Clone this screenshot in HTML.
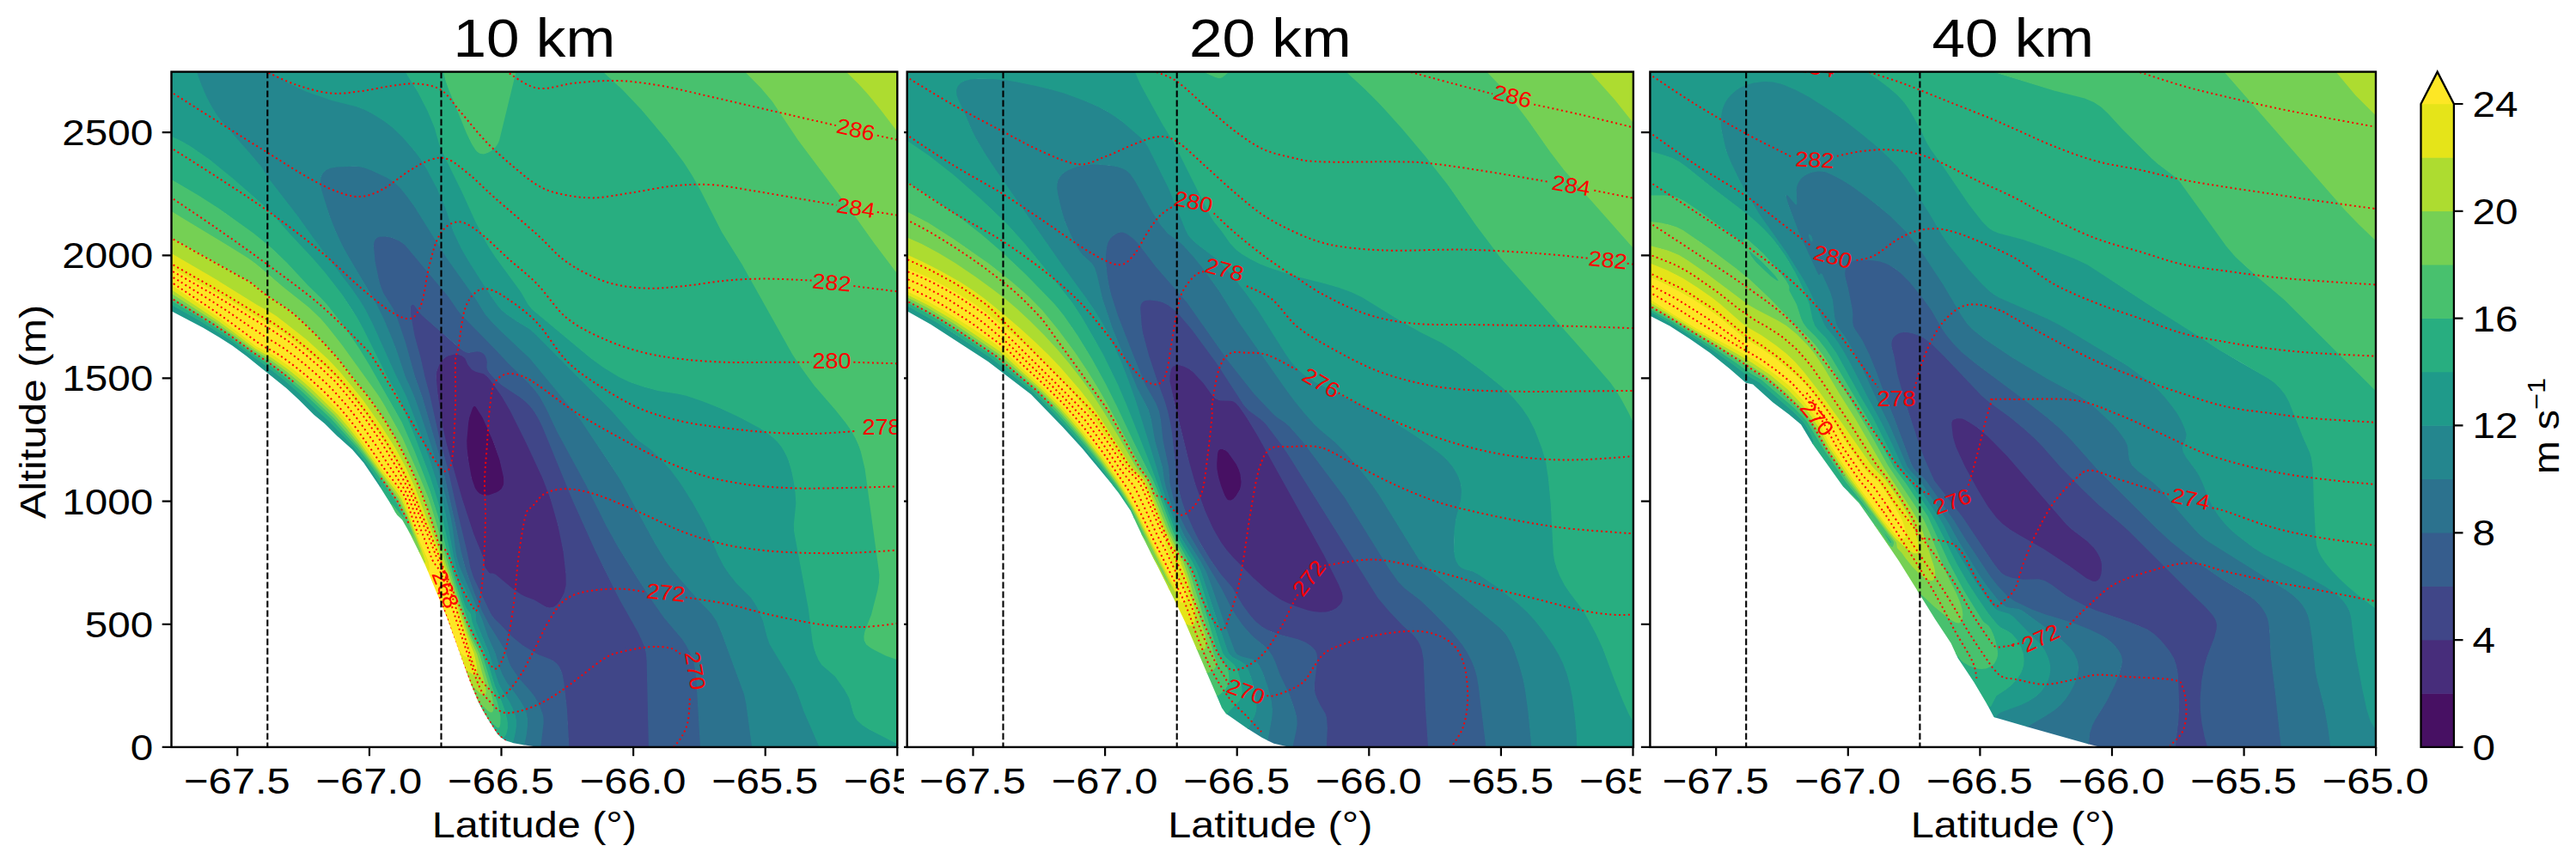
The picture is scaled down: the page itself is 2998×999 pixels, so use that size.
<!DOCTYPE html><html><head><meta charset="utf-8"><title>chart</title><style>html,body{margin:0;padding:0;background:#fff}svg{display:block}</style></head><body>
<svg width="2998" height="999" viewBox="0 0 2998 999">
<rect width="2998" height="999" fill="#fff"/>
<clipPath id="cf1"><rect x="199.5" y="83.6" width="844.8" height="786.3"/></clipPath>
<clipPath id="cx1"><rect x="0.0" y="0" width="1052.0" height="999"/></clipPath>
<g clip-path="url(#cx1)">
<rect x="0.0" y="0" width="1052.0" height="999" fill="#fff"/>
<g clip-path="url(#cf1)">
<path fill="#471063" fill-rule="evenodd" d="M550.8,472.6L549.0,475.3L545.5,485.9L544.2,493.5L542.7,508.5L542.9,523.5L546.3,547.6L549.8,562.6L552.1,568.5L554.1,571.7L556.8,574.6L561.4,577.0L564.5,577.5L569.1,577.3L578.2,574.1L581.7,571.8L584.3,569.4L586.4,565.7L587.1,562.6L586.8,554.9L581.7,533.9L572.4,508.4L563.8,488.8L560.3,482.3L554.3,473.2L552.5,472.1Z"/>
<path fill="#472d7b" fill-rule="evenodd" d="M525.4,412.3L518.5,415.2L513.3,419.7L509.9,425.9L507.1,434.8L507.2,445.5L512.6,486.1L517.6,511.7L535.6,575.9L550.6,622.1L562.5,651.1L563.1,654.0L562.5,657.0L564.1,661.4L568.8,667.6L570.4,668.4L573.5,668.2L576.3,669.4L595.8,685.7L606.3,693.0L610.8,695.3L621.5,699.4L634.9,707.1L639.5,708.3L644.2,707.6L647.3,705.8L650.7,702.3L656.4,692.6L658.3,687.1L659.3,682.6L659.5,672.0L656.7,644.9L651.9,619.4L644.4,590.5L635.4,564.0L618.9,527.4L597.0,482.8L586.9,464.8L574.7,446.8L569.3,439.9L564.7,435.6L561.6,434.0L554.1,432.2L549.8,429.7L545.2,424.3L541.9,416.8L539.2,414.4L533.0,412.1L528.5,411.9ZM553.7,473.7L561.6,486.2L574.1,514.6L581.4,535.6L586.2,556.6L586.1,563.9L583.7,568.9L581.3,571.2L577.8,573.3L568.9,576.5L563.1,576.6L558.7,574.9L555.8,572.6L552.9,568.3L548.9,556.4L544.9,533.9L543.6,522.0L543.3,513.0L545.2,492.1L546.3,486.1L549.9,475.4L551.2,473.3L552.4,472.9Z"/>
<path fill="#404688" fill-rule="evenodd" d="M477.3,356.9L477.1,364.8L481.6,390.3L488.9,417.1L493.9,439.6L499.2,459.1L511.6,514.5L520.1,544.6L532.6,600.3L542.4,640.6L546.8,661.6L549.1,669.3L552.1,676.8L570.2,714.2L575.6,721.8L582.2,727.9L594.2,740.7L603.3,748.5L613.8,755.9L625.8,762.8L643.3,769.8L647.1,772.8L650.6,777.2L652.8,781.6L654.4,787.6L658.0,814.5L659.7,832.5L661.6,869.9L755.7,869.9L753.4,769.5L752.6,760.4L750.2,751.4L746.5,742.3L742.0,733.3L718.4,691.3L701.8,658.3L690.4,634.3L668.4,585.2L633.9,501.0L627.4,487.3L620.3,475.9L614.3,469.0L606.7,462.8L584.2,447.7L576.8,441.2L570.7,434.7L568.6,431.8L567.4,428.9L567.6,421.5L566.7,416.9L565.3,413.8L563.3,411.3L560.2,409.4L557.1,408.5L553.9,408.5L547.9,410.0L545.0,410.2L542.2,409.5L538.9,407.7L529.4,400.2L492.2,367.2L489.3,364.2L482.2,354.6L480.6,353.9L478.8,354.2ZM518.2,416.3L522.6,414.0L528.5,412.7L532.9,412.8L537.7,414.4L541.2,417.2L544.5,424.7L549.2,430.4L553.9,432.9L562.8,435.3L567.2,438.8L570.6,442.8L583.4,460.7L593.1,477.2L612.1,515.2L631.6,557.2L640.6,581.0L649.4,612.1L655.5,642.1L658.5,669.0L658.7,681.0L656.6,689.9L653.9,695.8L650.1,701.8L647.3,704.7L643.9,706.8L639.5,707.5L635.2,706.4L621.9,698.6L611.2,694.6L606.7,692.3L596.2,685.1L576.7,668.7L573.6,667.4L570.6,667.6L569.2,666.9L564.9,661.0L563.3,657.0L563.9,654.0L563.3,650.9L551.4,621.9L537.9,580.7L519.9,517.2L515.4,497.5L509.4,457.5L507.6,438.0L508.5,432.1L511.3,424.7L513.9,420.3Z"/>
<path fill="#365d8d" fill-rule="evenodd" d="M438.3,276.5L436.1,278.8L434.7,281.9L434.2,289.5L436.3,307.6L440.5,327.1L442.8,334.6L445.6,341.8L457.2,360.2L461.1,369.1L471.1,398.7L482.2,438.1L490.8,462.1L513.9,541.6L529.2,609.1L536.2,643.6L542.1,664.6L550.6,688.6L559.6,710.5L568.7,727.7L587.3,757.7L591.7,771.1L594.1,776.6L603.2,789.9L620.7,810.2L624.4,816.2L628.0,823.7L631.1,832.6L632.0,840.0L628.5,869.9L662.4,869.9L659.9,825.0L656.2,793.4L654.5,784.4L651.3,776.8L649.1,773.7L646.0,770.7L640.6,767.6L626.2,762.1L608.2,751.2L596.3,741.5L582.8,727.4L575.3,720.3L572.3,716.3L569.4,710.8L551.4,672.9L547.6,661.4L543.2,640.4L533.4,600.1L520.9,544.4L512.4,514.3L500.0,458.9L494.7,439.4L489.7,416.9L482.4,390.2L477.9,364.5L477.9,357.6L479.2,354.9L480.5,354.7L481.8,355.3L488.7,364.7L491.6,367.8L536.3,406.8L541.8,410.2L544.9,411.0L555.5,409.2L559.8,410.1L562.7,411.9L564.7,414.2L566.3,418.6L566.8,421.5L566.4,427.5L567.1,430.6L571.7,437.1L579.2,444.5L585.3,449.5L604.7,462.3L610.7,466.9L616.7,472.7L622.3,480.2L627.1,488.5L631.6,497.9L666.1,582.0L692.5,640.7L720.8,697.7L742.8,736.7L749.5,751.6L751.8,760.6L752.6,769.5L754.9,869.9L814.8,869.9L815.7,868.5L810.7,784.5L808.4,772.4L804.0,760.3L799.4,751.3L794.5,743.8L773.3,718.8L759.8,699.4L741.8,672.2L719.3,635.7L705.9,611.2L682.5,563.8L648.9,501.9L635.5,473.8L628.8,461.8L623.3,454.2L614.3,444.2L591.8,422.2L576.9,406.2L537.1,365.7L533.3,361.1L522.2,344.8L471.8,284.7L464.2,279.5L453.6,275.4L444.5,274.5L441.4,275.0Z"/>
<path fill="#2c728e" fill-rule="evenodd" d="M405.5,193.1L392.0,193.8L384.4,194.9L378.8,197.7L375.2,201.2L372.6,206.9L372.1,213.0L373.2,220.6L376.6,232.6L386.5,261.1L396.5,283.7L403.9,297.2L433.7,347.3L446.2,372.2L459.8,405.1L471.1,438.7L482.7,465.1L504.1,528.8L516.1,571.0L524.3,604.6L529.6,641.6L531.1,649.6L534.1,659.9L561.1,723.2L567.1,741.3L575.9,760.6L580.6,776.8L583.6,784.8L589.4,795.2L599.7,808.7L605.8,817.7L609.2,823.7L611.7,829.6L613.3,837.0L613.3,844.5L612.0,854.9L609.6,867.2L623.9,869.6L629.3,869.9L632.7,841.5L632.5,835.5L631.5,830.9L627.4,820.3L622.4,811.3L617.9,805.2L603.8,789.4L594.9,776.2L592.4,770.9L588.0,757.3L569.3,727.3L560.7,710.8L552.9,692.2L544.3,668.9L540.5,656.9L537.0,643.4L529.9,608.9L514.6,541.4L491.5,461.9L482.9,437.9L471.9,398.4L462.4,370.4L457.9,359.8L446.4,341.4L443.5,334.4L440.9,325.4L436.6,304.4L434.9,286.5L435.4,282.1L436.7,279.2L438.7,277.1L441.6,275.7L449.0,275.4L456.4,277.0L465.3,281.0L471.2,285.3L521.6,345.3L532.7,361.6L536.5,366.3L576.3,406.8L591.2,422.8L615.2,446.3L622.7,454.7L628.7,463.1L635.6,475.7L648.1,502.3L681.7,564.2L705.1,611.6L718.7,636.1L741.2,672.6L759.2,699.9L772.7,719.3L793.7,744.0L798.7,751.7L803.3,760.7L807.7,772.6L810.0,786.0L814.9,868.4L813.9,869.9L875.9,869.9L869.0,818.9L866.8,808.4L840.2,736.4L834.5,722.8L828.3,713.7L812.5,697.2L791.5,673.2L781.5,661.3L774.8,652.1L762.8,632.4L723.1,559.3L677.4,490.3L669.4,479.7L617.3,417.1L582.8,384.4L572.3,373.7L565.4,365.8L552.8,345.4L520.3,299.8L483.8,241.5L474.8,228.9L467.3,219.5L461.3,213.6L453.7,208.1L446.2,204.1L431.2,197.2L425.1,194.9L419.1,193.5Z"/>
<path fill="#24868e" fill-rule="evenodd" d="M228.2,83.6L233.1,97.6L239.5,112.7L245.8,124.7L252.5,135.2L258.3,142.8L292.7,181.7L303.9,195.2L312.4,208.7L346.7,253.0L363.1,276.2L411.7,340.7L422.6,357.2L432.7,376.7L459.1,435.2L473.6,465.2L489.1,506.1L501.1,540.5L510.0,568.6L516.7,592.6L520.2,609.1L527.3,648.1L531.1,663.6L534.1,673.3L536.2,678.2L539.9,684.2L552.1,711.8L553.1,715.5L553.1,721.5L553.8,724.6L568.0,759.1L579.3,795.2L582.2,801.1L592.4,817.7L596.7,826.7L598.9,832.6L600.1,838.5L600.1,846.0L599.0,853.4L596.4,865.0L610.4,867.4L612.8,855.1L614.1,844.5L614.0,837.0L612.5,829.4L609.9,823.3L606.4,817.3L600.3,808.3L590.0,794.8L584.4,784.4L581.4,776.6L576.6,760.4L567.9,741.0L561.9,722.9L534.9,659.6L531.9,649.4L530.4,641.5L526.9,614.9L524.4,601.2L518.4,576.5L509.4,543.4L500.4,514.5L486.9,474.4L480.9,458.2L471.6,437.9L462.1,409.4L456.9,395.5L446.9,371.8L437.3,352.3L404.5,296.8L398.0,284.8L390.3,268.3L383.4,250.4L374.4,221.9L373.2,215.9L372.9,211.5L373.8,205.6L375.8,201.7L379.2,198.3L384.6,195.7L392.0,194.6L410.0,193.8L417.5,194.1L423.4,195.3L432.3,198.6L450.3,207.1L457.8,211.8L464.6,217.8L471.2,225.4L481.7,239.8L519.6,300.2L552.2,345.9L564.7,366.2L571.7,374.2L582.2,385.0L616.7,417.6L674.6,487.7L709.9,540.2L722.4,559.7L762.2,632.8L774.2,652.6L780.9,661.7L790.8,673.8L811.9,697.8L827.7,714.3L833.8,723.2L839.5,736.6L866.0,808.6L868.2,819.1L875.1,869.9L954.4,869.9L936.2,827.8L928.7,806.9L924.9,797.9L919.0,787.3L896.4,749.7L893.7,742.4L888.7,722.9L881.4,705.9L874.8,695.8L858.1,679.2L849.7,668.8L843.5,659.8L836.4,646.3L825.8,620.8L820.1,608.8L806.7,584.8L792.5,562.3L781.3,547.2L767.9,532.2L758.3,523.0L744.7,513.5L740.3,509.6L711.3,476.7L621.8,387.0L615.7,381.9L602.2,373.9L590.2,365.7L584.8,361.2L580.6,356.7L572.3,345.1L555.8,319.3L543.7,299.8L536.1,286.3L527.8,268.4L520.5,245.9L513.9,229.3L507.9,216.3L498.8,199.1L486.8,180.3L470.3,160.6L459.8,150.2L450.7,142.7L438.7,134.8L426.7,128.0L413.1,122.8L383.1,115.3L357.4,106.1L346.9,101.6L336.7,96.5L315.9,83.6Z"/>
<path fill="#1f9a8a" fill-rule="evenodd" d="M314.9,83.6L336.3,97.2L355.8,106.4L385.9,117.0L415.9,124.5L423.3,127.4L430.8,131.1L445.8,140.2L456.2,148.1L468.2,159.6L481.7,175.0L489.2,185.0L495.2,194.4L508.6,219.7L518.6,243.1L527.7,270.2L536.9,289.7L545.7,304.7L565.7,336.3L579.2,356.2L583.7,361.3L589.8,366.3L601.8,374.6L615.3,382.5L621.2,387.5L710.7,477.3L739.7,510.2L744.3,514.1L757.7,523.7L767.3,532.8L780.7,547.8L791.8,562.7L806.0,585.2L819.4,609.2L825.1,621.2L835.7,646.7L842.9,660.2L849.1,669.2L857.5,679.8L874.2,696.3L880.6,706.3L887.9,723.1L892.9,742.6L895.6,750.1L918.3,787.7L924.1,798.3L928.0,807.1L935.4,828.2L953.6,869.9L1044.3,869.9L1044.3,865.4L1011.7,848.7L1004.2,843.8L998.2,838.2L996.0,835.3L993.9,830.9L989.0,812.8L983.3,802.3L972.6,787.2L957.0,773.7L953.4,768.3L950.4,761.9L948.0,754.4L946.4,746.9L941.5,707.9L925.0,619.4L924.6,610.5L926.8,592.5L927.1,585.0L926.2,573.0L924.3,559.4L920.9,544.4L916.9,532.3L911.4,521.8L905.3,514.0L895.6,505.2L882.7,496.7L855.7,482.6L830.2,471.2L813.0,464.6L798.6,460.0L789.6,458.0L765.6,454.2L750.6,450.3L735.6,445.2L722.2,439.0L704.2,428.2L687.7,416.5L619.7,359.7L615.0,353.8L606.8,339.6L576.8,298.6L569.3,287.0L563.4,276.3L552.9,255.1L538.4,223.3L514.9,175.3L512.0,167.9L506.4,148.4L498.3,128.8L486.8,106.9L472.4,83.6ZM199.8,159.7L211.8,165.6L222.3,171.6L244.8,187.3L274.7,212.1L300.2,234.0L310.7,243.7L337.2,273.3L364.7,302.7L378.2,318.5L399.2,345.6L409.7,361.3L417.2,373.8L451.1,441.2L460.6,457.8L465.1,466.9L478.6,499.4L496.6,546.4L504.2,568.6L510.5,589.6L515.5,609.1L526.6,658.5L532.4,678.1L535.5,685.6L536.0,690.1L538.6,699.2L541.6,707.4L547.1,715.6L548.8,724.6L554.4,739.7L563.3,759.1L575.2,798.1L582.9,816.1L588.1,831.1L590.1,841.5L589.7,850.4L588.3,854.8L586.7,857.3L585.4,858.2L582.4,858.3L588.3,862.3L597.2,865.1L599.8,853.6L600.9,846.0L600.9,838.5L599.6,832.4L597.4,826.3L593.1,817.3L582.8,800.6L580.1,794.8L568.7,758.9L554.6,724.4L553.9,721.5L553.9,715.4L552.9,711.6L540.7,683.8L536.9,677.8L534.9,673.1L531.9,663.4L528.1,647.9L520.7,607.4L516.9,590.2L508.5,560.9L498.9,531.4L484.7,491.9L473.1,461.8L459.8,434.8L433.4,376.3L425.0,359.8L418.6,349.3L409.1,335.8L363.8,275.8L347.3,252.6L313.1,208.3L303.8,193.8L291.8,179.4L260.2,143.7L253.1,134.8L246.5,124.3L240.2,112.3L233.9,97.4L229.0,83.6L199.5,83.6ZM429.8,542.7L410.3,517.9L383.3,489.8L369.8,477.8L348.5,457.2L329.5,440.7L306.1,422.7L266.2,394.1L233.1,373.2L199.5,354.2L199.5,362.2L236.2,381.5L253.5,391.7L270.5,402.5L286.7,414.4L333.6,452.3L348.4,466.0L365.4,483.0L377.9,493.2L392.2,507.4L410.1,523.5L423.2,538.8L442.3,566.9L443.2,567.3L444.2,565.4L441.8,561.2Z"/>
<path fill="#28ae80" fill-rule="evenodd" d="M471.6,83.6L486.2,107.3L497.6,129.2L505.6,148.6L511.2,168.1L514.1,175.7L537.7,223.7L552.1,255.5L562.6,276.7L568.7,287.4L576.2,299.1L606.2,340.1L614.3,354.2L619.1,360.3L687.3,417.1L702.3,427.9L720.3,438.9L732.3,444.7L747.4,450.1L765.4,455.0L789.4,458.8L798.4,460.8L816.9,466.9L837.3,475.1L861.3,486.3L886.8,500.1L898.8,508.8L904.7,514.5L909.2,520.0L914.1,528.2L917.9,537.1L921.3,549.1L924.0,562.6L925.6,574.5L926.3,586.5L923.8,610.5L924.2,619.5L940.7,708.1L945.6,747.1L947.2,754.6L949.7,762.1L952.7,768.7L956.4,774.2L972.0,787.8L982.6,802.7L988.3,813.1L993.2,831.1L995.3,835.7L997.7,838.9L1003.8,844.4L1011.3,849.3L1044.3,866.3L1044.3,767.5L1031.2,762.8L1013.2,753.5L1008.7,749.8L1007.0,746.9L1006.2,744.0L1006.3,739.6L1007.3,735.1L1014.9,715.6L1021.5,690.1L1023.6,679.6L1024.2,670.5L1023.4,661.4L1008.1,550.4L1004.9,533.9L1000.8,520.4L994.7,506.8L987.0,494.8L974.1,478.2L948.1,448.3L933.9,428.8L922.1,410.8L864.8,308.4L840.6,269.8L822.7,233.8L810.5,211.3L801.5,196.3L791.2,181.3L767.6,151.2L744.4,124.2L724.2,103.2L702.7,83.6L599.8,83.6L579.8,164.9L576.2,170.7L571.8,174.7L565.9,177.9L561.5,178.7L558.7,178.1L555.1,175.2L551.3,170.1L546.9,162.0L521.5,100.4L519.0,92.9L516.7,83.6ZM199.5,209.8L232.8,229.4L261.3,248.1L298.8,275.4L309.2,283.8L319.7,293.1L337.5,310.8L359.7,334.8L373.7,348.2L382.7,358.3L405.8,388.7L427.0,421.7L461.5,481.7L468.1,494.4L483.1,529.0L500.3,573.1L509.3,601.6L523.3,657.1L535.6,698.9L549.7,739.6L557.6,754.7L560.1,760.6L571.6,798.7L578.0,817.6L581.5,834.0L581.7,841.5L580.7,846.3L579.5,846.6L578.2,845.9L566.7,835.6L578.8,854.5L583.3,859.0L585.7,858.9L587.3,857.8L589.1,855.2L591.0,847.5L590.7,839.9L588.5,829.4L583.6,815.9L575.9,797.9L564.0,758.9L555.1,739.3L549.6,724.4L547.9,715.4L546.8,713.1L543.8,709.7L542.4,707.1L539.4,698.9L536.8,689.9L536.3,685.4L533.1,677.9L527.4,658.3L516.3,608.9L511.7,590.9L506.9,574.4L500.4,554.6L481.8,505.4L465.9,466.6L461.4,457.4L451.8,440.8L422.4,381.9L414.8,368.2L398.3,343.0L377.3,316.1L363.8,300.5L337.8,272.7L318.8,251.1L309.8,241.7L270.8,207.6L243.7,185.5L221.2,170.0L210.7,164.1L199.5,158.7ZM199.8,355.2L232.7,373.8L265.8,394.8L309.7,426.3L330.8,442.8L349.6,459.3L369.2,478.3L382.7,490.4L412.7,521.9L424.8,537.2L432.2,547.6L443.4,565.5L442.9,566.4L441.3,565.5L454.7,586.7L469.7,604.6L471.8,605.8L471.9,603.6L459.8,580.7L431.3,540.0L416.3,520.5L386.3,487.5L351.8,455.0L333.5,439.2L311.8,422.7L294.7,411.3L267.2,391.2L249.1,379.2L233.2,369.1L199.5,349.5Z"/>
<path fill="#48c16e" fill-rule="evenodd" d="M701.7,83.6L725.2,105.3L746.5,127.8L775.5,162.3L795.9,189.2L805.5,204.2L814.8,220.7L840.2,270.6L863.5,307.7L922.3,412.7L933.3,429.2L947.5,448.7L972.2,477.3L984.2,492.2L990.5,501.2L995.5,510.2L998.9,517.6L1002.0,526.6L1006.6,546.1L1023.4,669.0L1023.0,678.0L1021.4,686.9L1014.1,715.4L1006.5,734.9L1005.4,741.0L1005.7,745.6L1008.2,750.4L1014.3,755.1L1030.8,763.5L1044.3,768.3L1044.3,317.7L1017.3,281.8L992.3,246.6L929.3,162.6L899.3,117.6L886.0,101.7L867.9,83.6ZM515.9,83.6L518.7,94.6L522.1,104.1L543.1,155.6L549.2,168.0L553.7,174.9L556.0,177.3L558.3,178.8L563.1,179.4L569.2,177.2L573.5,174.3L576.8,171.2L579.8,166.7L581.1,163.6L600.6,83.6ZM199.8,247.1L265.8,287.1L292.8,304.3L303.2,312.3L329.1,334.8L351.2,352.2L364.3,363.3L376.7,376.0L394.7,398.4L442.7,465.2L461.4,498.2L468.1,511.2L489.5,559.7L498.2,580.6L505.6,604.4L522.1,662.0L537.1,710.4L547.6,741.6L555.1,756.2L557.9,763.6L572.7,814.6L573.7,822.0L573.1,827.8L571.9,828.9L569.2,827.7L555.7,815.2L561.8,827.3L567.7,837.1L577.8,846.6L579.5,847.5L581.2,846.9L582.3,843.0L582.5,835.5L581.4,827.9L578.8,817.4L572.4,798.5L560.8,760.4L558.3,754.3L550.5,739.4L536.4,698.7L524.1,656.9L509.6,599.9L499.9,569.9L482.4,525.1L467.8,491.8L430.3,425.8L417.8,405.3L401.1,380.8L380.3,354.2L372.9,346.2L358.9,332.7L333.8,305.8L315.8,288.4L294.7,271.3L257.2,244.4L230.2,226.9L199.5,209.0ZM246.7,374.3L199.5,345.3L199.5,350.3L234.5,370.8L262.3,388.8L294.3,412.0L311.3,423.3L327.3,435.4L349.7,454.2L385.7,488.1L415.7,521.0L430.7,540.5L454.7,574.5L462.2,586.2L471.2,604.7L458.3,589.3L453.9,585.3L460.0,596.4L462.3,599.7L468.1,605.3L476.5,619.9L479.5,624.2L480.2,626.0L481.7,628.4L482.3,628.4L482.9,627.0L482.5,625.4L474.9,604.9L465.9,586.2L461.4,578.8L431.3,536.8L417.8,519.0L388.7,485.7L353.3,452.1L332.2,434.4L312.7,419.9L294.7,408.5L264.7,386.6Z"/>
<path fill="#75d054" fill-rule="evenodd" d="M866.9,83.6L885.4,102.3L898.7,118.1L928.7,163.1L991.7,247.1L1017.8,283.7L1044.3,318.8L1044.3,152.2L1035.8,140.8L1021.9,122.8L1008.8,107.0L998.3,95.7L985.7,83.6ZM199.8,278.0L290.5,328.8L296.9,333.3L311.5,345.3L331.8,358.2L340.4,364.8L366.2,389.0L388.7,412.8L428.3,462.2L441.2,480.0L456.2,503.8L467.1,523.7L482.1,555.2L493.3,582.1L517.2,654.1L544.2,738.1L554.5,762.1L564.1,797.7L565.0,804.0L564.2,808.3L563.0,808.8L560.2,807.4L547.8,796.1L556.3,816.5L567.3,827.2L570.3,829.3L572.2,829.6L573.7,828.2L574.2,826.6L574.3,818.9L572.4,810.1L567.9,794.4L557.7,760.4L548.2,740.9L536.4,705.5L522.9,661.8L506.4,604.2L498.9,580.4L488.9,556.3L468.4,509.8L447.8,472.4L440.3,460.2L398.3,401.9L381.8,380.9L372.8,370.5L359.3,357.8L329.7,334.2L297.7,306.9L288.7,300.6L270.7,289.2L199.5,246.1ZM199.5,346.1L246.3,375.0L264.3,387.2L294.3,409.2L312.3,420.6L331.8,435.0L352.7,452.7L388.7,486.9L417.2,519.5L430.7,537.3L462.2,581.4L472.6,601.7L478.6,616.7L481.9,627.3L478.2,620.8L475.4,617.9L488.0,643.2L489.2,645.2L489.8,645.2L490.3,643.5L490.0,640.5L488.4,635.8L474.9,601.1L465.1,580.3L417.8,515.7L405.8,500.9L390.8,483.7L354.8,449.3L332.2,430.7L314.9,418.2L296.2,407.0L270.7,387.9L249.7,373.0L199.5,340.9Z"/>
<path fill="#addc30" fill-rule="evenodd" d="M984.7,83.6L999.2,97.8L1009.7,109.2L1024.8,127.7L1044.3,153.3L1044.3,83.6ZM199.8,296.1L256.8,329.5L299.1,355.8L316.8,365.7L331.8,376.5L360.2,399.4L385.7,423.2L405.2,445.5L417.7,460.7L426.6,472.7L446.2,501.2L460.7,524.1L471.1,543.7L481.8,567.2L513.8,651.1L542.5,739.6L551.4,762.1L554.4,777.0L554.5,781.5L553.7,784.2L552.4,784.9L549.7,784.0L541.6,778.7L548.3,797.3L559.8,808.1L562.9,809.6L564.7,809.0L565.8,805.5L564.9,797.5L555.3,761.9L544.9,737.9L516.5,649.4L492.9,578.9L480.9,550.5L465.9,519.6L452.3,495.9L436.8,472.3L395.3,419.5L384.8,407.2L356.3,378.2L344.4,367.2L335.2,359.7L312.0,344.7L297.4,332.7L290.2,327.7L199.5,277.0ZM474.1,601.4L489.2,640.6L489.4,643.6L487.0,641.2L494.2,656.6L495.6,655.7L495.9,653.9L492.0,641.9L475.5,598.4L467.8,580.3L460.4,569.8L444.8,549.9L417.8,512.1L405.8,496.6L390.8,479.2L371.5,460.2L356.7,446.7L333.7,428.0L317.2,416.3L297.7,405.3L254.2,372.7L199.5,336.4L199.5,341.8L250.8,374.7L295.8,407.6L314.5,418.8L334.8,433.6L354.7,450.3L388.7,482.6L403.7,499.6L417.2,516.2L464.4,580.7Z"/>
<path fill="#e5e419" fill-rule="evenodd" d="M199.8,312.6L258.3,345.3L298.8,369.9L319.1,381.3L334.8,392.1L360.2,412.4L387.2,436.4L400.7,451.4L423.2,480.1L438.2,501.5L454.7,527.8L469.6,554.6L479.3,574.7L490.1,601.7L507.1,641.5L514.6,661.4L541.6,746.8L544.9,759.1L545.1,762.0L544.7,763.6L543.4,764.4L540.5,763.2L532.6,753.3L542.0,779.7L550.8,785.4L552.6,785.7L554.2,784.8L555.2,781.5L555.2,777.0L551.7,760.4L543.2,739.4L514.5,650.9L482.5,566.8L471.9,543.4L459.8,521.2L443.9,496.3L421.7,464.8L395.3,432.5L381.8,418.2L356.3,394.9L321.7,368.0L314.2,363.2L299.5,355.2L252.7,326.1L199.5,295.0ZM257.2,370.7L199.5,331.1L199.5,337.3L253.8,373.4L297.3,406.0L316.8,417.0L337.8,432.1L352.7,444.3L364.4,454.8L393.4,483.3L406.1,498.3L417.7,513.2L444.2,550.4L459.8,570.2L467.1,580.7L474.7,598.7L490.2,639.1L495.1,654.0L495.0,655.2L493.9,655.8L498.3,666.0L498.8,665.7L500.4,663.6L500.8,661.5L499.5,653.9L489.9,631.5L482.4,612.0L472.4,583.4L469.5,577.3L465.2,571.2L447.8,549.9L414.2,502.3L397.6,481.2L387.8,470.7L369.8,453.2L354.8,439.9L339.7,427.9L318.7,413.1L299.3,403.2Z"/>
<path fill="#fde725" fill-rule="evenodd" d="M199.8,332.1L256.8,371.3L298.8,403.8L318.3,413.8L339.3,428.5L355.7,441.8L373.7,458.0L391.7,475.9L404.5,490.7L425.4,519.2L444.2,546.4L465.8,573.2L470.4,580.7L483.1,616.3L489.1,631.7L498.8,654.1L500.0,661.5L499.7,663.2L498.0,665.3L519.9,718.5L533.2,755.1L537.2,760.9L540.2,764.0L543.5,765.2L545.2,764.2L545.9,762.0L545.7,758.9L542.4,746.6L515.4,661.1L506.4,637.5L490.8,601.3L477.9,569.3L462.8,540.4L443.3,508.0L428.3,485.8L404.3,454.6L392.3,440.5L380.2,428.7L352.2,404.7L328.7,386.7L318.7,380.2L299.2,369.2L253.6,341.7L199.5,311.6Z"/>
<clipPath id="cr1"><path clip-rule="evenodd" d="M1044.3,869.9L1044.3,83.6L199.5,83.6L199.5,362.2L225.6,375.7L250.1,389.6L270.5,402.5L286.7,414.4L336.6,455.0L365.4,483.0L377.9,493.2L392.2,507.4L407.3,520.7L415.6,529.4L423.3,538.8L452.2,582.3L460.0,596.4L462.3,599.7L468.1,605.3L481.6,629.9L496.9,662.8L519.9,718.5L547.1,794.2L554.6,812.9L565.9,834.2L576.5,851.2L581.5,857.6L588.3,862.3L596.0,864.9L626.4,869.9Z"/></clipPath>
<g clip-path="url(#cr1)">
<g fill="none" stroke="#ff0000" stroke-width="2.0" stroke-dasharray="2.0 3.4">
<path d="M588.4,82.5 C594.5,85.8 611.4,100.2 625.0,102.6 C638.6,104.9 654.2,98.0 670.1,96.5 C686.0,95.1 703.5,93.4 720.2,94.0 C736.9,94.6 753.6,97.2 770.4,100.0 C787.1,102.9 803.8,107.3 820.5,111.1 C837.2,114.8 853.9,118.8 870.6,122.6 C887.3,126.4 903.6,130.2 920.7,134.1 C937.8,138.1 964.6,144.2 973.3,146.2"/>
<path d="M1020.9,157.7 L1046.0,163.2"/>
<path d="M307.8,82.5 C314.0,85.3 332.4,94.7 345.4,99.0 C358.3,103.4 372.9,107.4 385.4,108.6 C398.0,109.7 408.8,107.5 420.5,106.1 C432.2,104.6 444.8,101.5 455.6,100.0 C466.5,98.6 476.0,96.7 485.7,97.5 C495.4,98.4 505.4,99.6 513.7,105.1 C522.1,110.5 527.1,120.1 535.8,130.1 C544.5,140.1 555.8,154.8 565.9,165.2 C575.9,175.6 586.1,184.4 595.9,192.8 C605.8,201.1 616.0,209.9 625.0,215.3 C634.0,220.7 639.2,222.8 650.1,225.3 C660.9,227.8 676.0,230.5 690.2,230.4 C704.4,230.2 719.4,226.7 735.3,224.3 C751.1,222.0 769.5,217.8 785.4,216.3 C801.3,214.8 814.6,214.2 830.5,215.3 C846.4,216.4 863.9,220.2 880.6,222.8 C897.3,225.5 915.3,228.7 930.7,231.4 C946.2,234.0 966.2,237.6 973.3,238.9"/>
<path d="M1020.9,246.9 L1046.0,250.9"/>
<path d="M197.5,106.1 C207.1,112.2 236.2,130.7 255.1,142.6 C274.1,154.6 293.7,166.9 311.3,177.7 C328.8,188.6 346.4,200.0 360.4,207.8 C374.4,215.6 385.4,220.8 395.5,224.3 C405.5,227.8 412.2,229.5 420.5,228.8 C428.9,228.2 436.4,225.3 445.6,220.3 C454.8,215.4 466.5,205.0 475.7,199.3 C484.8,193.6 493.2,188.6 500.7,186.2 C508.2,183.9 513.2,182.5 520.8,185.2 C528.3,188.0 536.6,195.3 545.8,202.8 C555.0,210.3 562.7,218.7 575.9,230.4 C589.1,242.0 611.0,260.4 625.0,273.0 C639.0,285.5 646.7,296.3 660.1,305.5 C673.5,314.7 690.2,323.1 705.2,328.1 C720.2,333.1 735.3,334.8 750.3,335.6 C765.3,336.4 779.5,334.6 795.4,333.1 C811.3,331.6 829.7,328.0 845.5,326.6 C861.4,325.2 874.1,324.6 890.6,324.6 C907.2,324.6 935.7,326.2 944.8,326.6"/>
<path d="M993.4,333.1 L1046.0,339.6"/>
<path d="M197.5,171.2 C207.1,177.3 236.2,195.4 255.1,207.8 C274.1,220.2 292.1,231.6 311.3,245.4 C330.5,259.2 352.2,275.5 370.4,290.5 C388.6,305.5 406.3,323.5 420.5,335.6 C434.7,347.7 446.0,357.3 455.6,363.2 C465.2,369.0 472.3,372.4 478.2,370.7 C484.0,369.0 487.4,362.3 490.7,353.1 C494.0,344.0 495.3,327.7 498.2,315.6 C501.1,303.4 504.5,289.2 508.2,280.5 C512.0,271.7 515.8,266.5 520.8,262.9 C525.8,259.3 531.6,257.2 538.3,258.9 C545.0,260.6 552.1,266.0 560.9,273.0 C569.6,279.9 580.2,290.9 590.9,300.5 C601.6,310.1 613.5,318.9 625.0,330.6 C636.5,342.3 646.7,359.8 660.1,370.7 C673.5,381.5 690.2,389.1 705.2,395.7 C720.2,402.4 735.3,407.0 750.3,410.8 C765.3,414.5 779.5,416.5 795.4,418.3 C811.3,420.1 828.8,421.2 845.5,421.8 C862.2,422.4 879.1,421.8 895.6,421.8 C912.2,421.8 936.6,421.8 944.8,421.8"/>
<path d="M993.4,421.8 L1046.0,423.3"/>
<path d="M197.5,228.8 C207.1,235.4 236.2,254.7 255.1,267.9 C274.1,281.1 292.1,293.8 311.3,308.0 C330.5,322.2 352.2,337.7 370.4,353.1 C388.6,368.6 409.4,389.4 420.5,400.8 C431.6,412.1 428.8,408.5 437.0,421.0 C445.2,433.5 458.4,456.7 470.0,476.0 C481.6,495.3 498.4,524.7 506.7,536.7 C515.0,548.8 516.7,549.4 520.0,548.3 C523.3,547.2 525.0,543.0 526.7,530.0 C528.4,517.0 529.5,488.3 530.0,470.0 C530.5,451.7 529.5,430.7 530.0,420.0 C530.5,409.3 531.5,415.7 533.3,405.8 C535.1,395.9 537.5,371.5 540.8,360.7 C544.2,349.8 548.7,344.6 553.3,340.6 C557.9,336.6 562.1,335.4 568.4,336.6 C574.6,337.9 581.5,341.6 590.9,348.1 C600.4,354.6 613.5,363.6 625.0,375.7 C636.5,387.8 647.6,408.3 660.1,420.8 C672.6,433.3 686.0,441.7 700.2,450.9 C714.4,460.1 729.4,469.2 745.3,475.9 C761.2,482.6 778.7,487.2 795.4,491.0 C812.1,494.7 828.8,496.4 845.5,498.5 C862.2,500.6 878.9,502.4 895.6,503.5 C912.4,504.6 929.1,505.2 945.8,505.0 C962.5,504.7 987.5,502.5 995.9,502.0"/>
<path d="M197.0,276.0 C197.3,276.2 196.6,275.8 198.8,277.0 C200.9,278.2 206.3,281.2 210.1,283.4 C213.9,285.5 217.7,287.6 221.5,289.8 C225.3,291.9 229.0,294.0 232.8,296.2 C236.6,298.3 240.4,300.4 244.2,302.5 C248.0,304.7 251.8,306.8 255.6,308.9 C259.4,311.0 263.2,313.1 267.0,315.2 C270.8,317.3 274.6,319.4 278.4,321.6 C282.2,323.7 286.2,325.5 289.8,327.9 C293.4,330.2 296.5,333.1 299.8,335.7 C303.1,338.3 306.3,341.0 309.7,343.5 C313.1,346.0 316.8,348.3 320.3,350.6 C323.9,353.0 327.6,355.2 331.0,357.6 C334.5,360.1 338.0,362.5 341.2,365.2 C344.5,367.9 347.5,370.8 350.6,373.6 C353.6,376.4 356.7,379.3 359.7,382.2 C362.7,385.1 365.7,388.1 368.6,391.0 C371.5,394.0 374.5,397.0 377.3,400.0 C380.2,403.1 383.0,406.2 385.8,409.4 C388.6,412.5 391.4,415.5 394.1,418.8 C396.8,422.0 399.2,425.5 401.8,428.8 C404.4,432.1 406.9,435.5 409.5,438.8 C412.1,442.1 414.8,445.4 417.5,448.6 C420.1,451.9 422.9,455.0 425.5,458.3 C428.1,461.7 430.6,465.1 433.1,468.5 C435.5,472.0 438.0,475.4 440.5,478.9 C442.9,482.3 445.4,485.8 447.7,489.4 C450.0,493.0 452.1,496.8 454.3,500.5 C456.5,504.2 458.8,507.8 460.9,511.6 C463.1,515.4 465.0,519.4 467.0,523.3 C469.0,527.2 471.0,531.1 473.0,535.1 C474.9,539.1 476.9,543.0 478.8,547.0 C480.6,551.1 482.4,555.3 484.2,559.4 C486.0,563.5 487.9,567.5 489.6,571.7 C491.3,575.9 492.8,580.3 494.4,584.6 C496.0,588.9 497.6,593.2 499.1,597.6 C500.7,602.0 502.1,606.5 503.5,611.0 C505.0,615.4 506.4,619.9 507.9,624.4 C509.3,628.8 510.2,634.7 512.2,637.8 C514.2,640.9 515.9,635.5 520.0,643.0 C524.1,650.5 531.7,672.4 536.7,683.0 C541.7,693.6 547.0,702.2 550.0,706.7 C553.0,711.2 553.3,712.8 555.0,710.0 C556.7,707.2 558.6,700.0 560.0,690.0 C561.4,680.0 562.5,665.0 563.3,650.0 C564.1,635.0 564.9,615.0 565.0,600.0 C565.1,585.0 563.7,573.3 564.0,560.0 C564.3,546.7 565.7,534.2 566.7,520.0 C567.7,505.8 568.6,487.1 570.0,475.0 C571.4,462.9 572.1,454.0 575.0,447.5 C577.9,441.0 582.5,437.8 587.5,436.0 C592.5,434.2 598.9,435.2 605.0,437.0 C611.1,438.8 613.1,439.8 624.0,447.0 C634.9,454.2 654.1,469.7 670.1,480.1 C686.2,490.4 703.5,500.0 720.2,509.2 C736.9,518.3 753.6,527.7 770.4,535.2 C787.1,542.7 803.8,549.4 820.5,554.3 C837.2,559.1 853.9,561.9 870.6,564.3 C887.3,566.6 904.0,567.6 920.7,568.3 C937.4,569.0 949.9,568.6 970.8,568.3 C991.7,568.0 1033.5,566.6 1046.0,566.3"/>
<path d="M197.0,305.9 C197.2,306.0 196.8,305.8 197.9,306.5 C199.1,307.1 201.1,308.3 204.1,309.9 C207.0,311.6 211.7,314.3 215.6,316.4 C219.4,318.6 223.3,320.7 227.1,322.9 C230.9,325.1 234.8,327.2 238.6,329.4 C242.5,331.5 246.3,333.7 250.1,335.9 C254.0,338.0 257.7,340.3 261.5,342.5 C265.3,344.7 269.0,347.0 272.7,349.3 C276.4,351.6 280.2,353.8 283.9,356.1 C287.7,358.3 291.4,360.6 295.1,362.9 C298.9,365.1 302.7,367.3 306.5,369.5 C310.3,371.7 314.2,373.8 317.9,376.1 C321.6,378.4 325.1,380.9 328.6,383.4 C332.1,385.9 335.6,388.4 339.1,390.9 C342.5,393.5 345.8,396.2 349.1,398.9 C352.4,401.6 355.7,404.3 359.0,407.0 C362.2,409.8 365.4,412.6 368.6,415.4 C371.8,418.2 375.0,421.0 378.1,423.9 C381.2,426.8 384.2,429.8 387.2,432.8 C390.2,435.8 393.2,438.8 396.0,442.0 C398.9,445.1 401.5,448.5 404.2,451.8 C406.9,455.1 409.7,458.3 412.3,461.7 C414.9,465.1 417.5,468.5 420.1,471.9 C422.7,475.3 425.3,478.7 427.8,482.2 C430.3,485.7 432.7,489.3 435.1,492.9 C437.6,496.4 440.0,500.0 442.4,503.6 C444.7,507.3 447.2,510.8 449.5,514.5 C451.7,518.3 453.9,522.1 456.1,525.9 C458.3,529.7 460.6,533.4 462.7,537.3 C464.9,541.1 467.0,545.0 469.1,548.9 C471.1,552.9 472.9,557.1 474.9,561.1 C476.8,565.2 478.9,569.1 480.7,573.3 C482.5,577.5 484.2,581.8 485.9,586.1 C487.6,590.4 489.2,594.8 491.0,599.0 C492.7,603.3 494.6,607.4 496.4,611.6 C498.2,615.8 500.0,620.0 501.7,624.3 C503.5,628.5 505.1,632.9 506.8,637.2 C508.5,641.5 510.3,645.7 511.9,650.1 C513.6,654.4 512.7,653.2 516.8,663.2 C521.0,673.1 530.1,695.5 536.7,710.0 C543.3,724.5 551.2,739.5 556.7,750.0 C562.2,760.5 566.1,768.8 570.0,773.3 C573.9,777.8 576.7,780.6 580.0,776.7 C583.3,772.8 587.0,762.8 590.0,750.0 C593.0,737.2 596.1,716.7 598.3,700.0 C600.5,683.3 601.1,666.7 603.3,650.0 C605.5,633.3 608.9,610.1 611.7,600.0 C614.5,589.9 616.1,593.6 620.0,589.3 C623.9,585.1 628.4,577.6 635.0,574.3 C641.7,571.0 650.1,569.0 660.1,569.3 C670.1,569.6 681.0,571.7 695.2,576.3 C709.4,580.9 728.6,589.7 745.3,596.9 C762.0,604.0 778.7,613.1 795.4,619.4 C812.1,625.7 828.8,630.8 845.5,634.4 C862.2,638.1 878.9,639.9 895.6,641.5 C912.4,643.0 929.1,643.6 945.8,644.0 C962.5,644.3 979.2,644.1 995.9,643.5 C1012.6,642.9 1037.6,641.0 1046.0,640.5"/>
<path d="M197.0,313.8 C197.1,313.9 196.0,313.3 197.6,314.2 C199.3,315.1 203.6,317.5 207.0,319.4 C210.4,321.3 214.2,323.5 217.8,325.5 C221.5,327.6 225.1,329.7 228.7,331.8 C232.4,333.8 236.0,335.9 239.6,338.0 C243.3,340.1 247.0,342.1 250.5,344.2 C254.1,346.3 257.7,348.5 261.2,350.7 C264.8,352.8 268.3,355.0 271.8,357.2 C275.3,359.4 278.9,361.6 282.4,363.8 C285.9,366.0 289.4,368.2 292.9,370.4 C296.5,372.5 300.0,374.7 303.6,376.8 C307.2,378.9 310.9,380.9 314.4,383.1 C317.9,385.3 321.3,387.7 324.7,390.0 C328.1,392.3 331.6,394.5 334.9,396.9 C338.3,399.2 341.4,401.8 344.6,404.4 C347.8,406.9 351.0,409.3 354.1,411.9 C357.3,414.5 360.3,417.1 363.4,419.8 C366.5,422.4 369.6,424.9 372.7,427.7 C375.7,430.4 378.5,433.2 381.5,436.0 C384.4,438.7 387.5,441.4 390.3,444.3 C393.1,447.2 395.5,450.4 398.2,453.5 C400.8,456.6 403.5,459.6 406.1,462.8 C408.6,465.9 411.1,469.2 413.6,472.4 C416.1,475.6 418.6,478.8 421.1,482.0 C423.5,485.3 425.9,488.6 428.2,492.0 C430.6,495.3 432.9,498.8 435.2,502.2 C437.5,505.6 439.8,508.9 442.1,512.4 C444.3,515.9 446.5,519.4 448.6,523.0 C450.8,526.5 452.9,530.1 455.0,533.7 C457.2,537.2 459.5,540.7 461.6,544.3 C463.7,547.9 465.6,551.6 467.7,555.3 C469.7,559.0 471.7,562.7 473.6,566.5 C475.5,570.3 477.5,574.0 479.2,578.0 C481.0,581.9 482.5,586.2 484.1,590.3 C485.7,594.3 487.3,598.5 489.0,602.5 C490.7,606.5 492.5,610.4 494.2,614.4 C495.9,618.4 497.7,622.4 499.3,626.4 C501.0,630.5 502.6,634.7 504.2,638.7 C505.8,642.7 506.5,645.2 508.8,650.4 C511.1,655.6 513.5,657.6 518.0,670.0 C522.5,682.4 530.2,706.7 536.0,725.0 C541.8,743.3 547.3,767.0 553.0,780.0 C558.7,793.0 565.0,797.7 570.0,803.0 C575.0,808.3 577.8,813.9 583.3,811.7 C588.8,809.5 597.2,798.6 603.3,790.0 C609.4,781.4 614.4,770.5 620.0,760.0 C625.6,749.5 630.9,736.6 636.7,726.7 C642.5,716.8 647.8,706.9 655.1,700.6 C662.3,694.3 669.3,691.6 680.1,689.1 C691.0,686.6 708.4,685.6 720.2,685.6 C732.1,685.6 746.1,688.5 751.3,689.1"/>
<path d="M797.9,695.6 C805.9,696.8 829.2,699.8 845.5,703.1 C861.8,706.4 878.9,711.9 895.6,715.6 C912.4,719.4 931.6,723.3 945.8,725.7 C960.0,728.0 970.0,729.0 980.8,729.7 C991.7,730.3 1000.1,730.3 1010.9,729.7 C1021.8,729.0 1040.2,726.3 1046.0,725.7"/>
<path d="M197.0,320.5 C197.6,320.8 198.6,321.3 200.5,322.4 C202.4,323.6 205.5,325.3 208.5,327.2 C211.6,329.1 215.5,331.5 219.0,333.7 C222.4,335.8 225.9,338.0 229.4,340.1 C232.9,342.2 236.3,344.4 239.8,346.5 C243.3,348.7 246.8,350.9 250.2,353.0 C253.6,355.2 257.1,357.4 260.5,359.6 C263.9,361.9 267.2,364.1 270.6,366.4 C273.9,368.7 277.3,371.0 280.6,373.2 C284.0,375.5 287.3,377.8 290.7,380.1 C294.0,382.3 297.5,384.5 300.8,386.8 C304.2,389.0 307.4,391.4 310.9,393.6 C314.3,395.8 318.0,397.7 321.5,399.9 C324.9,402.0 328.4,404.2 331.7,406.5 C335.0,408.8 338.2,411.3 341.4,413.7 C344.6,416.1 347.7,418.6 350.8,421.1 C354.0,423.6 357.0,426.2 360.1,428.7 C363.1,431.3 366.1,433.9 369.1,436.6 C372.1,439.2 375.0,442.0 377.9,444.7 C380.8,447.4 383.7,450.2 386.4,453.0 C389.2,455.9 391.8,458.9 394.5,461.9 C397.1,464.8 399.8,467.7 402.4,470.8 C405.0,473.8 407.4,477.0 409.9,480.2 C412.4,483.3 414.9,486.4 417.3,489.6 C419.7,492.8 422.0,496.2 424.3,499.5 C426.6,502.8 428.9,506.1 431.2,509.4 C433.5,512.8 435.9,516.1 438.1,519.4 C440.3,522.8 442.5,526.3 444.7,529.7 C446.9,533.1 449.0,536.6 451.3,540.0 C453.5,543.4 455.9,546.7 458.1,550.0 C460.4,553.4 462.6,556.8 464.7,560.3 C466.9,563.7 469.2,567.1 471.2,570.7 C473.2,574.3 475.1,578.1 476.7,582.0 C478.4,586.0 479.7,590.3 481.3,594.4 C482.8,598.5 484.3,602.6 485.8,606.7 C487.4,610.7 489.0,614.8 490.6,618.8 C492.2,622.8 493.8,626.8 495.4,630.9 C496.9,634.9 498.6,639.4 500.0,643.1 C501.4,646.9 501.5,648.7 504.0,653.5 C506.5,658.4 510.2,659.6 515.0,672.0 C519.8,684.4 526.0,707.2 533.0,728.0 C540.0,748.8 550.5,781.9 556.7,796.7 C562.9,811.5 565.3,811.3 570.0,816.7 C574.7,822.1 579.5,827.4 585.0,829.3 C590.5,831.2 596.3,829.8 603.3,828.3 C610.2,826.8 618.9,823.6 626.7,820.0 C634.5,816.4 641.7,812.2 650.0,806.7 C658.3,801.2 667.8,793.4 676.7,786.7 C685.6,780.0 696.0,771.2 703.3,766.7 C710.6,762.2 711.6,762.0 720.2,759.7 C728.9,757.5 745.3,754.1 755.3,753.2 C765.3,752.4 773.9,753.1 780.4,754.7 C786.9,756.4 792.1,761.8 794.4,763.2"/>
<path d="M802.9,813.4 C802.5,818.0 802.1,833.4 800.4,840.9 C798.8,848.4 795.8,853.5 792.9,858.5 C790.0,863.5 784.6,868.9 782.9,871.0"/>
<path d="M197.4,327.4 C197.7,327.5 197.2,327.1 199.0,328.3 C200.8,329.4 205.1,332.4 208.2,334.4 C211.2,336.4 214.3,338.5 217.3,340.5 C220.4,342.5 223.4,344.6 226.5,346.6 C229.6,348.7 232.6,350.7 235.7,352.7 C238.7,354.8 241.8,356.8 244.8,358.9 C247.9,360.9 250.9,363.0 253.9,365.0 C256.9,367.1 259.9,369.3 262.8,371.4 C265.8,373.6 268.7,375.7 271.6,377.9 C274.5,380.1 277.5,382.3 280.4,384.4 C283.3,386.6 286.3,388.7 289.2,390.9 C292.1,393.1 295.0,395.3 298.0,397.4 C301.0,399.5 304.1,401.5 307.3,403.4 C310.5,405.3 314.0,406.8 317.3,408.7 C320.5,410.5 323.6,412.5 326.6,414.6 C329.7,416.6 332.6,418.8 335.6,421.0 C338.5,423.1 341.4,425.3 344.3,427.5 C347.1,429.8 349.9,432.1 352.7,434.4 C355.5,436.6 358.3,438.9 361.1,441.3 C363.8,443.7 366.4,446.2 369.1,448.6 C371.7,451.0 374.5,453.4 377.1,455.9 C379.6,458.4 382.1,461.0 384.6,463.6 C387.1,466.2 389.7,468.7 392.1,471.3 C394.6,474.0 397.0,476.7 399.3,479.5 C401.7,482.2 403.9,485.0 406.2,487.9 C408.4,490.7 410.7,493.5 412.9,496.4 C415.1,499.3 417.2,502.4 419.3,505.3 C421.4,508.3 423.5,511.3 425.6,514.3 C427.7,517.3 429.9,520.2 431.9,523.2 C434.0,526.3 436.1,529.3 438.1,532.3 C440.2,535.4 442.2,538.5 444.3,541.5 C446.4,544.5 448.5,547.4 450.7,550.4 C452.8,553.3 455.1,556.1 457.3,559.0 C459.5,561.9 461.7,564.8 463.9,567.7 C466.0,570.7 468.4,573.4 470.2,576.7 C472.0,580.0 473.3,583.8 474.6,587.5 C476.0,591.2 477.2,595.1 478.5,598.9 C479.8,602.7 481.1,606.5 482.4,610.3 C483.7,614.1 485.7,619.7 486.4,621.6"/>
<path d="M510.0,690.0 C511.8,695.3 517.0,710.3 521.0,722.0 C525.0,733.7 529.5,747.8 534.0,760.0 C538.5,772.2 543.3,784.0 548.0,795.0 C552.7,806.0 557.0,816.5 562.0,826.0 C567.0,835.5 573.3,845.7 578.0,852.0 C582.7,858.3 588.0,862.0 590.0,864.0"/>
<path d="M197.3,345.7 C197.6,345.9 198.6,346.6 199.3,347.1 C199.9,347.5 200.6,348.0 201.3,348.4 C201.9,348.9 202.6,349.4 203.3,349.8 C203.9,350.3 204.4,350.6 205.2,351.2 C206.1,351.7 207.2,352.4 208.4,353.2 C209.6,353.9 211.2,354.8 212.6,355.7 C214.0,356.5 215.4,357.4 216.8,358.2 C218.2,359.0 219.6,359.9 221.0,360.7 C222.4,361.6 223.8,362.4 225.2,363.2 C226.6,364.1 228.0,364.9 229.4,365.7 C230.8,366.6 232.2,367.4 233.6,368.3 C235.0,369.1 236.4,370.0 237.8,370.8 C239.2,371.7 240.5,372.6 241.9,373.4 C243.3,374.3 244.6,375.2 246.0,376.1 C247.4,376.9 248.7,377.8 250.0,378.7 C251.4,379.6 252.7,380.5 254.1,381.4 C255.4,382.3 256.7,383.2 258.1,384.1 C259.4,385.0 260.8,385.9 262.1,386.8 C263.4,387.7 264.8,388.6 266.1,389.5 C267.4,390.4 268.7,391.4 270.1,392.3 C271.4,393.2 272.6,394.2 273.9,395.1 C275.2,396.1 276.5,397.0 277.8,398.0 C279.1,398.9 280.4,399.9 281.7,400.8 C283.0,401.8 284.3,402.7 285.6,403.7 C286.9,404.6 288.2,405.5 289.4,406.5 C290.7,407.5 291.9,408.5 293.2,409.4 C294.6,410.4 295.9,411.2 297.3,412.1 C298.6,413.0 300.0,413.9 301.4,414.7 C302.7,415.6 304.1,416.5 305.5,417.4 C306.8,418.2 308.2,419.1 309.6,420.0 C310.9,420.9 312.2,421.8 313.5,422.8 C314.8,423.7 316.0,424.7 317.3,425.7 C318.6,426.6 319.9,427.6 321.2,428.5 C322.4,429.5 323.7,430.4 325.0,431.4 C326.3,432.4 327.6,433.3 328.9,434.3 C330.1,435.2 331.4,436.2 332.6,437.2 C333.9,438.2 335.1,439.2 336.3,440.2 C337.6,441.2 338.8,442.3 340.0,443.3 C341.2,444.3 343.0,445.9 343.6,446.4"/>
<path d="M455.0,600.0 L465.0,615.0"/>
<path d="M443.4,556.6 C444.0,557.3 445.6,559.5 446.7,561.0 C447.8,562.5 448.9,564.0 450.0,565.5 C451.1,567.0 452.2,568.4 453.2,569.9 C454.3,571.4 455.4,572.9 456.4,574.5 C457.5,576.0 458.5,577.5 459.5,579.1 C460.6,580.6 461.6,582.2 462.6,583.8 C463.5,585.4 464.4,587.1 465.3,588.8 C466.2,590.5 466.9,592.3 467.8,594.0 C468.7,595.7 469.7,597.2 470.7,598.9 C471.6,600.6 472.5,602.2 473.3,604.0 C474.1,605.7 475.2,608.5 475.6,609.4"/>
</g>
<text x="996.0" y="159.6" font-family="Liberation Sans, sans-serif" font-size="25.0" text-anchor="middle" fill="#ff0000" textLength="45.0" lengthAdjust="spacingAndGlyphs" transform="rotate(13.0 996.0 151.0)">286</text>
<text x="996.0" y="250.6" font-family="Liberation Sans, sans-serif" font-size="25.0" text-anchor="middle" fill="#ff0000" textLength="45.0" lengthAdjust="spacingAndGlyphs" transform="rotate(9.0 996.0 242.0)">284</text>
<text x="968.0" y="337.6" font-family="Liberation Sans, sans-serif" font-size="25.0" text-anchor="middle" fill="#ff0000" textLength="45.0" lengthAdjust="spacingAndGlyphs" transform="rotate(5.0 968.0 329.0)">282</text>
<text x="968.0" y="428.6" font-family="Liberation Sans, sans-serif" font-size="25.0" text-anchor="middle" fill="#ff0000" textLength="45.0" lengthAdjust="spacingAndGlyphs" transform="rotate(0.0 968.0 420.0)">280</text>
<text x="1026.0" y="505.6" font-family="Liberation Sans, sans-serif" font-size="25.0" text-anchor="middle" fill="#ff0000" textLength="45.0" lengthAdjust="spacingAndGlyphs" transform="rotate(0.0 1026.0 497.0)">278</text>
<text x="775.0" y="698.6" font-family="Liberation Sans, sans-serif" font-size="25.0" text-anchor="middle" fill="#ff0000" textLength="45.0" lengthAdjust="spacingAndGlyphs" transform="rotate(6.0 775.0 690.0)">272</text>
<text x="809.0" y="789.6" font-family="Liberation Sans, sans-serif" font-size="25.0" text-anchor="middle" fill="#ff0000" textLength="45.0" lengthAdjust="spacingAndGlyphs" transform="rotate(80.0 809.0 781.0)">270</text>
<text x="518.5" y="694.6" font-family="Liberation Sans, sans-serif" font-size="25.0" text-anchor="middle" fill="#ff0000" textLength="45.0" lengthAdjust="spacingAndGlyphs" transform="rotate(68.0 518.5 686.0)">268</text>
</g>
<line x1="311.3" y1="83.6" x2="311.3" y2="869.9" stroke="#000" stroke-width="2.1" stroke-dasharray="7.7 3.3"/>
<line x1="513.5" y1="83.6" x2="513.5" y2="869.9" stroke="#000" stroke-width="2.1" stroke-dasharray="7.7 3.3"/>
</g>
<rect x="199.5" y="83.6" width="844.8" height="786.3" fill="none" stroke="#000" stroke-width="2.4"/>
<text x="275.8" y="923.7" font-family="Liberation Sans, sans-serif" font-size="42.6" text-anchor="middle" fill="#000" textLength="123.8" lengthAdjust="spacingAndGlyphs">−67.5</text>
<text x="429.4" y="923.7" font-family="Liberation Sans, sans-serif" font-size="42.6" text-anchor="middle" fill="#000" textLength="123.8" lengthAdjust="spacingAndGlyphs">−67.0</text>
<text x="583.0" y="923.7" font-family="Liberation Sans, sans-serif" font-size="42.6" text-anchor="middle" fill="#000" textLength="123.8" lengthAdjust="spacingAndGlyphs">−66.5</text>
<text x="736.6" y="923.7" font-family="Liberation Sans, sans-serif" font-size="42.6" text-anchor="middle" fill="#000" textLength="123.8" lengthAdjust="spacingAndGlyphs">−66.0</text>
<text x="890.2" y="923.7" font-family="Liberation Sans, sans-serif" font-size="42.6" text-anchor="middle" fill="#000" textLength="123.8" lengthAdjust="spacingAndGlyphs">−65.5</text>
<text x="1043.8" y="923.7" font-family="Liberation Sans, sans-serif" font-size="42.6" text-anchor="middle" fill="#000" textLength="123.8" lengthAdjust="spacingAndGlyphs">−65.0</text>
<text x="178.2" y="884.9" font-family="Liberation Sans, sans-serif" font-size="42.6" text-anchor="end" fill="#000" textLength="26.5" lengthAdjust="spacingAndGlyphs">0</text>
<text x="178.2" y="741.8" font-family="Liberation Sans, sans-serif" font-size="42.6" text-anchor="end" fill="#000" textLength="79.5" lengthAdjust="spacingAndGlyphs">500</text>
<text x="178.2" y="598.6" font-family="Liberation Sans, sans-serif" font-size="42.6" text-anchor="end" fill="#000" textLength="106.0" lengthAdjust="spacingAndGlyphs">1000</text>
<text x="178.2" y="455.4" font-family="Liberation Sans, sans-serif" font-size="42.6" text-anchor="end" fill="#000" textLength="106.0" lengthAdjust="spacingAndGlyphs">1500</text>
<text x="178.2" y="312.3" font-family="Liberation Sans, sans-serif" font-size="42.6" text-anchor="end" fill="#000" textLength="106.0" lengthAdjust="spacingAndGlyphs">2000</text>
<text x="178.2" y="169.1" font-family="Liberation Sans, sans-serif" font-size="42.6" text-anchor="end" fill="#000" textLength="106.0" lengthAdjust="spacingAndGlyphs">2500</text>
<path d="M276.3,869.9v10.4M429.9,869.9v10.4M583.5,869.9v10.4M737.1,869.9v10.4M890.7,869.9v10.4M1044.3,869.9v10.4M199.5,869.9h-10.8M199.5,726.8h-10.8M199.5,583.6h-10.8M199.5,440.4h-10.8M199.5,297.3h-10.8M199.5,154.1h-10.8" stroke="#000" stroke-width="2.2" fill="none"/>
<text x="621.9" y="975.4" font-family="Liberation Sans, sans-serif" font-size="42.6" text-anchor="middle" fill="#000" textLength="238.1" lengthAdjust="spacingAndGlyphs">Latitude (°)</text>
<text x="621.9" y="66.0" font-family="Liberation Sans, sans-serif" font-size="62.5" text-anchor="middle" fill="#000" textLength="188.6" lengthAdjust="spacingAndGlyphs">10 km</text>
<text x="53.0" y="479.4" font-family="Liberation Sans, sans-serif" font-size="42.6" text-anchor="middle" fill="#000" textLength="249.2" lengthAdjust="spacingAndGlyphs" transform="rotate(-90.0 53.0 479.4)">Altitude (m)</text>
</g>
<clipPath id="cf2"><rect x="1055.7" y="83.6" width="845.2" height="786.3"/></clipPath>
<clipPath id="cx2"><rect x="1052.0" y="0" width="857.7" height="999"/></clipPath>
<g clip-path="url(#cx2)">
<rect x="1052.0" y="0" width="857.7" height="999" fill="#fff"/>
<g clip-path="url(#cf2)">
<path fill="#471063" fill-rule="evenodd" d="M1417.2,524.7L1416.1,529.5L1415.4,543.0L1416.3,550.6L1418.0,558.1L1421.6,569.9L1426.2,580.1L1427.7,582.0L1429.3,583.0L1432.6,583.3L1435.7,581.5L1438.8,578.3L1443.6,570.1L1444.9,565.6L1445.3,561.0L1444.2,551.9L1442.2,545.9L1439.3,539.8L1429.8,526.5L1426.7,523.9L1422.1,522.3L1418.8,522.9Z"/>
<path fill="#472d7b" fill-rule="evenodd" d="M1364.8,426.1L1362.6,428.8L1361.3,433.4L1360.6,441.0L1361.2,447.1L1385.7,547.6L1392.6,570.1L1403.6,599.6L1412.6,618.7L1421.4,633.2L1427.0,640.8L1436.1,651.3L1459.2,674.6L1475.8,689.0L1484.8,695.6L1490.9,699.3L1498.3,703.0L1508.2,706.9L1522.1,711.4L1529.9,713.1L1537.5,713.6L1545.1,713.0L1551.1,711.1L1555.7,708.6L1560.8,703.7L1562.5,700.7L1563.3,697.5L1563.4,694.5L1562.6,689.9L1558.9,680.8L1540.9,644.8L1464.2,506.8L1449.4,482.8L1441.8,471.9L1437.2,467.5L1432.5,466.0L1419.1,465.4L1414.4,463.2L1411.6,460.3L1403.2,448.3L1398.3,442.3L1390.8,434.3L1384.7,429.4L1378.7,426.2L1372.6,424.4L1367.9,424.6ZM1418.9,523.8L1420.6,523.1L1423.4,523.3L1426.3,524.6L1429.2,527.0L1438.6,540.2L1441.5,546.2L1443.4,552.1L1444.5,561.0L1444.1,565.4L1442.9,569.9L1438.2,577.8L1435.2,580.9L1432.4,582.5L1429.6,582.3L1428.3,581.4L1425.4,577.0L1420.9,565.1L1418.0,554.9L1416.4,546.0L1416.2,540.0L1417.1,528.1L1417.8,525.2Z"/>
<path fill="#404688" fill-rule="evenodd" d="M1331.8,349.5L1328.3,352.3L1327.1,354.7L1326.4,358.5L1327.9,378.0L1329.2,387.1L1336.1,413.2L1346.3,444.1L1355.1,468.1L1358.9,481.6L1363.4,505.6L1370.6,566.6L1375.1,584.7L1381.1,601.1L1393.1,626.5L1406.7,649.6L1420.2,669.0L1433.3,684.2L1445.7,705.1L1453.2,715.4L1459.2,722.4L1466.8,729.2L1474.3,733.8L1487.9,739.1L1508.1,744.4L1516.3,747.3L1524.1,751.8L1527.6,754.8L1530.1,757.7L1531.9,762.1L1532.3,768.0L1529.1,796.5L1529.2,804.0L1530.2,808.6L1532.6,814.8L1536.3,822.2L1541.8,831.2L1543.2,835.6L1544.1,847.5L1543.0,869.9L1662.8,869.9L1659.6,822.0L1657.5,768.0L1655.3,755.9L1653.0,749.8L1650.5,745.3L1645.7,739.2L1632.5,727.2L1617.3,711.1L1604.3,695.8L1500.9,530.8L1492.0,517.3L1473.3,492.7L1467.1,487.2L1453.8,477.3L1447.8,470.9L1431.3,444.8L1414.8,420.1L1386.3,381.6L1371.3,364.0L1365.2,358.6L1357.7,353.5L1351.6,350.8L1344.1,349.2L1336.5,348.5ZM1369.5,425.1L1373.9,425.4L1378.3,426.9L1384.3,430.1L1388.7,433.6L1400.7,446.4L1411.2,461.0L1415.8,465.1L1420.5,466.5L1432.4,466.8L1435.4,467.5L1438.2,469.3L1442.7,474.4L1451.8,487.7L1463.5,507.2L1540.2,645.2L1558.2,681.2L1561.8,690.1L1562.6,694.5L1562.5,697.4L1561.7,700.4L1560.1,703.3L1555.3,708.0L1549.4,711.0L1543.4,712.4L1536.0,712.8L1528.9,712.1L1521.1,710.3L1507.6,705.8L1497.3,701.6L1489.7,697.7L1474.7,687.2L1458.3,672.6L1434.0,647.7L1427.6,640.2L1421.0,631.3L1411.9,615.4L1402.2,593.9L1390.9,562.4L1383.4,535.5L1366.9,468.4L1361.5,444.0L1361.6,436.5L1363.3,429.2L1365.2,426.7Z"/>
<path fill="#365d8d" fill-rule="evenodd" d="M1303.4,269.7L1298.8,271.4L1292.7,276.0L1289.6,280.3L1287.5,286.4L1286.4,295.5L1286.3,304.5L1288.1,321.0L1289.8,331.6L1292.6,343.4L1300.1,367.2L1316.0,408.1L1332.5,448.7L1344.5,469.7L1348.1,478.6L1350.2,489.1L1352.8,513.1L1359.5,544.6L1360.8,562.6L1363.1,573.4L1367.6,588.9L1373.6,604.3L1379.6,616.3L1421.0,685.7L1431.6,706.7L1437.9,717.2L1445.7,728.2L1454.7,738.6L1459.2,743.0L1469.7,751.3L1474.2,755.7L1478.1,760.7L1481.6,766.7L1489.1,786.4L1500.5,810.1L1504.9,822.1L1508.0,832.6L1508.9,838.5L1508.6,845.8L1503.6,869.9L1543.8,869.9L1544.9,847.5L1544.0,835.4L1542.5,830.8L1537.0,821.8L1533.3,814.3L1531.0,808.4L1529.8,802.5L1529.9,796.5L1533.1,769.5L1533.1,765.0L1532.3,760.4L1530.7,757.3L1528.2,754.2L1524.6,751.2L1519.7,748.0L1510.6,744.3L1491.1,739.3L1479.2,735.2L1469.6,730.2L1461.3,723.4L1455.3,716.7L1446.4,704.8L1434.0,683.8L1420.8,668.5L1410.3,653.7L1398.3,634.4L1389.4,617.2L1378.9,593.2L1375.1,581.9L1372.4,571.4L1370.1,557.9L1364.0,503.9L1361.7,490.4L1359.0,478.4L1355.4,466.4L1347.1,443.9L1337.2,413.9L1330.3,388.4L1328.8,379.5L1327.2,358.5L1327.7,355.6L1328.9,352.7L1330.7,351.0L1333.1,349.9L1338.0,349.4L1346.9,350.5L1352.9,352.1L1358.8,355.1L1364.8,359.3L1370.9,364.8L1387.2,383.9L1415.7,422.7L1447.2,471.3L1453.2,477.9L1466.6,487.8L1472.7,493.2L1491.3,517.7L1500.3,531.2L1603.6,696.2L1616.7,711.7L1631.9,727.8L1645.1,739.8L1649.8,745.7L1652.3,750.2L1654.5,756.1L1656.7,768.0L1658.8,822.0L1662.0,869.9L1730.2,869.9L1721.3,797.9L1719.4,787.0L1716.4,776.9L1712.7,767.8L1707.9,758.8L1702.0,749.8L1689.8,734.7L1666.5,710.7L1653.3,698.2L1635.3,684.5L1627.8,676.8L1617.3,662.0L1565.5,578.8L1517.1,514.3L1501.3,496.2L1496.2,491.7L1486.7,485.2L1482.3,481.5L1459.8,457.7L1429.8,419.7L1381.8,351.6L1345.8,310.2L1324.8,282.8L1318.8,276.7L1312.7,272.1L1308.1,270.0Z"/>
<path fill="#2c728e" fill-rule="evenodd" d="M1261.4,191.7L1249.8,194.6L1240.3,198.8L1234.3,203.7L1230.6,209.9L1229.4,216.0L1229.9,223.6L1233.6,240.1L1237.4,253.6L1244.5,271.7L1254.9,291.2L1259.4,297.3L1270.2,307.0L1273.4,312.2L1276.1,320.7L1282.5,348.1L1294.1,382.6L1322.6,451.6L1336.0,477.1L1339.0,487.6L1343.4,513.1L1352.4,544.6L1354.1,558.1L1356.1,567.1L1363.1,589.6L1370.6,608.8L1378.2,624.6L1396.8,654.2L1403.1,666.2L1408.8,681.1L1426.1,731.1L1436.7,759.2L1439.3,762.3L1441.6,763.9L1445.9,765.5L1457.1,768.4L1462.2,771.3L1466.1,777.2L1470.7,787.6L1477.3,808.6L1479.2,817.6L1480.1,825.0L1479.6,835.4L1474.8,861.9L1482.6,865.8L1501.5,869.9L1504.4,869.9L1508.4,852.1L1509.7,843.0L1509.3,835.4L1507.5,827.9L1500.7,808.3L1489.9,786.1L1484.3,770.8L1480.7,763.3L1477.7,758.8L1473.3,753.5L1459.8,742.4L1453.8,736.5L1445.9,727.3L1438.6,716.8L1432.3,706.3L1421.7,685.3L1380.4,616.0L1374.4,604.0L1369.9,593.0L1365.4,579.0L1361.5,562.4L1360.3,544.4L1353.6,512.9L1351.0,488.9L1348.9,478.4L1345.2,469.3L1333.2,448.3L1319.2,413.9L1300.9,366.9L1293.4,343.4L1290.8,332.9L1288.8,320.9L1287.1,304.5L1287.1,297.0L1288.1,288.1L1289.6,282.2L1292.3,277.8L1296.2,273.9L1302.1,270.8L1306.4,270.5L1310.8,272.0L1318.2,277.3L1324.2,283.3L1345.2,310.7L1381.2,352.1L1429.2,420.2L1459.2,458.2L1481.7,482.1L1486.3,485.9L1495.7,492.3L1500.7,496.8L1516.5,514.8L1564.9,579.2L1616.7,662.4L1627.2,677.3L1634.7,685.1L1652.7,698.8L1666.0,711.3L1689.2,735.3L1701.4,750.2L1707.2,759.2L1712.0,768.2L1715.7,777.1L1718.6,787.2L1720.5,798.1L1729.4,869.9L1783.2,869.9L1779.1,827.9L1775.8,803.9L1773.2,790.4L1768.7,773.9L1763.1,757.4L1758.5,746.8L1752.8,737.8L1745.7,730.2L1664.1,662.7L1656.3,655.7L1651.8,650.8L1606.4,577.3L1597.1,563.8L1580.4,542.7L1564.5,524.7L1554.0,514.2L1537.8,500.6L1530.3,493.7L1519.2,481.2L1507.0,466.3L1497.3,453.2L1441.3,373.3L1419.3,338.4L1399.1,310.3L1389.3,298.2L1377.3,285.0L1372.7,280.9L1359.3,271.2L1350.8,260.8L1342.1,247.3L1321.3,209.8L1315.8,201.8L1312.7,198.9L1308.2,196.1L1303.6,194.4L1297.6,192.9L1276.5,190.8L1269.0,190.9Z"/>
<path fill="#24868e" fill-rule="evenodd" d="M1135.5,91.2L1129.4,91.7L1123.4,93.2L1118.2,95.7L1114.8,98.7L1113.0,101.9L1112.1,106.5L1112.7,111.1L1114.2,115.7L1121.6,131.0L1133.2,157.7L1147.4,181.7L1158.3,198.2L1235.7,309.2L1271.7,359.1L1285.2,381.3L1297.1,405.2L1309.1,433.8L1321.0,466.6L1345.4,544.6L1351.2,565.6L1361.6,595.9L1369.1,615.1L1373.6,625.1L1390.6,652.7L1396.8,664.7L1428.0,757.7L1430.5,762.2L1433.7,765.3L1444.9,771.3L1448.7,774.3L1451.6,778.7L1455.2,787.6L1457.5,795.1L1459.8,805.6L1461.4,816.0L1461.8,823.5L1461.2,827.9L1459.8,832.4L1452.2,848.6L1468.6,858.8L1475.5,862.3L1480.1,837.1L1481.0,828.0L1479.8,815.9L1476.0,800.9L1469.6,782.8L1466.0,775.3L1462.8,770.8L1457.3,767.6L1446.1,764.7L1441.9,763.1L1439.8,761.7L1437.4,758.8L1426.9,730.8L1409.6,680.9L1403.8,665.8L1397.5,653.8L1378.8,624.2L1371.4,608.5L1363.8,589.4L1356.9,566.9L1354.9,557.9L1353.1,544.4L1344.2,512.9L1339.7,487.4L1336.7,476.9L1323.4,451.2L1294.9,382.4L1283.2,347.9L1276.9,320.5L1274.1,311.8L1270.8,306.5L1260.3,297.0L1256.5,292.3L1246.7,274.3L1239.6,257.9L1235.5,244.4L1231.3,226.4L1230.2,219.0L1230.6,213.1L1231.9,208.9L1233.3,206.3L1237.8,201.5L1243.7,197.9L1252.6,194.5L1261.6,192.5L1270.5,191.6L1279.5,191.7L1292.9,193.1L1300.4,194.3L1306.3,196.2L1310.8,198.5L1315.2,202.4L1320.6,210.2L1341.4,247.7L1350.1,261.2L1358.8,271.8L1372.3,281.5L1376.7,285.6L1388.7,298.8L1398.5,310.7L1418.7,338.8L1440.6,373.7L1496.7,453.7L1506.3,466.7L1518.6,481.8L1529.7,494.2L1537.2,501.2L1553.5,514.8L1563.9,525.3L1579.8,543.3L1596.5,564.2L1605.8,577.7L1651.2,651.3L1655.7,656.2L1663.6,663.3L1745.1,730.8L1749.7,735.3L1753.3,739.7L1758.5,748.7L1762.9,759.1L1768.8,777.1L1772.8,792.1L1775.0,804.1L1778.5,829.5L1782.4,869.9L1836.1,869.9L1835.4,853.5L1833.6,834.0L1830.6,811.4L1827.6,796.4L1824.3,784.4L1819.8,772.3L1814.7,761.8L1807.5,749.8L1796.9,734.8L1786.8,721.9L1777.9,712.2L1767.3,702.4L1743.2,683.3L1722.2,669.1L1714.6,664.9L1705.6,662.6L1701.2,660.6L1698.3,657.9L1695.4,653.2L1693.7,647.9L1692.8,642.0L1692.6,631.5L1693.1,619.5L1694.9,604.6L1700.9,582.1L1701.7,576.0L1701.6,570.0L1700.0,560.9L1697.2,553.3L1692.3,544.7L1686.2,536.7L1677.3,528.2L1662.2,516.9L1647.2,506.6L1621.4,490.2L1605.4,481.1L1569.2,463.7L1531.7,444.7L1518.2,436.0L1509.3,428.0L1503.3,420.9L1497.2,412.3L1464.0,359.8L1449.9,340.3L1435.9,322.2L1425.5,310.2L1416.7,301.2L1394.6,284.7L1387.9,278.7L1384.1,274.3L1380.1,266.8L1361.4,220.3L1336.8,171.0L1333.8,166.3L1328.6,160.2L1311.3,145.0L1294.7,132.8L1279.7,124.4L1258.6,115.0L1234.6,106.6L1209.1,99.9L1176.1,93.3L1156.5,91.3Z"/>
<path fill="#1f9a8a" fill-rule="evenodd" d="M1055.7,164.7L1082.8,183.4L1112.7,207.2L1145.7,236.6L1165.2,255.0L1177.2,267.2L1204.2,298.7L1246.2,351.1L1257.2,367.7L1275.6,399.2L1292.1,430.7L1308.4,466.7L1339.1,543.9L1367.6,619.8L1373.6,631.8L1386.9,654.2L1392.0,664.7L1398.1,682.6L1421.7,759.2L1423.2,762.2L1425.5,765.3L1437.0,775.7L1439.9,781.6L1444.4,799.6L1444.9,807.0L1444.2,811.4L1441.6,815.7L1427.0,831.1L1452.8,849.0L1459.9,834.5L1461.6,829.6L1462.4,825.0L1462.5,819.0L1461.6,811.4L1457.4,791.9L1453.0,779.8L1449.3,773.8L1445.4,770.7L1434.2,764.7L1431.1,761.8L1429.3,758.8L1419.4,730.5L1397.5,664.3L1391.3,652.3L1375.8,627.5L1369.9,614.8L1360.9,591.6L1353.4,569.9L1346.2,544.4L1321.9,466.8L1312.9,441.4L1303.9,418.6L1290.4,389.4L1282.8,375.6L1275.3,363.2L1263.3,345.8L1236.3,308.8L1159.0,197.8L1147.1,179.8L1136.3,161.8L1131.0,151.3L1122.4,130.7L1115.6,116.8L1113.5,110.9L1113.0,105.0L1114.5,100.7L1117.7,97.0L1122.1,94.5L1129.6,92.5L1138.5,91.8L1155.0,92.0L1170.0,93.3L1183.4,95.4L1207.4,100.4L1223.9,104.4L1238.9,108.8L1264.3,118.2L1277.8,124.3L1288.3,129.8L1297.3,135.5L1306.3,142.0L1327.2,159.9L1332.0,165.2L1336.2,171.4L1360.0,219.2L1379.4,267.2L1382.7,273.7L1385.9,277.8L1393.2,284.6L1416.1,301.8L1424.9,310.8L1435.3,322.8L1449.3,340.7L1463.3,360.2L1496.7,412.9L1502.7,421.4L1508.7,428.5L1517.8,436.7L1531.3,445.4L1568.8,464.4L1606.3,482.5L1627.3,494.8L1651.4,510.3L1673.8,526.4L1682.8,534.3L1690.2,542.9L1694.6,550.0L1697.8,556.6L1700.0,564.1L1700.9,571.5L1700.1,581.9L1694.5,602.9L1692.4,618.0L1692.0,640.5L1692.9,648.1L1694.6,653.5L1697.7,658.4L1700.8,661.3L1705.4,663.3L1714.3,665.6L1721.8,669.8L1742.8,683.9L1766.7,703.0L1777.3,712.8L1786.2,722.4L1796.3,735.2L1806.8,750.2L1814.0,762.2L1819.1,772.7L1823.5,784.6L1826.8,796.6L1829.8,811.6L1832.8,834.0L1834.6,853.5L1835.3,869.9L1900.9,869.9L1900.9,839.8L1894.8,827.8L1887.0,809.8L1864.5,751.3L1856.7,734.8L1845.2,713.8L1839.3,705.0L1826.3,688.3L1821.4,680.8L1816.0,670.3L1811.8,659.9L1809.8,652.4L1808.5,643.5L1805.5,586.5L1802.6,556.5L1799.9,538.4L1795.2,521.9L1787.2,500.8L1780.3,487.3L1772.4,475.3L1761.3,462.0L1749.8,451.2L1725.6,431.7L1695.2,409.2L1678.7,398.8L1653.2,386.1L1630.4,373.2L1585.7,345.5L1573.7,339.6L1558.6,334.2L1542.1,329.4L1504.6,320.0L1476.1,310.6L1465.7,306.2L1455.2,300.9L1446.2,295.6L1439.6,290.7L1432.5,283.3L1422.3,268.8L1413.3,257.5L1409.7,251.8L1366.2,164.8L1353.3,143.8L1331.7,104.8L1327.0,95.8L1321.7,83.6L1055.7,83.6ZM1297.0,567.3L1296.3,565.2L1282.8,546.0L1254.4,511.2L1228.8,482.7L1202.1,455.7L1160.0,421.2L1151.9,415.2L1090.1,374.7L1055.7,355.4L1055.7,362.3L1083.3,377.7L1150.0,421.0L1200.0,459.3L1236.6,496.9L1259.9,522.6Z"/>
<path fill="#28ae80" fill-rule="evenodd" d="M1320.8,83.6L1326.3,96.2L1331.0,105.2L1352.6,144.2L1365.5,165.2L1409.0,252.2L1412.7,258.0L1421.7,269.3L1431.9,283.7L1439.1,291.3L1445.8,296.3L1454.8,301.6L1465.3,306.9L1475.9,311.3L1504.4,320.8L1541.9,330.2L1558.4,335.0L1573.3,340.4L1585.3,346.2L1630.0,373.8L1652.8,386.8L1678.3,399.5L1694.7,409.8L1725.2,432.3L1747.5,450.3L1760.4,462.3L1770.6,474.2L1778.8,486.2L1785.8,499.7L1794.4,522.1L1799.1,538.6L1801.8,556.5L1804.7,586.5L1807.8,645.0L1809.3,654.1L1811.6,661.6L1815.3,670.7L1820.8,681.2L1826.7,690.1L1843.2,711.9L1857.5,738.2L1865.7,756.1L1879.1,792.2L1888.8,816.2L1895.5,831.2L1900.9,841.0L1900.9,490.9L1896.4,480.8L1887.8,464.8L1881.4,454.3L1875.3,445.6L1846.8,412.5L1748.2,301.2L1719.3,263.1L1682.9,211.3L1664.1,187.2L1640.5,158.7L1620.8,136.2L1602.6,116.7L1585.8,100.2L1567.5,83.6L1429.5,83.6L1422.0,89.7L1419.0,90.5L1414.6,89.3L1401.4,83.6ZM1055.7,212.9L1090.3,235.1L1121.8,257.7L1150.2,280.7L1180.2,307.6L1210.2,337.2L1231.2,359.7L1247.7,382.1L1264.2,408.0L1277.6,431.6L1290.6,456.2L1318.1,513.7L1341.4,559.7L1348.1,575.9L1364.5,619.7L1369.6,630.2L1382.6,654.2L1387.9,666.1L1396.2,691.6L1416.1,759.1L1418.9,765.2L1426.4,775.7L1428.8,781.6L1429.6,790.5L1428.9,794.9L1427.6,798.6L1425.6,802.3L1423.2,804.9L1418.8,808.3L1415.9,809.7L1421.9,823.9L1426.6,830.8L1427.6,831.5L1442.2,816.3L1444.3,813.2L1445.4,810.1L1445.7,805.5L1444.9,797.9L1442.9,788.9L1440.1,779.9L1436.3,773.7L1426.8,765.5L1423.1,760.3L1416.4,739.9L1397.4,677.9L1392.8,664.3L1387.6,653.8L1374.3,631.4L1368.3,619.3L1336.9,536.0L1311.4,471.9L1301.3,448.3L1283.7,412.3L1259.7,370.3L1248.3,352.7L1230.3,329.7L1192.8,283.8L1171.8,260.4L1140.3,230.4L1110.3,204.1L1081.7,181.6L1055.7,163.8ZM1320.1,603.9L1320.7,603.0L1320.4,600.8L1315.8,590.8L1299.3,564.8L1279.8,538.1L1263.3,517.4L1240.8,491.4L1228.8,478.2L1206.5,455.7L1156.1,413.7L1113.4,385.2L1092.0,371.7L1076.5,362.6L1055.7,351.8L1055.7,356.2L1089.7,375.3L1110.9,388.8L1155.7,418.8L1203.2,457.8L1226.8,481.8L1240.7,496.8L1261.2,520.4L1276.2,538.8L1285.4,550.7L1296.2,566.8L1301.9,573.9L1315.9,594.8Z"/>
<path fill="#48c16e" fill-rule="evenodd" d="M1566.5,83.6L1588.5,103.8L1607.8,123.3L1632.1,150.3L1658.6,181.8L1685.7,216.2L1718.1,262.7L1746.4,300.3L1846.2,413.1L1874.4,445.7L1880.8,454.7L1887.1,465.2L1895.2,480.2L1900.9,492.3L1900.9,287.9L1819.8,196.2L1801.7,172.3L1776.4,136.3L1758.9,113.7L1746.0,98.7L1731.2,83.6ZM1400.1,83.6L1414.4,90.1L1419.0,91.3L1422.5,90.3L1430.6,83.6ZM1055.8,247.5L1070.8,255.0L1082.8,261.8L1121.8,287.3L1156.8,312.3L1189.2,339.0L1206.9,355.8L1222.2,373.4L1244.7,402.6L1264.2,431.0L1276.2,450.2L1286.7,468.4L1327.5,544.7L1337.8,559.7L1345.0,576.1L1361.6,619.7L1380.2,657.2L1385.3,670.6L1395.5,703.6L1405.4,736.6L1410.6,757.6L1414.9,771.1L1414.9,773.9L1412.7,778.5L1409.6,781.1L1404.4,782.9L1416.2,810.5L1419.2,808.9L1425.3,803.9L1428.7,798.2L1430.4,790.5L1429.9,782.9L1428.6,778.4L1427.1,775.3L1419.6,764.8L1416.8,758.9L1397.0,691.4L1388.0,664.4L1382.5,652.3L1370.3,629.8L1365.4,619.5L1347.4,571.8L1341.4,557.8L1334.9,545.8L1318.9,513.4L1300.2,473.8L1286.7,446.8L1270.8,417.8L1254.3,390.7L1238.1,367.3L1227.1,353.7L1194.3,320.0L1167.3,294.6L1141.8,272.5L1116.2,252.5L1086.2,231.4L1055.7,212.1ZM1315.8,592.7L1319.6,601.0L1319.6,602.9L1329.2,623.4L1334.7,632.3L1336.7,634.6L1337.2,633.0L1336.9,631.6L1334.9,628.3L1330.4,617.8L1317.4,590.9L1300.8,564.4L1281.3,537.1L1266.3,518.1L1252.8,501.9L1230.3,476.5L1206.5,452.7L1159.7,412.7L1114.7,382.4L1095.2,370.1L1077.2,359.6L1055.7,348.6L1055.7,352.6L1076.1,363.3L1091.6,372.3L1112.9,385.8L1157.8,415.8L1205.7,456.1L1231.2,482.0L1253.7,507.3L1265.7,521.7L1279.2,538.6L1296.9,562.7L1304.7,574.2Z"/>
<path fill="#75d054" fill-rule="evenodd" d="M1730.3,83.6L1748.1,102.3L1764.3,121.7L1779.1,141.2L1804.4,177.2L1820.5,198.3L1900.9,288.9L1900.9,142.1L1885.9,122.7L1870.8,105.1L1851.0,83.6ZM1055.8,277.3L1069.3,283.3L1081.3,289.3L1111.3,307.0L1148.8,332.9L1174.2,352.6L1199.7,375.8L1223.7,400.5L1246.2,426.7L1267.2,454.6L1288.2,486.9L1320.9,543.2L1324.1,547.7L1331.7,555.8L1334.3,559.7L1341.6,576.1L1358.8,619.7L1376.2,654.1L1384.0,676.6L1387.7,691.6L1392.7,706.6L1395.5,720.1L1402.2,741.1L1402.8,748.5L1402.1,754.4L1400.8,756.1L1399.4,756.6L1392.4,754.9L1404.7,783.7L1410.2,781.7L1413.3,779.1L1414.9,776.5L1415.8,772.5L1415.4,769.4L1412.3,760.4L1406.6,737.9L1396.2,703.4L1386.0,670.4L1381.0,656.8L1362.3,619.3L1345.7,575.9L1338.5,559.3L1327.3,542.8L1291.9,476.2L1279.8,454.9L1266.3,432.9L1251.3,410.5L1231.8,384.2L1213.0,361.2L1197.3,345.2L1177.8,328.2L1151.3,307.2L1110.2,278.5L1080.2,259.3L1055.7,246.6ZM1366.9,693.2L1366.9,689.9L1366.3,689.7L1365.5,691.5L1366.3,693.4ZM1365.3,690.4L1365.6,688.4L1365.0,687.6L1364.4,688.5L1364.6,690.2ZM1316.6,591.2L1336.4,633.0L1329.4,622.3L1328.2,621.4L1343.3,651.8L1349.2,661.7L1355.0,673.7L1361.7,684.4L1363.7,686.6L1364.2,685.6L1364.0,684.0L1362.8,680.8L1360.7,677.7L1354.0,662.8L1351.3,658.3L1325.3,604.3L1318.5,590.8L1307.7,572.8L1300.0,560.8L1280.8,533.8L1258.2,505.2L1234.8,478.1L1209.3,452.3L1162.7,411.3L1117.7,380.7L1096.7,367.6L1078.7,357.1L1055.7,345.5L1055.7,349.4L1076.8,360.4L1094.8,370.8L1114.3,383.0L1159.3,413.3L1204.3,451.8L1211.7,458.8L1231.2,478.6L1243.2,492.1L1264.2,516.8L1282.2,539.7L1300.2,564.8Z"/>
<path fill="#addc30" fill-rule="evenodd" d="M1850.1,83.6L1879.0,115.8L1900.9,143.2L1900.9,83.6ZM1055.8,297.4L1085.8,311.7L1115.8,328.3L1133.8,339.9L1153.2,354.7L1188.3,384.3L1218.7,412.8L1243.2,439.0L1265.7,466.6L1283.7,492.7L1314.5,541.7L1319.4,547.8L1328.7,556.8L1333.1,564.0L1340.4,580.7L1356.0,619.7L1370.6,649.7L1371.5,652.7L1373.6,654.4L1373.7,657.1L1376.6,663.8L1381.6,678.1L1384.7,693.1L1389.1,708.1L1389.7,712.5L1389.8,720.0L1389.2,725.9L1388.7,727.0L1387.4,727.9L1384.6,727.8L1379.8,725.6L1392.8,755.9L1398.0,757.4L1401.2,756.8L1402.9,754.7L1403.5,751.6L1403.6,747.0L1402.9,740.2L1396.2,719.9L1393.5,706.4L1388.5,691.4L1383.8,673.4L1376.9,653.8L1359.5,619.3L1337.2,563.8L1333.1,556.3L1324.7,547.2L1321.5,542.8L1303.8,511.8L1283.8,478.3L1271.1,458.8L1258.1,440.8L1243.8,422.5L1230.3,406.6L1215.3,390.3L1198.8,373.8L1183.8,359.8L1170.3,348.3L1155.2,336.7L1135.7,322.5L1111.7,306.3L1092.2,294.5L1072.7,284.0L1055.7,276.4ZM1348.2,658.3L1339.8,643.8L1339.3,643.5L1367.8,700.6L1369.3,697.6L1369.9,694.5L1370.0,692.9L1368.9,689.9L1324.5,599.8L1316.4,584.8L1301.7,560.8L1283.0,533.8L1259.5,503.7L1237.9,478.2L1211.4,451.2L1164.2,408.6L1122.2,379.9L1110.2,372.3L1081.7,355.3L1055.7,342.3L1055.7,346.3L1079.8,358.6L1111.3,377.5L1162.3,411.9L1208.7,452.9L1233.0,477.3L1256.7,504.7L1279.2,532.9L1305.2,570.2L1316.9,589.7L1322.4,600.2L1350.6,658.7L1353.2,663.2L1360.0,678.2L1362.0,681.1L1363.3,684.9L1355.7,673.3ZM1366.3,691.5L1366.4,691.4L1366.4,691.6Z"/>
<path fill="#e5e419" fill-rule="evenodd" d="M1055.9,313.7L1078.3,323.0L1101.3,334.8L1126.4,349.8L1148.8,365.5L1189.2,398.9L1207.6,415.8L1238.9,447.3L1259.0,471.2L1270.6,486.2L1285.2,506.5L1308.5,541.7L1313.8,547.8L1325.7,558.1L1330.1,565.2L1336.1,578.4L1347.4,607.7L1355.6,626.1L1356.1,628.4L1354.9,631.4L1355.0,633.1L1358.0,640.6L1362.4,654.1L1371.6,675.2L1379.6,689.9L1380.0,697.4L1379.7,698.8L1378.3,699.9L1375.5,701.0L1374.3,700.4L1373.6,694.3L1366.3,679.3L1348.9,645.6L1320.9,589.3L1305.8,563.8L1283.5,530.7L1261.5,502.2L1239.0,475.2L1213.8,449.8L1190.3,428.7L1170.3,409.0L1158.2,399.4L1134.2,383.0L1098.2,360.6L1081.7,351.1L1055.7,338.4L1055.7,343.1L1081.3,356.0L1112.8,374.8L1164.5,409.8L1187.1,430.8L1211.7,452.7L1232.7,473.7L1242.5,484.8L1258.9,504.3L1281.2,532.7L1298.0,556.7L1308.6,573.2L1319.1,591.2L1323.8,600.2L1368.2,690.2L1369.2,693.1L1369.1,694.4L1367.5,699.8L1380.3,726.6L1386.0,728.8L1387.6,728.7L1389.0,727.8L1390.3,724.6L1390.6,720.0L1390.5,712.5L1389.8,707.9L1385.5,692.9L1383.5,682.4L1380.9,673.4L1375.9,659.6L1374.5,656.9L1374.4,654.1L1372.2,652.3L1371.4,649.3L1356.7,619.3L1339.9,577.4L1333.2,562.3L1329.4,556.2L1320.0,547.2L1315.1,541.3L1279.8,485.4L1269.3,470.2L1257.3,454.5L1233.3,426.8L1219.8,412.8L1204.8,398.3L1187.2,382.2L1168.8,366.4L1146.2,348.1L1132.7,338.2L1117.7,328.5L1095.2,315.7L1074.2,305.0L1055.7,296.5ZM1361.2,687.5L1360.8,685.4L1358.7,682.6Z"/>
<path fill="#fde725" fill-rule="evenodd" d="M1055.8,339.3L1081.3,351.8L1097.8,361.3L1133.8,383.7L1157.8,400.1L1169.7,409.6L1189.8,429.3L1213.2,450.4L1238.4,475.8L1257.2,498.3L1278.4,525.2L1287.2,537.2L1302.3,559.7L1317.7,585.2L1326.4,601.7L1348.1,646.0L1371.6,691.7L1372.8,694.6L1373.6,700.9L1375.6,701.8L1378.7,700.6L1380.3,699.4L1380.9,694.5L1379.9,688.4L1372.3,674.8L1363.2,653.9L1358.8,640.4L1355.8,632.9L1355.7,631.5L1356.9,628.6L1356.4,625.8L1348.1,607.3L1336.9,578.0L1329.4,562.0L1325.0,556.2L1314.4,547.2L1310.3,542.8L1291.8,514.6L1274.6,490.3L1259.7,470.8L1243.6,451.2L1211.2,418.2L1194.3,402.3L1180.8,390.6L1144.7,361.5L1131.2,352.0L1114.7,341.7L1084.6,325.1L1069.7,318.3L1055.7,312.8Z"/>
<clipPath id="cr2"><path clip-rule="evenodd" d="M1900.9,869.9L1900.9,83.6L1055.7,83.6L1055.7,362.3L1083.3,377.7L1150.0,421.0L1200.0,459.3L1236.6,496.9L1259.9,522.6L1301.9,573.8L1315.9,594.8L1327.5,620.0L1370.4,705.6L1380.0,725.9L1422.0,823.8L1426.6,830.8L1449.9,847.2L1468.6,858.8L1482.6,865.8L1501.5,869.9Z"/></clipPath>
<g clip-path="url(#cr2)">
<g fill="none" stroke="#ff0000" stroke-width="2.0" stroke-dasharray="2.0 3.4">
<path d="M1642.0,84.0 C1649.8,86.1 1672.8,92.4 1688.7,96.7 C1704.5,100.9 1728.9,107.2 1737.0,109.3"/>
<path d="M1785.3,121.7 C1794.2,123.6 1819.2,128.8 1838.7,133.3 C1858.1,137.8 1891.4,146.1 1902.0,148.7"/>
<path d="M1346.0,84.0 C1350.0,85.8 1360.6,88.4 1370.0,95.0 C1379.4,101.6 1391.7,113.9 1402.7,123.3 C1413.7,132.8 1424.9,143.3 1436.0,151.7 C1447.1,160.0 1458.2,168.1 1469.3,173.3 C1480.4,178.6 1491.6,180.8 1502.7,183.3 C1513.8,185.8 1516.1,187.5 1536.0,188.3 C1555.9,189.2 1601.0,188.1 1622.0,188.3 C1643.0,188.6 1645.3,188.3 1662.0,190.0 C1678.7,191.7 1698.7,194.7 1722.0,198.3 C1745.3,201.9 1788.7,209.4 1802.0,211.7"/>
<path d="M1855.3,221.7 L1902.0,231.0"/>
<path d="M1054.0,89.0 C1063.4,94.6 1091.4,112.0 1110.1,122.6 C1128.9,133.2 1148.7,143.5 1166.3,152.7 C1183.8,161.9 1200.5,171.3 1215.4,177.7 C1230.3,184.2 1243.8,190.4 1255.5,191.3 C1267.2,192.1 1274.7,186.7 1285.6,182.7 C1296.4,178.8 1310.2,171.6 1320.6,167.7 C1331.1,163.8 1340.0,159.6 1348.2,159.2 C1356.4,158.7 1360.9,159.3 1370.0,165.0 C1379.1,170.7 1391.7,183.6 1402.7,193.3 C1413.7,203.1 1424.9,213.9 1436.0,223.3 C1447.1,232.8 1458.2,242.5 1469.3,250.0 C1480.4,257.5 1491.6,263.1 1502.7,268.3 C1513.8,273.6 1524.9,278.3 1536.0,281.7 C1547.1,285.0 1555.0,286.7 1569.3,288.3 C1583.7,290.0 1599.3,291.3 1622.0,291.7 C1644.7,292.1 1677.6,290.1 1705.3,290.7 C1733.1,291.2 1764.8,293.3 1788.7,295.0 C1812.6,296.7 1838.7,299.7 1848.7,300.7"/>
<path d="M1893.7,306.7 L1902.0,308.0"/>
<path d="M1054.0,156.2 C1063.4,162.3 1091.4,181.2 1110.1,192.8 C1128.9,204.3 1148.7,214.5 1166.3,225.3 C1183.8,236.2 1200.5,247.9 1215.4,257.9 C1230.3,267.9 1243.8,278.0 1255.5,285.5 C1267.2,293.0 1277.2,299.3 1285.6,303.0 C1293.9,306.8 1299.8,309.3 1305.6,308.0 C1311.4,306.8 1315.6,301.8 1320.6,295.5 C1325.6,289.2 1330.7,278.0 1335.7,270.4 C1340.7,262.9 1345.1,255.8 1350.7,250.4 C1356.3,245.0 1366.2,240.0 1369.3,237.9"/>
<path d="M1412.7,248.3 C1416.6,251.9 1426.6,261.9 1436.0,270.0 C1445.4,278.1 1458.2,288.3 1469.3,296.7 C1480.4,305.0 1496.7,316.0 1502.7,320.0 C1508.6,324.0 1498.8,316.7 1505.1,320.6 C1511.3,324.4 1526.0,335.6 1540.2,343.1 C1554.4,350.6 1572.7,360.1 1590.3,365.7 C1607.8,371.3 1622.8,374.6 1645.4,376.7 C1668.0,378.8 1695.5,377.7 1725.6,378.2 C1755.7,378.7 1796.4,379.0 1825.8,379.7 C1855.2,380.4 1889.3,381.8 1902.0,382.2"/>
<path d="M1054.0,211.3 C1063.4,217.4 1091.4,236.4 1110.1,247.9 C1128.9,259.4 1148.7,269.2 1166.3,280.5 C1183.8,291.7 1200.5,303.9 1215.4,315.6 C1230.3,327.2 1243.8,338.9 1255.5,350.6 C1267.2,362.3 1275.5,373.2 1285.6,385.7 C1295.6,398.2 1307.3,416.0 1315.6,425.8 C1324.0,435.7 1329.8,441.5 1335.7,444.9 C1341.5,448.2 1346.9,448.2 1350.7,445.9 C1354.5,443.5 1356.1,438.3 1358.2,430.8 C1360.3,423.3 1361.4,411.6 1363.2,400.8 C1365.1,389.9 1367.2,375.7 1369.3,365.7 C1371.3,355.6 1372.2,348.1 1375.8,340.6 C1379.4,333.1 1386.2,324.7 1390.8,320.6 C1395.4,316.4 1401.2,316.4 1403.3,315.6"/>
<path d="M1450.9,333.1 C1455.8,335.6 1470.2,340.2 1480.0,348.1 C1489.9,356.1 1498.4,371.1 1510.1,380.7 C1521.8,390.3 1535.1,397.4 1550.2,405.8 C1565.2,414.1 1583.6,424.1 1600.3,430.8 C1617.0,437.5 1633.7,442.1 1650.4,445.9 C1667.1,449.6 1679.6,451.7 1700.5,453.4 C1721.4,455.0 1742.1,455.6 1775.7,455.9 C1809.3,456.1 1881.0,455.0 1902.0,454.9"/>
<path d="M1054.6,255.5 C1055.8,256.2 1059.1,257.9 1061.8,259.3 C1064.5,260.7 1067.5,262.2 1070.7,263.9 C1073.9,265.6 1077.6,267.6 1081.0,269.5 C1084.4,271.4 1087.6,273.4 1090.9,275.4 C1094.2,277.3 1097.5,279.4 1100.7,281.4 C1104.0,283.4 1107.2,285.5 1110.4,287.5 C1113.6,289.6 1116.7,291.7 1119.9,293.8 C1123.1,296.0 1126.2,298.1 1129.4,300.2 C1132.5,302.4 1135.6,304.5 1138.7,306.7 C1141.7,308.9 1144.8,311.1 1147.9,313.3 C1150.9,315.6 1153.8,317.9 1156.8,320.2 C1159.8,322.5 1162.7,324.9 1165.7,327.2 C1168.6,329.5 1171.6,331.8 1174.4,334.2 C1177.3,336.6 1180.2,339.0 1183.0,341.5 C1185.7,344.0 1188.5,346.5 1191.2,349.1 C1193.9,351.7 1196.4,354.4 1199.0,357.1 C1201.6,359.8 1204.3,362.4 1206.8,365.1 C1209.3,367.9 1211.9,370.6 1214.2,373.6 C1216.6,376.5 1218.6,379.7 1220.9,382.7 C1223.1,385.8 1225.3,388.9 1227.5,391.9 C1229.7,395.0 1231.9,398.0 1234.1,401.1 C1236.3,404.2 1238.6,407.2 1240.8,410.3 C1243.0,413.3 1245.2,416.4 1247.4,419.5 C1249.6,422.5 1251.8,425.6 1254.1,428.6 C1256.3,431.7 1258.5,434.8 1260.7,437.8 C1262.9,440.9 1265.1,443.9 1267.3,447.0 C1269.5,450.1 1271.8,453.1 1274.0,456.2 C1276.2,459.2 1278.4,462.3 1280.6,465.4 C1282.8,468.4 1285.1,471.4 1287.2,474.6 C1289.3,477.7 1291.3,481.0 1293.2,484.4 C1295.2,487.7 1297.0,491.2 1298.9,494.6 C1300.7,498.0 1302.6,501.4 1304.5,504.8 C1306.4,508.2 1308.2,511.6 1310.1,515.0 C1312.0,518.4 1313.8,521.8 1315.7,525.2 C1317.5,528.6 1319.4,532.1 1321.3,535.4 C1323.2,538.8 1324.9,542.3 1327.0,545.6 C1329.0,548.8 1331.6,551.5 1333.6,554.7 C1335.7,557.9 1337.7,561.2 1339.4,564.8 C1341.1,568.4 1341.3,573.6 1343.9,576.1 C1346.5,578.7 1351.0,576.7 1355.0,580.0 C1359.0,583.3 1363.8,593.0 1368.0,596.0 C1372.2,599.0 1375.4,601.5 1380.4,598.0 C1385.4,594.5 1393.8,586.6 1398.0,575.3 C1402.2,564.0 1403.4,545.2 1405.5,530.2 C1407.6,515.2 1409.6,494.9 1410.5,485.0 C1411.4,475.1 1409.5,480.0 1410.8,471.0 C1412.1,462.0 1415.0,440.7 1418.4,430.8 C1421.8,420.9 1425.6,415.1 1431.0,411.8 C1436.4,408.5 1443.7,410.6 1451.0,410.8 C1458.3,411.1 1465.2,410.0 1475.0,413.3 C1484.8,416.6 1504.2,427.9 1510.0,430.8"/>
<path d="M1557.7,457.5 C1564.8,461.3 1586.5,473.4 1600.3,480.1 C1614.1,486.8 1625.4,491.8 1640.4,497.6 C1655.4,503.5 1673.8,510.2 1690.5,515.2 C1707.2,520.2 1723.9,524.5 1740.6,527.7 C1757.3,530.9 1774.0,533.0 1790.7,534.2 C1807.4,535.5 1822.3,535.7 1840.9,535.2 C1859.4,534.7 1891.8,531.9 1902.0,531.2"/>
<path d="M1051.7,300.0 C1052.3,300.3 1053.3,300.8 1055.6,301.9 C1057.9,302.9 1061.9,304.8 1065.5,306.5 C1069.1,308.1 1073.3,310.0 1077.1,311.8 C1081.0,313.6 1084.8,315.5 1088.5,317.4 C1092.2,319.3 1095.8,321.4 1099.5,323.4 C1103.1,325.4 1106.9,327.3 1110.4,329.4 C1114.0,331.5 1117.5,333.7 1120.9,335.9 C1124.3,338.1 1127.6,340.5 1131.0,342.8 C1134.3,345.1 1137.7,347.4 1141.0,349.8 C1144.3,352.1 1147.6,354.5 1150.6,357.1 C1153.7,359.7 1156.4,362.6 1159.3,365.4 C1162.1,368.2 1164.9,371.1 1167.7,374.0 C1170.5,376.8 1173.4,379.7 1176.2,382.5 C1179.0,385.3 1181.8,388.2 1184.6,391.0 C1187.4,393.9 1190.2,396.7 1193.0,399.6 C1195.9,402.4 1198.7,405.3 1201.5,408.1 C1204.3,411.0 1207.1,413.8 1209.9,416.6 C1212.7,419.5 1215.5,422.3 1218.4,425.2 C1221.2,428.0 1224.0,430.9 1226.8,433.7 C1229.6,436.6 1232.4,439.4 1235.2,442.3 C1238.0,445.1 1240.9,448.0 1243.7,450.8 C1246.5,453.6 1249.3,456.5 1252.1,459.3 C1254.9,462.2 1257.7,465.0 1260.5,467.9 C1263.4,470.7 1266.3,473.5 1269.0,476.4 C1271.7,479.4 1274.4,482.3 1276.8,485.6 C1279.2,488.8 1281.3,492.4 1283.6,495.8 C1285.8,499.2 1288.1,502.5 1290.4,506.0 C1292.6,509.4 1294.8,512.8 1297.1,516.2 C1299.3,519.7 1301.4,523.2 1303.6,526.6 C1305.8,530.1 1307.9,533.7 1310.2,537.0 C1312.5,540.4 1314.9,543.6 1317.5,546.7 C1320.2,549.7 1323.4,552.2 1325.9,555.3 C1328.4,558.4 1330.8,561.7 1332.7,565.4 C1334.7,569.1 1336.1,573.4 1337.7,577.4 C1339.4,581.4 1341.1,585.4 1342.7,589.4 C1344.4,593.4 1346.1,597.4 1347.7,601.3 C1349.4,605.3 1351.0,609.3 1352.7,613.3 C1354.4,617.3 1356.1,621.2 1357.9,625.2 C1359.6,629.1 1358.4,631.2 1363.0,637.0 C1367.5,642.8 1378.8,649.5 1385.0,660.0 C1391.2,670.5 1395.5,689.7 1400.0,700.0 C1404.5,710.3 1408.2,716.5 1412.0,722.0 C1415.8,727.5 1419.9,733.8 1423.0,733.2 C1426.1,732.6 1427.6,726.1 1430.5,718.2 C1433.4,710.3 1437.7,697.7 1440.6,685.6 C1443.5,673.5 1445.5,660.5 1448.0,645.5 C1450.5,630.5 1452.7,612.0 1455.6,595.3 C1458.5,578.6 1461.8,557.3 1465.6,545.2 C1469.4,533.1 1472.3,526.9 1478.2,522.7 C1484.1,518.5 1490.8,520.5 1500.7,520.2 C1510.6,520.0 1525.2,517.9 1537.6,521.2 C1550.0,524.5 1560.6,532.9 1575.2,540.2 C1589.8,547.6 1608.6,557.8 1625.3,565.3 C1642.0,572.8 1658.8,579.9 1675.5,585.3 C1692.2,590.7 1708.9,594.1 1725.6,597.9 C1742.3,601.7 1759.0,605.0 1775.7,607.9 C1792.4,610.8 1804.8,613.1 1825.8,615.4 C1846.8,617.6 1889.3,620.4 1902.0,621.4"/>
<path d="M1051.7,314.2 C1051.9,314.4 1051.2,314.0 1053.2,314.9 C1055.2,315.7 1060.1,317.8 1063.8,319.3 C1067.4,320.9 1071.2,322.4 1075.0,324.1 C1078.7,325.8 1082.6,327.6 1086.3,329.5 C1090.0,331.4 1093.5,333.4 1097.1,335.4 C1100.7,337.3 1104.3,339.3 1107.8,341.3 C1111.4,343.3 1114.9,345.4 1118.3,347.5 C1121.7,349.7 1125.0,352.0 1128.3,354.2 C1131.6,356.5 1135.0,358.7 1138.3,361.0 C1141.6,363.2 1145.1,365.2 1148.2,367.7 C1151.3,370.2 1153.9,373.1 1156.8,375.9 C1159.6,378.6 1162.4,381.3 1165.3,384.0 C1168.1,386.7 1171.0,389.4 1173.8,392.2 C1176.7,394.9 1179.5,397.6 1182.3,400.4 C1185.1,403.1 1187.9,405.9 1190.7,408.7 C1193.5,411.5 1196.3,414.2 1199.1,417.0 C1201.9,419.8 1204.7,422.5 1207.5,425.3 C1210.3,428.0 1213.1,430.8 1215.9,433.5 C1218.7,436.3 1221.6,439.0 1224.4,441.8 C1227.2,444.6 1229.9,447.3 1232.7,450.1 C1235.5,452.9 1238.3,455.6 1241.1,458.4 C1243.9,461.2 1246.7,464.0 1249.5,466.8 C1252.3,469.5 1255.0,472.3 1257.8,475.1 C1260.6,477.9 1263.5,480.6 1266.1,483.5 C1268.7,486.5 1271.0,489.7 1273.4,492.9 C1275.8,496.1 1278.1,499.4 1280.4,502.6 C1282.8,505.8 1285.1,509.0 1287.4,512.3 C1289.7,515.5 1292.0,518.8 1294.2,522.2 C1296.5,525.5 1298.7,528.8 1300.9,532.2 C1303.1,535.5 1305.1,539.1 1307.6,542.2 C1310.1,545.3 1313.1,547.8 1315.8,550.7 C1318.5,553.5 1321.6,556.0 1324.0,559.2 C1326.3,562.4 1328.1,566.1 1330.0,569.8 C1331.9,573.6 1333.4,577.6 1335.1,581.4 C1336.8,585.3 1338.5,589.2 1340.2,593.0 C1341.9,596.9 1343.6,600.8 1345.3,604.6 C1347.0,608.5 1348.5,612.5 1350.4,616.3 C1352.2,620.0 1354.2,623.5 1356.2,627.1 C1358.2,630.7 1357.5,627.1 1362.4,637.6 C1367.2,648.2 1378.2,674.3 1385.4,690.6 C1392.6,706.9 1399.7,723.2 1405.5,735.7 C1411.3,748.2 1415.9,758.4 1420.5,765.8 C1425.1,773.1 1428.0,778.1 1433.0,779.8 C1438.0,781.5 1444.3,779.0 1450.6,775.8 C1456.9,772.6 1463.9,768.3 1470.6,760.8 C1477.3,753.3 1484.8,740.7 1490.7,730.7 C1496.6,720.7 1502.2,707.4 1505.7,700.6 C1509.2,693.8 1511.0,691.8 1512.0,690.0"/>
<path d="M1536.0,660.0 C1537.5,659.7 1535.3,659.4 1545.2,658.0 C1555.0,656.6 1579.4,651.5 1595.3,651.5 C1611.2,651.5 1624.5,654.8 1640.4,658.0 C1656.3,661.2 1673.8,665.9 1690.5,670.5 C1707.2,675.1 1723.9,681.0 1740.6,685.6 C1757.3,690.2 1774.0,693.9 1790.7,698.1 C1807.4,702.3 1826.7,707.7 1840.9,710.6 C1855.1,713.5 1865.8,714.8 1875.9,715.6 C1886.1,716.5 1897.7,715.6 1902.0,715.6"/>
<path d="M1051.8,323.3 C1052.5,323.6 1054.3,324.3 1056.1,325.1 C1058.0,325.9 1059.9,326.7 1062.9,328.0 C1065.9,329.3 1070.6,331.3 1074.3,333.1 C1077.9,334.9 1081.5,336.9 1085.1,338.8 C1088.7,340.6 1092.3,342.5 1095.9,344.5 C1099.4,346.4 1102.9,348.4 1106.3,350.4 C1109.8,352.5 1113.1,354.7 1116.4,356.8 C1119.8,358.9 1123.1,361.1 1126.5,363.2 C1129.8,365.4 1133.1,367.6 1136.3,369.9 C1139.5,372.1 1142.7,374.5 1145.7,376.9 C1148.8,379.3 1151.7,381.9 1154.7,384.4 C1157.7,386.9 1160.6,389.4 1163.6,391.9 C1166.6,394.4 1169.6,396.9 1172.5,399.5 C1175.4,402.0 1178.2,404.8 1181.0,407.5 C1183.8,410.2 1186.5,412.9 1189.3,415.6 C1192.1,418.3 1194.8,421.1 1197.6,423.8 C1200.4,426.5 1203.2,429.1 1206.1,431.8 C1208.9,434.5 1211.7,437.1 1214.5,439.8 C1217.3,442.5 1220.1,445.2 1222.9,447.9 C1225.6,450.6 1228.4,453.4 1231.1,456.1 C1233.9,458.8 1236.7,461.5 1239.4,464.3 C1242.1,467.1 1244.8,469.9 1247.4,472.7 C1250.1,475.6 1252.7,478.4 1255.3,481.3 C1258.0,484.1 1260.8,486.8 1263.3,489.8 C1265.8,492.8 1268.0,496.0 1270.4,499.2 C1272.7,502.3 1275.0,505.5 1277.4,508.6 C1279.7,511.8 1282.1,514.9 1284.4,518.1 C1286.7,521.3 1288.9,524.5 1291.2,527.8 C1293.4,531.0 1295.5,534.4 1297.8,537.6 C1300.0,540.9 1302.1,544.3 1304.4,547.4 C1306.8,550.5 1309.4,553.4 1311.9,556.4 C1314.3,559.5 1317.0,562.3 1319.2,565.6 C1321.4,568.9 1323.1,572.6 1325.0,576.2 C1326.8,579.9 1328.5,583.7 1330.3,587.4 C1332.0,591.2 1333.8,594.9 1335.5,598.7 C1337.2,602.4 1339.0,606.1 1340.7,609.9 C1342.4,613.7 1344.1,617.5 1345.9,621.2 C1347.7,624.9 1349.6,628.4 1351.5,632.0 C1353.4,635.6 1351.9,631.4 1357.3,642.7 C1362.7,654.0 1376.9,683.8 1384.0,700.0 C1391.1,716.2 1394.8,728.0 1400.0,740.0 C1405.2,752.0 1411.0,764.2 1415.0,772.0 C1419.0,779.8 1421.8,782.3 1424.3,786.5 C1426.8,790.7 1429.0,795.2 1430.0,797.0"/>
<path d="M1474.4,810.0 C1475.8,810.0 1478.1,811.1 1482.6,810.0 C1487.1,808.9 1495.4,806.0 1501.2,803.3 C1507.0,800.5 1512.7,798.2 1517.5,793.5 C1522.3,788.8 1526.2,780.2 1530.0,775.0 C1533.8,769.8 1535.8,765.6 1540.0,762.0 C1544.2,758.4 1546.0,756.8 1555.2,753.2 C1564.4,749.7 1580.3,743.8 1595.3,740.7 C1610.3,737.6 1632.0,734.7 1645.4,734.7 C1658.8,734.7 1667.2,737.2 1675.5,740.7 C1683.8,744.2 1690.5,749.0 1695.5,755.7 C1700.5,762.4 1703.4,770.8 1705.5,780.8 C1707.6,790.8 1708.4,805.0 1708.0,815.9 C1707.6,826.8 1705.9,837.3 1703.0,846.0 C1700.1,854.7 1692.6,864.3 1690.5,868.0"/>
<path d="M1052.6,332.6 C1053.0,332.8 1053.1,332.8 1054.9,333.6 C1056.6,334.4 1059.8,335.9 1063.0,337.4 C1066.2,338.9 1070.3,341.0 1073.9,342.8 C1077.5,344.6 1081.1,346.3 1084.6,348.2 C1088.2,350.1 1091.6,352.0 1095.0,354.0 C1098.5,356.0 1101.8,358.0 1105.2,360.1 C1108.5,362.1 1111.9,364.2 1115.2,366.2 C1118.5,368.3 1121.9,370.3 1125.2,372.5 C1128.4,374.6 1131.6,376.8 1134.8,379.1 C1137.9,381.3 1141.0,383.6 1144.1,385.9 C1147.2,388.2 1150.3,390.5 1153.4,392.8 C1156.5,395.1 1159.6,397.4 1162.7,399.7 C1165.8,402.1 1169.0,404.3 1171.9,406.8 C1174.7,409.3 1177.3,412.2 1180.0,414.8 C1182.8,417.5 1185.5,420.2 1188.2,422.9 C1191.0,425.5 1193.7,428.1 1196.5,430.7 C1199.3,433.4 1202.2,435.9 1205.0,438.5 C1207.8,441.1 1210.7,443.6 1213.4,446.3 C1216.2,448.9 1218.9,451.6 1221.6,454.3 C1224.3,457.0 1227.0,459.7 1229.7,462.4 C1232.4,465.1 1235.2,467.7 1237.8,470.5 C1240.5,473.2 1242.9,476.2 1245.4,479.1 C1248.0,482.0 1250.5,484.9 1253.0,487.8 C1255.5,490.7 1258.0,493.5 1260.4,496.5 C1262.8,499.5 1265.1,502.6 1267.5,505.6 C1269.8,508.7 1272.2,511.8 1274.5,514.9 C1276.8,517.9 1279.2,521.0 1281.5,524.1 C1283.8,527.2 1286.0,530.3 1288.2,533.5 C1290.4,536.7 1292.5,540.0 1294.7,543.2 C1296.9,546.5 1299.1,549.7 1301.3,552.9 C1303.5,556.1 1305.7,559.3 1307.9,562.5 C1310.0,565.7 1312.2,568.9 1314.3,572.3 C1316.3,575.6 1318.2,579.1 1320.1,582.7 C1322.0,586.2 1323.7,589.9 1325.5,593.5 C1327.3,597.1 1329.1,600.7 1330.9,604.3 C1332.6,607.9 1334.4,611.6 1336.2,615.2 C1338.0,618.8 1339.6,622.5 1341.4,626.2 C1343.2,629.8 1345.0,633.4 1346.8,637.0 C1348.6,640.6 1347.0,637.3 1352.2,647.8 C1357.4,658.3 1371.2,684.6 1378.0,700.0 C1384.8,715.4 1387.7,726.7 1393.0,740.0 C1398.3,753.3 1403.8,768.0 1410.0,780.0 C1416.2,792.0 1423.0,802.8 1430.0,812.0 C1437.0,821.2 1445.7,828.3 1452.0,835.0 C1458.3,841.7 1465.3,849.2 1468.0,852.0"/>
<path d="M1052.7,349.2 C1052.8,349.3 1052.7,349.3 1053.2,349.5 C1053.8,349.8 1055.0,350.4 1055.9,350.9 C1056.8,351.3 1057.7,351.7 1058.7,352.2 C1059.6,352.7 1060.3,353.0 1061.8,353.8 C1063.2,354.5 1065.3,355.6 1067.1,356.6 C1068.9,357.5 1070.6,358.4 1072.4,359.4 C1074.2,360.3 1076.0,361.2 1077.7,362.2 C1079.5,363.1 1081.2,364.2 1082.9,365.1 C1084.6,366.1 1086.3,367.1 1088.0,368.1 C1089.7,369.1 1091.4,370.1 1093.1,371.2 C1094.8,372.2 1096.5,373.2 1098.1,374.3 C1099.8,375.3 1101.5,376.4 1103.1,377.4 C1104.8,378.4 1106.5,379.5 1108.1,380.5 C1109.8,381.6 1111.5,382.6 1113.1,383.7 C1114.7,384.8 1116.4,385.9 1118.0,386.9 C1119.6,388.0 1121.2,389.1 1122.8,390.2 C1124.5,391.3 1126.1,392.4 1127.7,393.5 C1129.3,394.6 1131.0,395.6 1132.6,396.7 C1134.2,397.8 1135.8,398.9 1137.5,400.0 C1139.1,401.1 1140.7,402.2 1142.3,403.2 C1143.9,404.3 1145.6,405.4 1147.2,406.5 C1148.8,407.6 1150.4,408.7 1152.1,409.8 C1153.7,410.8 1155.3,411.9 1156.9,413.0 C1158.5,414.1 1160.1,415.3 1161.6,416.5 C1163.1,417.7 1164.5,419.0 1166.0,420.2 C1167.4,421.5 1168.9,422.7 1170.3,424.0 C1171.8,425.3 1173.2,426.5 1174.7,427.8 C1176.2,429.0 1177.6,430.3 1179.0,431.5 C1180.5,432.8 1181.9,434.1 1183.4,435.3 C1184.9,436.6 1186.3,437.8 1187.8,439.0 C1189.3,440.3 1190.8,441.5 1192.2,442.7 C1193.7,444.0 1195.2,445.2 1196.7,446.4 C1198.2,447.7 1199.6,448.9 1201.1,450.1 C1202.6,451.4 1204.1,452.5 1205.5,453.8 C1207.0,455.1 1208.3,456.5 1209.6,457.9 C1211.0,459.2 1212.3,460.6 1213.7,461.9 C1215.0,463.3 1216.4,464.7 1217.7,466.0 C1219.1,467.4 1220.4,468.8 1221.7,470.1 C1223.1,471.5 1225.1,473.5 1225.8,474.2"/>
</g>
<text x="1760.3" y="120.6" font-family="Liberation Sans, sans-serif" font-size="25.0" text-anchor="middle" fill="#ff0000" textLength="45.0" lengthAdjust="spacingAndGlyphs" transform="rotate(14.0 1760.3 112.0)">286</text>
<text x="1828.7" y="224.6" font-family="Liberation Sans, sans-serif" font-size="25.0" text-anchor="middle" fill="#ff0000" textLength="45.0" lengthAdjust="spacingAndGlyphs" transform="rotate(10.0 1828.7 216.0)">284</text>
<text x="1871.3" y="311.3" font-family="Liberation Sans, sans-serif" font-size="25.0" text-anchor="middle" fill="#ff0000" textLength="45.0" lengthAdjust="spacingAndGlyphs" transform="rotate(6.0 1871.3 302.7)">282</text>
<text x="1389.0" y="243.6" font-family="Liberation Sans, sans-serif" font-size="25.0" text-anchor="middle" fill="#ff0000" textLength="45.0" lengthAdjust="spacingAndGlyphs" transform="rotate(12.0 1389.0 235.0)">280</text>
<text x="1425.0" y="322.6" font-family="Liberation Sans, sans-serif" font-size="25.0" text-anchor="middle" fill="#ff0000" textLength="45.0" lengthAdjust="spacingAndGlyphs" transform="rotate(15.0 1425.0 314.0)">278</text>
<text x="1537.6" y="454.5" font-family="Liberation Sans, sans-serif" font-size="25.0" text-anchor="middle" fill="#ff0000" textLength="45.0" lengthAdjust="spacingAndGlyphs" transform="rotate(30.0 1537.6 445.9)">276</text>
<text x="1523.3" y="681.6" font-family="Liberation Sans, sans-serif" font-size="25.0" text-anchor="middle" fill="#ff0000" textLength="45.0" lengthAdjust="spacingAndGlyphs" transform="rotate(-52.0 1523.3 673.0)">272</text>
<text x="1450.0" y="813.6" font-family="Liberation Sans, sans-serif" font-size="25.0" text-anchor="middle" fill="#ff0000" textLength="45.0" lengthAdjust="spacingAndGlyphs" transform="rotate(20.0 1450.0 805.0)">270</text>
</g>
<line x1="1167.5" y1="83.6" x2="1167.5" y2="869.9" stroke="#000" stroke-width="2.1" stroke-dasharray="7.7 3.3"/>
<line x1="1369.7" y1="83.6" x2="1369.7" y2="869.9" stroke="#000" stroke-width="2.1" stroke-dasharray="7.7 3.3"/>
</g>
<rect x="1055.7" y="83.6" width="845.2" height="786.3" fill="none" stroke="#000" stroke-width="2.4"/>
<text x="1132.0" y="923.7" font-family="Liberation Sans, sans-serif" font-size="42.6" text-anchor="middle" fill="#000" textLength="123.8" lengthAdjust="spacingAndGlyphs">−67.5</text>
<text x="1285.6" y="923.7" font-family="Liberation Sans, sans-serif" font-size="42.6" text-anchor="middle" fill="#000" textLength="123.8" lengthAdjust="spacingAndGlyphs">−67.0</text>
<text x="1439.2" y="923.7" font-family="Liberation Sans, sans-serif" font-size="42.6" text-anchor="middle" fill="#000" textLength="123.8" lengthAdjust="spacingAndGlyphs">−66.5</text>
<text x="1592.8" y="923.7" font-family="Liberation Sans, sans-serif" font-size="42.6" text-anchor="middle" fill="#000" textLength="123.8" lengthAdjust="spacingAndGlyphs">−66.0</text>
<text x="1746.4" y="923.7" font-family="Liberation Sans, sans-serif" font-size="42.6" text-anchor="middle" fill="#000" textLength="123.8" lengthAdjust="spacingAndGlyphs">−65.5</text>
<text x="1900.0" y="923.7" font-family="Liberation Sans, sans-serif" font-size="42.6" text-anchor="middle" fill="#000" textLength="123.8" lengthAdjust="spacingAndGlyphs">−65.0</text>
<path d="M1132.5,869.9v10.4M1286.1,869.9v10.4M1439.7,869.9v10.4M1593.3,869.9v10.4M1746.9,869.9v10.4M1900.5,869.9v10.4M1055.7,869.9h-10.8M1055.7,726.8h-10.8M1055.7,583.6h-10.8M1055.7,440.4h-10.8M1055.7,297.3h-10.8M1055.7,154.1h-10.8" stroke="#000" stroke-width="2.2" fill="none"/>
<text x="1478.3" y="975.4" font-family="Liberation Sans, sans-serif" font-size="42.6" text-anchor="middle" fill="#000" textLength="238.1" lengthAdjust="spacingAndGlyphs">Latitude (°)</text>
<text x="1478.3" y="66.0" font-family="Liberation Sans, sans-serif" font-size="62.5" text-anchor="middle" fill="#000" textLength="188.6" lengthAdjust="spacingAndGlyphs">20 km</text>
</g>
<clipPath id="cf3"><rect x="1920.4" y="83.6" width="844.6" height="786.3"/></clipPath>
<clipPath id="cx3"><rect x="1909.7" y="0" width="1088.3" height="999"/></clipPath>
<g clip-path="url(#cx3)">
<rect x="1909.7" y="0" width="1088.3" height="999" fill="#fff"/>
<g clip-path="url(#cf3)">
<path fill="#472d7b" fill-rule="evenodd" d="M2273.3,487.8L2271.7,489.2L2270.6,491.9L2271.1,502.5L2273.1,513.2L2277.6,525.5L2289.1,549.2L2304.3,576.2L2313.7,591.2L2322.9,603.3L2330.2,610.5L2339.3,617.3L2349.8,623.8L2378.3,639.9L2409.1,660.3L2427.8,674.0L2435.4,677.6L2438.5,677.8L2441.8,676.6L2444.3,673.7L2446.0,669.1L2446.9,663.0L2446.8,656.9L2445.8,652.4L2443.4,646.3L2439.7,640.3L2436.0,635.7L2429.7,629.7L2411.9,616.2L2405.5,610.2L2336.7,530.7L2311.3,505.0L2297.7,494.5L2285.7,487.3L2279.5,486.2Z"/>
<path fill="#404688" fill-rule="evenodd" d="M2211.9,386.7L2207.3,388.6L2202.7,393.0L2200.9,397.4L2200.9,403.6L2203.9,415.6L2207.6,436.6L2212.9,456.1L2231.9,514.6L2238.3,532.7L2250.7,560.2L2284.0,603.2L2321.2,658.5L2328.7,667.5L2334.8,671.5L2340.9,673.6L2349.9,675.3L2356.0,675.7L2371.0,675.0L2374.6,675.4L2379.4,676.9L2387.3,681.4L2405.3,694.8L2424.8,705.5L2438.4,711.3L2468.4,721.2L2487.8,728.5L2499.8,734.1L2507.9,739.8L2516.7,748.8L2525.9,760.7L2530.6,769.6L2533.3,780.1L2534.5,792.0L2535.3,826.5L2534.1,844.3L2531.0,869.9L2570.0,869.9L2566.4,857.5L2563.2,841.4L2561.6,826.5L2561.4,813.0L2563.1,792.0L2565.8,777.1L2569.1,765.1L2577.8,742.6L2580.5,732.1L2580.7,727.5L2579.9,723.4L2578.3,719.8L2575.4,715.3L2567.3,706.2L2549.8,689.3L2479.3,618.9L2469.8,610.2L2443.4,587.7L2423.8,568.9L2398.3,542.8L2377.3,519.1L2368.2,509.7L2356.5,499.2L2340.2,485.7L2315.7,467.7L2306.8,460.2L2263.3,414.4L2249.8,401.1L2240.7,393.8L2231.6,389.3L2225.6,387.4L2219.6,386.2L2215.0,386.1ZM2278.1,487.2L2283.9,487.6L2289.8,490.4L2301.8,498.3L2313.7,508.4L2336.1,531.3L2404.9,610.8L2411.4,616.8L2429.2,630.3L2436.7,637.8L2440.0,642.2L2443.4,648.2L2445.1,652.6L2446.0,657.1L2446.1,663.0L2445.2,668.9L2443.6,673.3L2441.2,676.0L2438.5,677.0L2435.6,676.8L2428.2,673.3L2409.6,659.7L2378.7,639.2L2350.2,623.1L2339.7,616.7L2330.8,609.9L2323.3,602.6L2313.3,589.3L2301.5,569.8L2286.7,542.8L2276.4,520.4L2272.9,508.4L2271.3,493.5L2271.8,490.6L2272.7,489.3L2275.1,487.9Z"/>
<path fill="#365d8d" fill-rule="evenodd" d="M2157.9,302.8L2153.3,305.0L2149.4,308.8L2147.1,313.2L2146.4,318.0L2146.9,322.6L2150.3,336.1L2155.0,360.1L2155.6,366.0L2155.4,375.0L2156.2,379.6L2158.5,384.2L2166.6,396.2L2175.4,414.2L2183.8,435.1L2193.6,462.0L2203.6,486.1L2223.8,540.1L2226.7,545.8L2229.7,549.3L2238.1,556.8L2241.7,561.1L2273.3,606.2L2286.7,627.9L2315.2,670.8L2324.2,682.2L2336.2,695.2L2344.5,700.8L2364.8,710.4L2379.9,715.9L2412.9,726.1L2441.8,738.4L2449.8,742.8L2455.8,747.3L2461.8,753.3L2466.9,760.7L2469.0,766.6L2469.2,771.0L2468.1,776.9L2465.9,784.4L2460.9,796.3L2451.6,815.1L2447.0,823.3L2437.4,838.3L2434.3,844.3L2431.6,853.4L2430.2,866.3L2445.1,869.9L2531.8,869.9L2535.6,837.0L2536.2,817.5L2534.8,784.5L2532.8,773.9L2530.0,766.3L2524.3,757.0L2514.6,745.2L2506.6,737.7L2498.7,732.6L2477.6,723.7L2440.1,711.1L2428.1,706.1L2405.7,694.2L2387.7,680.8L2379.7,676.1L2372.5,674.3L2354.5,674.8L2342.6,673.1L2333.7,670.1L2329.6,667.2L2326.3,663.7L2318.8,653.7L2284.7,602.8L2251.3,559.8L2239.7,533.8L2235.7,523.4L2216.9,466.4L2208.1,434.9L2204.7,415.4L2201.9,404.9L2201.4,400.5L2201.9,396.7L2203.3,393.5L2206.3,390.4L2209.2,388.5L2212.3,387.4L2216.5,386.8L2220.9,387.2L2226.9,388.6L2232.8,390.7L2238.8,393.6L2247.7,400.3L2262.7,414.9L2306.2,460.8L2315.3,468.4L2339.7,486.3L2356.0,499.8L2367.6,510.3L2376.7,519.6L2397.7,543.4L2423.2,569.4L2442.8,588.3L2469.3,610.8L2478.7,619.4L2549.2,689.9L2566.7,706.8L2574.7,715.7L2577.6,720.2L2579.1,723.6L2579.9,727.5L2579.7,731.9L2577.0,742.4L2568.4,764.9L2565.0,776.9L2562.3,791.9L2560.6,813.0L2560.8,826.5L2562.4,841.6L2565.6,857.6L2569.1,869.9L2655.5,869.9L2648.7,807.0L2643.4,763.5L2641.4,727.4L2640.2,721.4L2637.9,715.3L2634.5,709.3L2630.8,704.4L2625.1,698.7L2619.3,694.2L2587.2,674.4L2570.7,663.2L2548.2,647.1L2527.3,630.3L2511.8,616.2L2439.8,544.2L2410.3,510.9L2396.9,497.7L2382.9,485.7L2360.7,468.3L2299.2,422.4L2284.3,410.1L2274.5,400.2L2265.8,389.8L2260.8,382.3L2248.3,360.8L2236.3,344.2L2222.8,327.7L2212.3,317.2L2200.2,308.7L2195.7,306.3L2189.6,304.1L2183.6,302.9L2174.5,302.1L2164.0,301.9Z"/>
<path fill="#2c728e" fill-rule="evenodd" d="M2111.4,199.2L2105.4,201.1L2100.3,203.7L2096.2,206.8L2092.7,211.3L2090.8,215.9L2090.0,220.5L2090.3,237.8L2081.8,227.8L2080.1,226.5L2078.4,226.4L2078.1,229.5L2079.3,234.1L2092.1,268.7L2112.6,314.0L2115.8,320.3L2117.5,321.0L2119.2,319.0L2120.2,319.7L2129.1,339.6L2132.3,349.6L2134.4,369.1L2136.7,378.2L2139.2,382.7L2146.3,391.7L2150.1,397.7L2166.1,427.7L2181.6,461.3L2199.0,496.7L2219.0,543.2L2223.4,549.3L2234.6,561.2L2260.2,598.7L2267.0,609.2L2277.7,628.6L2303.5,670.7L2312.2,683.1L2324.9,699.3L2330.2,704.5L2334.8,707.4L2339.4,708.6L2348.4,709.6L2353.1,711.3L2387.9,736.8L2399.2,745.8L2408.6,754.8L2413.0,760.7L2416.5,768.1L2417.8,772.6L2418.2,777.0L2418.0,781.4L2416.7,787.4L2414.8,793.4L2411.4,800.8L2404.1,812.8L2397.7,820.3L2390.8,826.2L2378.3,834.2L2358.3,846.0L2431.0,866.5L2432.3,853.6L2435.1,844.7L2438.8,837.4L2452.0,816.2L2461.0,798.2L2466.1,786.1L2469.8,772.5L2470.0,767.9L2469.0,763.4L2465.8,757.3L2459.6,749.7L2452.5,743.7L2444.7,738.9L2432.2,733.1L2413.8,725.6L2380.1,715.2L2365.2,709.7L2344.9,700.1L2336.8,694.6L2324.8,681.7L2315.8,670.3L2287.3,627.5L2274.0,605.8L2242.3,560.6L2238.7,556.2L2230.3,548.7L2227.3,545.3L2224.5,539.9L2204.3,485.9L2194.4,461.7L2184.6,434.9L2176.1,413.8L2167.3,395.8L2159.2,383.8L2157.0,379.4L2156.2,375.0L2156.4,366.0L2155.8,359.9L2151.1,335.9L2147.6,322.4L2147.2,318.0L2147.8,313.6L2149.3,310.3L2152.3,306.8L2156.6,304.1L2161.1,303.0L2167.0,302.7L2179.0,303.2L2187.9,304.5L2193.8,306.4L2198.3,308.5L2205.8,313.2L2211.7,317.8L2222.2,328.2L2235.7,344.6L2247.7,361.3L2260.1,382.7L2265.2,390.2L2273.9,400.8L2283.7,410.7L2298.8,423.0L2360.3,468.9L2382.4,486.3L2396.4,498.3L2409.7,511.5L2439.3,544.8L2511.3,616.8L2526.7,630.9L2544.8,645.4L2561.3,657.6L2585.3,674.1L2616.7,693.3L2622.8,697.8L2627.8,702.3L2632.8,708.2L2636.5,714.2L2638.9,720.1L2640.3,726.1L2641.3,735.0L2642.6,763.5L2647.8,805.5L2654.7,869.9L2713.1,869.9L2710.3,848.9L2706.4,826.4L2697.6,791.9L2695.5,781.4L2691.9,745.5L2688.8,724.4L2686.8,716.9L2684.3,710.8L2680.7,704.8L2677.1,700.2L2669.3,692.7L2661.1,686.7L2572.2,631.0L2565.9,626.7L2560.7,622.2L2553.5,614.7L2537.8,596.7L2513.8,568.0L2506.3,561.3L2488.3,547.6L2481.8,541.2L2478.6,535.4L2476.8,518.9L2475.7,515.8L2473.1,511.3L2466.7,502.3L2459.8,494.0L2448.2,482.7L2436.5,472.2L2428.8,466.2L2420.7,460.9L2383.2,440.5L2341.3,415.2L2309.7,393.9L2296.3,383.2L2290.3,376.9L2284.3,368.6L2262.3,331.3L2233.3,287.2L2218.3,268.7L2200.3,251.0L2173.2,229.1L2155.2,216.0L2144.7,209.3L2132.7,202.9L2125.1,199.7L2119.0,198.6ZM2106.7,274.1L2108.7,277.6L2108.5,280.9L2105.9,275.6L2105.8,273.5Z"/>
<path fill="#24868e" fill-rule="evenodd" d="M2039.4,96.0L2031.9,98.2L2025.8,100.9L2019.9,104.7L2014.7,109.2L2010.6,113.8L2006.7,119.8L2004.2,125.9L2002.8,131.9L2002.1,139.5L2002.5,148.5L2006.7,169.6L2011.7,184.7L2022.4,207.2L2034.0,228.2L2046.7,249.2L2056.8,264.2L2078.5,294.2L2098.2,325.7L2104.6,337.7L2113.3,355.7L2122.5,378.2L2125.4,382.7L2133.3,391.8L2137.6,397.7L2145.1,409.7L2153.5,424.7L2172.7,462.2L2189.7,493.7L2201.1,516.9L2213.2,543.2L2216.3,547.8L2227.9,561.2L2257.1,604.7L2261.5,612.2L2268.6,627.0L2277.7,643.4L2296.0,673.7L2311.3,696.2L2320.6,708.3L2322.8,710.3L2325.8,711.9L2337.8,715.2L2342.9,718.8L2375.2,751.8L2379.3,757.7L2382.7,765.1L2384.6,771.1L2385.3,775.5L2385.5,780.0L2384.7,785.9L2383.5,790.4L2381.1,795.8L2375.2,804.7L2369.3,810.2L2361.0,815.7L2351.5,820.1L2328.8,828.6L2325.4,830.7L2321.4,835.3L2359.3,846.3L2375.7,836.7L2390.7,827.2L2398.3,820.8L2404.3,813.8L2409.7,805.7L2414.3,796.7L2417.5,787.6L2418.9,780.0L2418.8,773.9L2417.3,767.9L2413.7,760.3L2409.2,754.2L2401.4,746.7L2390.4,737.7L2353.5,710.7L2348.6,708.8L2339.6,707.8L2335.2,706.7L2329.9,703.2L2325.5,698.7L2312.8,682.6L2304.2,670.3L2278.3,628.2L2267.7,608.8L2260.8,598.3L2235.3,560.8L2224.0,548.7L2219.7,542.8L2199.7,496.3L2182.4,461.0L2166.8,427.3L2150.8,397.3L2146.9,391.3L2139.9,382.3L2137.5,377.8L2135.2,368.9L2133.1,349.4L2129.9,339.3L2120.8,319.2L2119.0,318.0L2117.4,320.1L2116.3,319.7L2113.4,313.7L2093.4,269.8L2081.5,238.4L2078.9,229.4L2078.8,227.2L2079.8,227.2L2081.2,228.3L2088.7,237.3L2090.8,238.8L2091.4,237.0L2090.7,222.0L2091.2,217.6L2092.7,213.2L2095.5,208.8L2098.6,205.8L2102.7,203.2L2108.6,200.8L2116.0,199.4L2123.4,200.0L2129.3,202.2L2141.3,208.3L2153.3,215.6L2169.8,227.5L2184.7,239.1L2199.7,251.6L2217.7,269.2L2232.7,287.7L2261.6,331.7L2283.7,369.0L2289.7,377.4L2295.7,383.8L2309.3,394.5L2340.8,415.8L2382.8,441.2L2420.3,461.5L2428.3,466.8L2436.0,472.8L2459.2,494.6L2466.1,502.7L2472.5,511.7L2476.0,519.1L2477.9,535.6L2481.2,541.8L2487.7,548.2L2505.8,561.9L2513.2,568.6L2537.2,597.3L2552.9,615.3L2560.2,622.8L2565.5,627.3L2571.8,631.7L2660.6,687.3L2668.8,693.3L2673.7,697.8L2679.0,703.7L2682.8,709.7L2685.5,715.6L2687.7,723.1L2690.9,744.0L2694.7,781.6L2697.2,793.6L2705.3,825.1L2709.5,849.1L2712.3,869.9L2765.0,869.9L2765.0,848.4L2759.1,838.3L2755.3,826.4L2750.1,802.4L2741.4,755.9L2736.9,718.4L2734.7,710.9L2731.6,704.8L2727.1,698.7L2722.3,693.8L2715.3,688.2L2707.2,682.8L2678.7,666.6L2635.2,644.7L2622.9,637.2L2603.3,622.2L2595.1,614.7L2589.4,608.7L2582.2,599.8L2576.3,590.8L2571.1,580.3L2564.1,562.3L2560.4,554.1L2555.8,546.9L2545.0,532.3L2541.7,526.4L2540.9,523.4L2540.9,520.6L2544.8,510.1L2545.3,505.5L2543.6,499.4L2539.7,490.3L2535.6,482.8L2531.6,476.8L2522.3,464.7L2514.5,455.7L2501.5,443.7L2476.7,425.7L2399.7,379.1L2383.2,370.4L2326.2,345.5L2320.2,342.0L2315.8,338.5L2306.8,329.6L2291.8,313.2L2267.8,283.7L2260.5,272.8L2246.4,248.8L2228.8,221.0L2218.3,205.6L2209.3,194.2L2198.8,182.9L2186.8,171.8L2168.8,156.8L2147.7,140.3L2131.2,128.5L2107.2,113.1L2093.7,105.8L2078.7,98.9L2069.6,95.7L2060.5,94.3L2050.0,94.4ZM2105.1,275.8L2106.7,279.7L2108.7,282.1L2109.6,280.6L2109.7,279.0L2108.8,275.6L2107.3,273.5L2105.5,272.5L2105.0,273.0Z"/>
<path fill="#1f9a8a" fill-rule="evenodd" d="M1920.4,177.0L1940.4,182.6L1947.8,185.6L1955.3,189.7L1964.3,196.2L1994.9,220.8L2033.3,250.1L2046.7,261.7L2060.2,275.6L2069.3,286.7L2081.2,304.3L2093.1,325.9L2100.6,342.7L2105.1,354.5L2108.8,372.1L2111.7,379.7L2115.1,384.3L2125.0,394.7L2136.7,411.4L2164.7,462.2L2178.6,485.9L2208.5,544.7L2222.0,561.2L2247.1,598.7L2252.8,609.2L2277.0,657.2L2290.1,679.7L2301.7,697.7L2313.7,714.8L2324.2,727.8L2328.8,731.6L2336.4,735.3L2340.7,738.3L2346.7,745.1L2351.3,753.2L2354.2,762.1L2354.8,771.0L2353.5,778.4L2350.0,785.8L2345.7,791.7L2340.0,797.7L2334.4,802.2L2322.9,809.7L2316.7,821.7L2315.6,822.1L2312.2,819.2L2320.6,835.0L2322.2,835.5L2325.9,831.3L2329.2,829.3L2351.7,820.9L2360.7,816.8L2368.4,811.8L2375.3,805.8L2381.6,796.7L2383.7,792.1L2385.5,786.1L2386.3,780.0L2386.1,775.5L2385.4,770.9L2383.4,764.8L2380.0,757.3L2375.8,751.2L2343.5,718.2L2338.2,714.5L2326.1,711.1L2323.2,709.6L2321.2,707.7L2311.9,695.8L2296.7,673.3L2278.3,643.0L2269.4,626.6L2262.2,611.8L2257.8,604.3L2228.6,560.8L2216.9,547.3L2213.9,542.8L2201.9,516.5L2190.4,493.3L2173.4,461.8L2154.2,424.3L2145.8,409.3L2138.3,397.3L2133.9,391.2L2126.1,382.3L2123.2,377.8L2114.0,355.3L2105.4,337.3L2098.9,325.3L2079.2,293.8L2048.3,250.3L2038.2,233.8L2024.6,209.8L2014.4,188.8L2009.1,175.4L2003.9,152.9L2003.0,145.5L2003.0,138.0L2003.6,132.1L2005.0,126.1L2007.4,120.2L2010.1,115.7L2014.3,110.7L2020.2,105.4L2024.9,102.3L2031.0,99.4L2041.1,96.5L2053.0,95.0L2063.4,95.4L2073.8,97.9L2088.8,104.3L2103.8,112.1L2126.3,126.2L2142.8,137.6L2163.8,153.8L2184.7,171.1L2198.2,183.5L2208.7,194.7L2217.7,206.1L2228.2,221.4L2245.7,249.2L2259.8,273.2L2267.2,284.2L2291.2,313.7L2306.2,330.2L2315.2,339.1L2321.3,343.6L2327.3,346.9L2382.8,371.2L2397.8,378.9L2474.3,425.1L2499.1,442.8L2511.0,453.3L2519.2,462.3L2528.7,474.2L2534.0,481.7L2538.3,489.2L2542.8,499.6L2544.5,505.5L2544.0,509.9L2540.1,520.4L2540.1,523.6L2540.9,526.7L2544.3,532.7L2555.2,547.3L2559.6,554.5L2563.4,562.7L2570.4,580.7L2575.6,591.2L2581.6,600.2L2588.8,609.3L2594.5,615.3L2602.8,622.8L2622.4,637.8L2634.8,645.4L2678.3,667.3L2706.8,683.5L2714.8,688.8L2721.7,694.4L2726.5,699.3L2731.0,705.2L2734.0,711.1L2736.1,718.6L2740.6,756.1L2749.3,802.6L2754.6,826.9L2758.3,838.7L2761.6,844.7L2765.0,849.5L2765.0,707.9L2743.3,691.1L2723.1,673.2L2714.6,664.2L2707.2,655.3L2702.2,647.8L2699.1,641.8L2697.1,635.9L2696.0,628.5L2693.6,583.5L2692.6,547.5L2690.6,532.4L2688.6,526.3L2681.2,509.8L2664.1,466.3L2660.7,460.3L2656.4,454.3L2647.3,445.0L2638.7,439.2L2608.2,421.9L2581.9,406.2L2552.7,386.7L2504.9,356.7L2464.2,330.3L2438.7,313.1L2428.2,306.8L2413.2,299.8L2383.1,288.2L2354.6,278.1L2326.1,270.7L2320.2,268.3L2315.2,265.2L2307.7,257.7L2291.8,237.3L2263.0,194.8L2247.8,173.8L2243.3,166.3L2235.3,149.8L2228.0,136.3L2221.7,125.8L2216.8,118.9L2209.3,110.7L2198.9,101.7L2185.2,91.3L2173.4,83.6L1920.4,83.6ZM2110.1,516.6L2111.3,514.4L2108.9,507.5L2102.8,496.4L2098.3,489.8L2084.9,476.7L2050.2,446.7L2046.0,443.7L2035.2,437.6L2017.6,424.2L1992.3,406.2L1947.6,377.7L1920.4,362.3L1920.4,367.7L1943.3,379.4L1966.6,394.5L1990.0,410.8L2013.2,429.5L2031.9,445.8L2040.0,447.6L2063.3,468.6L2082.0,482.6L2096.0,494.2L2109.5,516.7Z"/>
<path fill="#28ae80" fill-rule="evenodd" d="M2172.3,83.6L2184.8,91.9L2198.4,102.3L2208.7,111.3L2216.2,119.4L2221.0,126.2L2227.3,136.7L2234.6,150.2L2242.6,166.7L2247.2,174.2L2262.3,195.2L2291.2,237.8L2307.1,258.3L2314.7,265.8L2319.8,269.0L2325.9,271.5L2354.4,278.9L2384.4,289.5L2414.3,301.2L2429.3,308.3L2502.1,355.8L2552.3,387.4L2581.5,406.8L2640.7,441.3L2646.9,445.8L2652.7,451.2L2659.1,459.2L2664.1,468.2L2680.5,510.1L2687.9,526.6L2689.8,532.6L2691.8,547.5L2692.8,583.5L2695.2,628.5L2696.3,636.1L2698.4,642.2L2701.5,648.2L2706.6,655.7L2714.0,664.8L2722.6,673.8L2732.2,682.8L2744.2,692.9L2765.0,708.8L2765.0,454.3L2659.3,348.7L2627.8,322.0L2609.8,305.9L2600.8,297.1L2591.7,286.3L2542.4,217.3L2536.3,209.8L2529.6,203.7L2512.2,190.7L2504.9,184.2L2470.3,149.6L2454.0,131.7L2447.8,125.7L2442.1,121.2L2437.2,118.2L2426.6,113.7L2390.6,104.8L2320.8,83.6ZM1920.4,228.3L1931.5,227.9L1940.5,228.4L1947.9,229.7L1955.3,232.3L1962.8,236.6L1979.3,247.8L2025.8,282.0L2027.4,282.8L2029.2,282.3L2030.7,278.4L2033.3,279.3L2045.2,289.6L2057.2,301.7L2069.2,315.2L2078.1,327.2L2081.4,333.1L2081.4,337.5L2081.9,339.2L2090.1,354.5L2095.4,370.6L2098.1,376.7L2102.6,382.8L2112.0,391.8L2117.2,397.8L2124.2,406.7L2130.1,415.7L2171.8,486.2L2203.5,544.7L2217.7,563.6L2243.0,601.7L2267.1,654.7L2284.4,687.2L2306.2,722.3L2308.3,724.8L2313.7,728.9L2317.5,735.2L2320.0,741.1L2322.6,750.1L2324.1,757.5L2324.3,762.0L2323.4,766.4L2321.2,770.8L2319.7,772.9L2316.8,775.2L2312.4,777.2L2308.0,778.1L2302.8,778.1L2297.6,776.9L2291.7,774.2L2285.8,770.8L2282.8,768.1L2275.6,759.7L2278.6,766.2L2297.3,794.2L2313.0,820.7L2315.4,822.9L2317.2,822.4L2323.4,810.3L2334.9,802.8L2341.3,797.6L2347.6,790.7L2352.3,783.2L2355.1,775.6L2355.7,768.0L2354.7,760.4L2352.0,752.8L2347.3,744.6L2341.3,737.7L2336.7,734.7L2329.2,730.9L2324.8,727.2L2314.3,714.4L2302.4,697.3L2290.7,679.3L2277.7,656.8L2253.6,608.8L2247.7,598.3L2222.6,560.8L2209.2,544.3L2179.4,485.5L2165.4,461.8L2137.3,411.0L2125.7,394.3L2115.7,383.7L2112.4,379.3L2109.6,371.9L2105.8,353.9L2099.9,338.7L2089.3,316.9L2077.3,296.8L2063.8,278.5L2053.3,267.0L2044.3,258.4L2032.2,248.3L1993.4,218.7L1963.2,194.4L1954.2,188.1L1945.2,183.6L1934.6,179.9L1920.4,176.1ZM2191.9,621.2L2199.7,632.7L2201.8,633.0L2202.1,631.4L2200.3,628.3L2192.8,619.0L2191.7,619.1ZM2180.2,605.1L2181.5,604.6L2180.6,602.8L2179.8,604.4ZM2178.1,601.1L2178.0,601.7L2179.2,602.9L2179.3,601.0ZM2145.0,566.5L2163.7,585.3L2177.2,601.3L2177.8,601.4L2178.5,599.8L2170.3,587.8L2149.8,562.3L2126.3,527.8L2103.4,490.3L2099.8,485.8L2089.4,475.2L2050.2,441.4L2038.5,434.7L2019.9,421.2L1993.0,403.2L1947.6,374.7L1920.4,359.4L1920.4,363.1L1947.2,378.3L1989.6,405.3L2017.1,424.8L2034.8,438.3L2047.8,445.8L2087.7,480.3L2097.7,490.3L2102.2,496.8L2106.6,504.8L2109.7,511.6L2110.5,514.5L2110.0,515.7L2109.1,516.0L2110.0,517.5ZM2036.2,296.3L2042.1,304.8L2058.7,320.9L2063.3,324.6L2067.8,327.4L2069.5,327.8L2070.5,327.3L2070.1,325.3L2066.7,320.7L2053.3,306.4L2041.3,295.1L2036.7,291.8L2034.9,291.5L2034.5,292.6Z"/>
<path fill="#48c16e" fill-rule="evenodd" d="M2319.1,83.6L2390.4,105.5L2426.1,114.4L2436.7,118.9L2445.5,124.8L2453.4,132.3L2469.7,150.1L2504.4,184.8L2511.8,191.3L2529.7,204.8L2537.0,211.8L2591.0,286.7L2601.7,299.2L2627.2,322.6L2658.7,349.3L2765.0,455.3L2765.0,279.3L2744.2,259.2L2728.5,242.7L2589.3,83.6ZM1920.4,258.7L1932.9,260.3L1941.9,262.1L1949.4,264.5L1956.8,267.9L1979.3,282.8L2015.3,309.4L2033.9,324.3L2051.2,340.1L2067.7,356.6L2089.6,379.8L2105.5,394.8L2114.6,405.2L2123.2,417.3L2135.2,436.0L2177.2,507.2L2196.1,541.7L2229.5,591.2L2238.5,606.2L2244.7,619.7L2259.1,655.7L2266.6,672.2L2276.3,691.7L2280.1,700.6L2282.5,708.1L2283.5,714.0L2283.3,719.9L2282.2,723.3L2280.9,724.3L2279.5,724.6L2276.6,724.1L2269.2,720.2L2255.8,709.2L2231.0,687.0L2252.0,720.8L2270.5,748.8L2276.4,761.5L2282.2,768.7L2285.3,771.4L2291.3,774.9L2297.4,777.6L2301.9,778.8L2306.5,779.1L2311.1,778.4L2315.7,776.7L2318.8,774.8L2320.9,772.7L2323.5,768.2L2324.9,764.1L2325.1,760.5L2324.4,754.4L2322.6,746.9L2320.2,739.4L2317.4,733.0L2314.3,728.4L2308.8,724.2L2306.8,721.8L2285.1,686.8L2267.9,654.3L2243.7,601.3L2218.3,563.1L2204.2,544.3L2172.5,485.8L2130.8,415.3L2124.8,406.3L2117.8,397.2L2112.5,391.2L2103.2,382.2L2098.8,376.3L2096.1,370.4L2090.9,354.2L2082.7,338.9L2082.2,337.5L2082.5,334.4L2081.9,332.2L2078.8,326.8L2071.3,316.6L2051.8,294.8L2033.7,278.6L2032.1,277.8L2030.4,277.6L2029.4,278.9L2028.7,281.7L2027.6,282.0L2026.2,281.3L1975.2,244.0L1960.2,234.0L1952.6,230.3L1946.6,228.5L1939.0,227.4L1920.4,227.5ZM2036.3,292.5L2049.7,304.0L2059.3,313.8L2066.1,321.3L2069.8,326.8L2068.2,326.7L2060.8,321.6L2044.1,305.7L2038.2,298.3L2035.3,292.3ZM2148.1,561.2L2166.7,584.2L2177.2,599.3L2177.5,600.3L2164.3,584.7L2155.3,575.9L2150.7,572.5L2163.3,585.6L2197.9,634.7L2201.3,637.6L2203.2,637.5L2204.9,633.0L2204.9,631.4L2204.2,629.8L2168.8,582.1L2151.8,560.8L2127.1,524.8L2111.8,498.4L2106.5,490.3L2102.0,484.2L2092.3,473.6L2074.3,456.8L2053.2,439.2L2042.7,432.9L2023.5,419.7L1997.7,403.2L1948.2,372.7L1920.4,356.7L1920.4,360.3L1947.2,375.3L1992.6,403.8L2019.4,421.8L2038.0,435.3L2049.8,442.0L2087.2,474.3L2097.7,484.8L2102.7,490.7L2123.7,525.2ZM2192.4,619.8L2199.7,628.8L2201.1,631.2L2201.2,632.2L2200.2,632.1L2198.8,630.4Z"/>
<path fill="#75d054" fill-rule="evenodd" d="M2588.4,83.6L2729.2,244.7L2745.1,261.3L2765.0,280.2L2765.0,133.6L2741.8,110.3L2719.4,83.6ZM1920.4,287.0L1934.4,290.3L1944.9,293.7L1953.8,297.7L1961.3,302.1L1989.8,321.9L2034.8,355.8L2045.1,361.9L2069.3,374.2L2079.8,380.8L2092.9,391.8L2107.0,406.8L2112.7,414.2L2121.7,427.8L2140.3,459.2L2159.2,489.0L2191.6,544.7L2222.4,591.2L2230.5,604.7L2234.1,612.2L2237.6,621.1L2250.2,660.1L2251.2,664.6L2251.5,669.0L2250.7,673.4L2249.3,675.1L2246.6,675.3L2243.7,674.2L2239.2,671.6L2234.8,668.0L2225.8,658.7L2218.3,649.5L2213.8,642.9L2209.3,638.4L2208.6,637.3L2208.4,632.9L2207.8,631.3L2190.2,608.8L2170.3,581.6L2152.0,557.8L2128.7,523.3L2114.4,497.8L2107.5,487.3L2095.3,472.2L2080.3,457.3L2057.1,437.7L2029.6,419.7L1920.4,354.1L1920.4,357.6L1947.8,373.4L1997.3,403.8L2023.1,420.3L2042.3,433.6L2052.8,439.8L2073.7,457.4L2093.2,475.7L2102.2,485.7L2105.9,490.7L2111.2,498.9L2126.4,525.2L2151.1,561.2L2168.2,582.6L2203.5,630.2L2204.1,631.6L2203.8,634.4L2202.8,636.8L2201.6,636.9L2198.5,634.2L2186.8,617.2L2181.8,610.8L2181.2,610.8L2210.0,653.2L2232.0,688.6L2250.7,705.9L2267.3,719.8L2271.8,722.8L2276.4,724.9L2279.5,725.4L2281.7,724.8L2282.8,723.8L2283.8,721.6L2284.4,715.5L2283.7,709.4L2281.4,701.9L2277.1,691.3L2267.3,671.8L2259.9,655.3L2245.4,619.3L2239.2,605.8L2230.1,590.8L2196.8,541.3L2177.8,506.8L2135.8,435.6L2122.8,415.3L2112.8,401.7L2104.6,392.7L2088.7,377.7L2060.8,348.4L2036.8,325.7L2020.2,312.2L1990.2,289.8L1958.7,268.1L1951.1,264.3L1942.1,261.4L1933.1,259.5L1920.4,257.9Z"/>
<path fill="#addc30" fill-rule="evenodd" d="M2718.5,83.6L2741.2,110.8L2765.0,134.5L2765.0,83.6ZM1920.4,307.3L1937.3,314.2L1950.8,320.6L1964.3,328.3L1979.3,338.1L1998.7,352.4L2028.8,378.2L2034.8,382.4L2051.3,392.2L2072.3,407.2L2082.7,416.1L2093.2,426.9L2116.4,456.2L2143.4,493.7L2176.9,541.7L2180.7,546.3L2193.7,559.3L2208.7,581.0L2220.3,600.2L2225.8,612.1L2232.2,634.6L2232.5,640.4L2231.2,643.2L2229.9,643.7L2227.1,643.2L2224.2,641.7L2219.8,638.4L2206.3,626.3L2194.3,611.4L2156.6,560.8L2143.3,541.3L2129.8,521.0L2116.7,496.3L2109.8,485.8L2096.9,469.2L2080.3,452.0L2060.7,435.9L2039.7,421.9L2024.7,412.9L1972.9,383.7L1920.4,351.3L1920.4,354.9L1947.8,371.2L1971.8,386.3L2024.4,417.3L2054.3,436.7L2072.2,451.2L2079.7,457.9L2094.7,472.8L2106.9,487.7L2113.7,498.2L2128.0,523.7L2151.4,558.2L2169.7,582.0L2189.6,609.2L2207.1,631.7L2207.8,637.6L2208.7,638.9L2213.2,643.4L2217.7,650.0L2225.2,659.2L2234.2,668.6L2240.3,673.2L2244.8,675.6L2248.0,676.2L2250.3,675.3L2251.5,673.6L2252.3,669.0L2252.0,664.4L2251.0,659.9L2238.3,620.9L2234.8,611.8L2231.2,604.3L2223.1,590.8L2192.3,544.3L2159.8,488.6L2141.0,458.8L2122.3,427.3L2111.8,411.7L2104.3,402.4L2090.8,388.8L2078.7,379.1L2069.7,373.5L2045.5,361.1L2035.3,355.2L1984.2,316.9L1964.7,303.4L1954.2,297.0L1940.6,291.4L1920.4,286.1Z"/>
<path fill="#e5e419" fill-rule="evenodd" d="M1920.4,323.4L1938.5,331.9L1958.4,342.3L1973.6,351.3L1989.8,361.9L2001.7,370.8L2028.3,393.3L2049.8,406.7L2067.8,419.5L2087.2,435.5L2099.2,446.7L2111.2,460.6L2129.1,484.7L2136.1,495.2L2148.0,516.2L2170.5,547.7L2174.4,552.3L2185.3,561.3L2193.7,572.8L2205.7,592.2L2214.4,609.2L2216.1,614.8L2217.5,622.5L2217.5,623.9L2216.3,625.7L2215.0,626.0L2210.6,625.3L2207.8,623.7L2192.8,605.9L2159.8,561.0L2134.3,523.1L2129.9,515.7L2119.6,494.8L2112.9,484.3L2099.3,466.2L2084.1,449.7L2065.2,434.2L2045.7,420.7L2029.2,411.1L1975.2,382.2L1948.1,365.7L1920.4,347.8L1920.4,352.1L1972.5,384.3L2024.3,413.6L2039.3,422.6L2060.3,436.6L2080.4,453.3L2096.3,469.8L2108.1,484.7L2116.0,496.7L2129.2,521.5L2151.7,555.1L2196.7,615.7L2205.7,626.8L2220.7,640.2L2226.9,644.0L2230.0,644.5L2231.8,643.8L2233.3,640.6L2233.2,635.9L2231.6,628.4L2227.1,613.4L2221.0,599.8L2209.3,580.5L2194.3,558.8L2181.3,545.7L2177.6,541.3L2144.1,493.3L2117.0,455.8L2099.8,433.5L2089.3,421.5L2078.8,411.5L2066.7,402.1L2050.2,390.5L2035.2,381.7L2027.7,376.4L2002.3,354.2L1993.2,347.1L1975.2,334.4L1958.7,324.0L1940.7,314.8L1920.4,306.5Z"/>
<path fill="#fde725" fill-rule="evenodd" d="M1920.4,348.6L1947.7,366.3L1974.7,382.8L2028.8,411.8L2045.3,421.4L2064.8,434.9L2082.7,449.5L2097.7,465.6L2110.1,481.7L2118.1,493.7L2129.1,516.1L2133.7,523.5L2159.2,561.5L2192.2,606.4L2207.3,624.3L2209.7,625.9L2213.4,626.7L2216.6,626.5L2217.6,625.8L2218.3,624.0L2217.8,619.4L2216.6,613.4L2213.9,605.9L2204.8,589.2L2192.8,570.0L2185.3,560.1L2175.0,551.7L2171.2,547.3L2148.7,515.8L2135.9,493.3L2125.3,478.0L2107.3,454.5L2093.8,440.3L2066.7,417.7L2050.2,406.0L2028.8,392.7L2000.8,369.0L1987.9,359.7L1971.6,349.2L1956.0,340.2L1938.8,331.1L1920.4,322.5Z"/>
<clipPath id="cr3"><path clip-rule="evenodd" d="M2765.0,869.9L2765.0,83.6L1920.4,83.6L1920.4,367.7L1943.3,379.4L1966.6,394.5L1990.0,410.8L2013.2,429.5L2031.9,445.8L2040.0,447.6L2063.3,468.6L2082.0,482.6L2096.0,494.2L2110.0,517.5L2145.0,566.5L2163.3,585.6L2186.6,618.3L2210.0,653.2L2252.0,720.8L2270.5,748.8L2278.6,766.2L2297.3,794.2L2311.3,817.5L2320.6,835.0L2376.6,851.3L2434.8,867.6L2445.1,869.9Z"/></clipPath>
<g clip-path="url(#cr3)">
<g fill="none" stroke="#ff0000" stroke-width="2.0" stroke-dasharray="2.0 3.4">
<path d="M2485.3,82.5 C2494.5,85.4 2522.9,95.0 2540.5,100.0 C2558.0,105.1 2573.9,108.6 2590.6,112.6 C2607.3,116.6 2624.0,120.5 2640.7,124.1 C2657.4,127.7 2669.8,130.1 2690.8,134.1 C2711.9,138.1 2754.3,145.8 2767.0,148.2"/>
<path d="M2097.9,81.5 L2101.4,84.0"/>
<path d="M2175.6,84.0 C2182.3,86.3 2200.7,91.9 2215.7,97.5 C2230.7,103.1 2249.1,110.9 2265.8,117.6 C2282.5,124.3 2302.7,132.2 2315.9,137.6 C2329.1,143.1 2332.6,144.7 2345.0,150.2 C2357.4,155.6 2374.2,163.9 2390.1,170.2 C2406.0,176.5 2423.5,183.2 2440.2,187.8 C2456.9,192.3 2473.6,194.2 2490.4,197.8 C2507.1,201.4 2523.8,206.0 2540.5,209.3 C2557.2,212.6 2573.9,215.2 2590.6,217.8 C2607.3,220.5 2624.0,222.8 2640.7,225.3 C2657.4,227.8 2669.8,229.9 2690.8,232.9 C2711.9,235.9 2754.3,241.6 2767.0,243.4"/>
<path d="M1919.0,86.0 C1928.4,92.1 1956.4,111.1 1975.1,122.6 C1993.9,134.1 2012.9,145.2 2031.3,155.2 C2049.6,165.2 2076.4,178.1 2085.4,182.7"/>
<path d="M2138.0,181.7 C2142.6,180.8 2156.0,177.5 2165.6,176.2 C2175.2,175.0 2185.6,174.0 2195.7,174.2 C2205.7,174.5 2215.7,175.5 2225.7,177.7 C2235.8,180.0 2244.1,182.7 2255.8,187.8 C2267.5,192.8 2281.0,200.7 2295.9,207.8 C2310.8,214.9 2329.3,222.4 2345.0,230.4 C2360.7,238.3 2374.2,247.5 2390.1,255.4 C2406.0,263.3 2423.5,271.7 2440.2,278.0 C2456.9,284.2 2473.6,288.0 2490.4,293.0 C2507.1,298.0 2523.8,304.3 2540.5,308.0 C2557.2,311.8 2573.9,313.2 2590.6,315.6 C2607.3,317.9 2624.0,320.2 2640.7,322.1 C2657.4,323.9 2669.8,325.0 2690.8,326.6 C2711.9,328.2 2754.3,330.8 2767.0,331.6"/>
<path d="M1919.0,153.7 C1928.4,160.2 1956.4,180.4 1975.1,192.8 C1993.9,205.1 2013.7,215.7 2031.3,227.8 C2048.8,240.0 2067.6,255.7 2080.4,265.4 C2093.2,275.2 2103.4,283.0 2108.0,286.5"/>
<path d="M2160.6,303.0 C2163.9,302.2 2173.1,301.8 2180.6,298.0 C2188.1,294.3 2198.2,285.1 2205.7,280.5 C2213.2,275.9 2219.0,272.8 2225.7,270.4 C2232.4,268.1 2239.1,266.9 2245.8,266.4 C2252.5,266.0 2257.5,266.0 2265.8,267.9 C2274.2,269.9 2282.7,272.5 2295.9,278.0 C2309.1,283.4 2329.3,291.7 2345.0,300.5 C2360.7,309.3 2374.2,321.8 2390.1,330.6 C2406.0,339.4 2423.5,346.5 2440.2,353.1 C2456.9,359.8 2473.6,364.8 2490.4,370.7 C2507.1,376.5 2523.8,383.6 2540.5,388.2 C2557.2,392.8 2573.9,395.3 2590.6,398.2 C2607.3,401.2 2624.0,403.7 2640.7,405.8 C2657.4,407.9 2669.8,409.3 2690.8,410.8 C2711.9,412.3 2754.3,414.1 2767.0,414.8"/>
<path d="M1919.0,211.3 C1928.4,217.4 1956.4,235.5 1975.1,247.9 C1993.9,260.3 2013.7,273.0 2031.3,285.5 C2048.8,298.0 2066.4,311.0 2080.4,323.1 C2094.4,335.2 2104.6,346.0 2115.5,358.2 C2126.3,370.3 2136.4,383.6 2145.5,395.7 C2154.7,407.9 2163.9,421.6 2170.6,430.8 C2177.3,440.0 2183.1,447.5 2185.6,450.9"/>
<path d="M2228.2,451.9 C2229.5,447.5 2232.8,434.3 2235.8,425.8 C2238.7,417.3 2241.6,409.1 2245.8,400.8 C2250.0,392.4 2255.0,382.8 2260.8,375.7 C2266.7,368.6 2274.2,361.7 2280.9,358.2 C2287.5,354.6 2293.4,354.2 2300.9,354.6 C2308.4,355.1 2318.6,358.0 2326.0,360.7 C2333.3,363.3 2334.3,364.8 2345.0,370.7 C2355.7,376.5 2374.2,387.4 2390.1,395.7 C2406.0,404.1 2423.5,413.3 2440.2,420.8 C2456.9,428.3 2473.6,434.6 2490.4,440.8 C2507.1,447.1 2523.8,453.0 2540.5,458.4 C2557.2,463.8 2573.9,469.7 2590.6,473.4 C2607.3,477.2 2624.0,478.7 2640.7,480.9 C2657.4,483.2 2669.8,485.1 2690.8,487.0 C2711.9,488.8 2754.3,491.1 2767.0,492.0"/>
<path d="M1919.0,258.9 C1928.4,265.0 1956.4,283.1 1975.1,295.5 C1993.9,307.9 2013.7,320.6 2031.3,333.1 C2048.8,345.6 2066.4,357.7 2080.4,370.7 C2094.4,383.6 2104.6,397.4 2115.5,410.8 C2126.3,424.1 2135.5,436.8 2145.5,450.9 C2155.6,464.9 2164.8,479.4 2175.6,495.1 C2186.5,510.8 2200.7,532.7 2210.7,545.2 C2220.7,557.8 2229.5,565.1 2235.8,570.3 C2242.0,575.5 2246.2,575.3 2248.3,576.3"/>
<path d="M2290.9,565.3 C2292.6,559.4 2297.6,542.7 2300.9,530.2 C2304.2,517.7 2308.0,501.0 2310.9,490.1 C2313.9,479.2 2317.2,469.2 2318.4,465.0 C2319.7,460.8 2314.0,464.9 2318.4,464.9 C2322.9,464.9 2328.9,464.7 2345.0,464.9 C2361.1,465.1 2395.1,463.1 2415.2,466.0 C2435.2,469.0 2448.6,476.1 2465.3,482.6 C2482.0,489.1 2498.7,497.6 2515.4,505.1 C2532.1,512.7 2548.8,521.4 2565.5,527.7 C2582.2,534.0 2598.9,538.6 2615.6,542.7 C2632.4,546.9 2649.1,550.0 2665.8,552.8 C2682.5,555.5 2699.0,557.3 2715.9,559.3 C2732.8,561.2 2758.5,563.4 2767.0,564.3"/>
<path d="M1918.0,296.0 C1918.1,296.0 1917.3,295.8 1918.5,296.2 C1919.6,296.6 1921.8,297.2 1924.8,298.4 C1927.8,299.6 1932.6,301.5 1936.6,303.1 C1940.6,304.7 1944.9,306.3 1948.8,308.1 C1952.8,309.9 1956.4,312.0 1960.1,314.0 C1963.8,316.1 1967.3,318.3 1970.8,320.6 C1974.3,322.8 1977.6,325.2 1981.0,327.6 C1984.4,330.0 1987.8,332.3 1991.2,334.7 C1994.5,337.1 1997.9,339.4 2001.2,341.9 C2004.5,344.4 2007.6,347.0 2010.8,349.5 C2014.0,352.1 2017.1,354.7 2020.4,357.2 C2023.6,359.6 2027.0,362.1 2030.3,364.4 C2033.7,366.8 2037.0,369.2 2040.5,371.5 C2044.1,373.7 2047.8,375.6 2051.5,377.8 C2055.1,379.9 2058.7,382.0 2062.2,384.3 C2065.7,386.5 2069.3,388.7 2072.6,391.1 C2075.9,393.5 2078.9,396.2 2082.0,398.9 C2085.1,401.5 2088.3,404.1 2091.2,407.0 C2094.0,409.9 2096.6,413.0 2099.3,416.1 C2102.0,419.2 2104.6,422.2 2107.2,425.5 C2109.7,428.7 2112.0,432.1 2114.3,435.5 C2116.7,438.9 2119.1,442.2 2121.4,445.7 C2123.7,449.1 2126.0,452.6 2128.3,456.0 C2130.6,459.5 2132.8,463.0 2135.1,466.5 C2137.4,469.9 2139.7,473.3 2142.0,476.8 C2144.3,480.2 2146.6,483.6 2148.9,487.1 C2151.2,490.5 2153.5,493.9 2155.8,497.4 C2158.1,500.9 2160.3,504.5 2162.5,508.0 C2164.7,511.5 2166.9,515.0 2169.2,518.5 C2171.4,522.0 2173.7,525.5 2175.9,529.0 C2178.2,532.5 2180.4,536.1 2182.7,539.4 C2185.1,542.8 2187.7,545.9 2190.2,549.2 C2192.7,552.4 2195.3,555.6 2197.7,558.9 C2200.1,562.3 2202.3,565.8 2204.6,569.3 C2206.9,572.7 2209.3,576.0 2211.6,579.5 C2213.8,583.0 2216.0,586.6 2218.1,590.2 C2220.3,593.7 2222.6,597.2 2224.6,601.0 C2226.6,604.7 2228.4,608.6 2230.1,612.7 C2231.8,616.7 2227.0,621.6 2234.6,625.4 C2242.2,629.2 2264.8,627.1 2275.8,635.4 C2286.9,643.8 2294.2,665.1 2300.9,675.5 C2307.6,686.0 2312.2,693.1 2315.9,698.1 C2319.7,703.1 2321.0,705.2 2323.5,705.6 C2326.0,706.0 2327.4,703.9 2331.0,700.6 C2334.6,697.3 2341.0,693.1 2345.0,685.6 C2349.0,678.0 2350.9,666.4 2355.0,655.5 C2359.2,644.6 2364.2,632.1 2370.1,620.4 C2375.9,608.7 2382.6,595.8 2390.1,585.3 C2397.6,574.9 2408.1,564.0 2415.2,557.8 C2422.3,551.5 2424.4,547.7 2432.7,547.7 C2441.1,547.7 2452.8,553.8 2465.3,557.8 C2477.8,561.7 2497.7,568.2 2507.9,571.3 C2518.1,574.4 2523.3,575.5 2526.4,576.3"/>
<path d="M2574.6,591.3 C2577.2,592.0 2579.6,591.8 2590.6,595.4 C2601.6,598.9 2624.0,608.0 2640.7,612.9 C2657.4,617.7 2669.8,620.7 2690.8,624.4 C2711.9,628.2 2754.3,633.6 2767.0,635.4"/>
<path d="M1918.0,317.2 C1918.1,317.2 1917.8,317.1 1918.6,317.5 C1919.3,317.8 1920.1,318.1 1922.4,319.2 C1924.7,320.3 1929.1,322.5 1932.4,324.1 C1935.7,325.7 1939.1,327.3 1942.4,328.9 C1945.7,330.5 1949.1,332.1 1952.4,333.7 C1955.6,335.4 1958.9,337.1 1962.0,339.0 C1965.1,340.8 1968.0,342.8 1971.0,344.7 C1974.0,346.7 1977.0,348.6 1980.0,350.6 C1983.0,352.5 1986.0,354.4 1989.0,356.4 C1991.9,358.4 1994.9,360.3 1997.7,362.5 C2000.5,364.6 2003.1,367.0 2005.8,369.2 C2008.5,371.5 2011.2,373.7 2013.9,375.9 C2016.6,378.2 2019.3,380.5 2022.0,382.7 C2024.7,384.9 2027.4,387.1 2030.2,389.2 C2033.1,391.3 2036.0,393.3 2039.0,395.3 C2042.0,397.2 2045.2,399.0 2048.2,400.9 C2051.2,402.9 2054.1,404.9 2057.0,406.9 C2059.9,409.0 2062.8,411.0 2065.6,413.1 C2068.4,415.3 2071.2,417.4 2073.9,419.7 C2076.6,421.9 2079.3,424.2 2081.9,426.5 C2084.5,428.8 2087.0,431.2 2089.6,433.6 C2092.1,436.0 2094.7,438.4 2097.1,440.9 C2099.6,443.4 2101.9,446.0 2104.2,448.6 C2106.5,451.3 2108.7,454.1 2110.9,456.8 C2113.1,459.6 2115.3,462.3 2117.5,465.1 C2119.6,467.9 2121.6,470.7 2123.7,473.6 C2125.8,476.5 2127.9,479.3 2129.9,482.2 C2132.0,485.1 2134.2,487.9 2136.1,490.8 C2138.1,493.8 2139.9,497.0 2141.8,500.0 C2143.6,503.1 2145.5,506.2 2147.4,509.3 C2149.3,512.3 2151.2,515.3 2153.1,518.3 C2155.1,521.2 2157.2,524.1 2159.3,527.0 C2161.4,529.8 2163.4,532.7 2165.5,535.6 C2167.6,538.4 2169.5,541.4 2171.8,544.1 C2174.0,546.8 2176.4,549.4 2178.9,551.8 C2181.5,554.2 2184.5,556.1 2186.9,558.6 C2189.3,561.2 2191.1,564.3 2193.2,567.2 C2195.2,570.1 2197.2,573.1 2199.2,576.0 C2201.1,579.0 2193.9,570.1 2205.0,585.0 C2216.1,599.9 2250.7,643.7 2265.8,665.5 C2281.0,687.3 2287.5,702.3 2295.9,715.6 C2304.2,729.0 2311.3,739.4 2315.9,745.7 C2320.5,752.0 2320.1,752.1 2323.5,753.2 C2326.8,754.3 2332.4,752.5 2336.0,752.2 C2339.6,752.0 2344.3,752.0 2345.0,751.7 C2345.7,751.5 2338.3,751.2 2340.0,750.7 C2341.7,750.2 2352.5,749.0 2355.0,748.7"/>
<path d="M2405.2,730.7 C2409.3,726.5 2421.0,714.0 2430.2,705.6 C2439.4,697.3 2448.6,687.2 2460.3,680.6 C2472.0,673.9 2485.8,669.7 2500.4,665.5 C2515.0,661.3 2533.0,655.5 2548.0,655.5 C2563.0,655.5 2575.1,662.0 2590.6,665.5 C2606.0,669.0 2624.0,673.2 2640.7,676.5 C2657.4,679.9 2669.8,681.6 2690.8,685.6 C2711.9,689.6 2754.3,698.1 2767.0,700.6"/>
<path d="M1918.0,330.8 C1918.0,330.8 1917.9,330.7 1918.0,330.8 C1918.1,330.8 1917.9,330.7 1918.3,330.9 C1918.8,331.1 1919.9,331.7 1920.7,332.1 C1921.5,332.5 1922.2,332.8 1923.0,333.2 C1923.8,333.6 1924.6,334.0 1925.4,334.4 C1926.1,334.8 1926.8,335.1 1927.7,335.5 C1928.6,336.0 1929.6,336.5 1930.6,337.1 C1931.7,337.6 1933.0,338.3 1934.1,338.9 C1935.3,339.6 1936.5,340.2 1937.6,340.8 C1938.8,341.5 1940.0,342.1 1941.1,342.7 C1942.3,343.3 1943.5,344.0 1944.6,344.6 C1945.8,345.2 1947.0,345.9 1948.1,346.5 C1949.3,347.1 1950.5,347.7 1951.6,348.4 C1952.8,349.0 1953.9,349.7 1955.0,350.4 C1956.1,351.0 1957.2,351.8 1958.3,352.4 C1959.4,353.1 1960.5,353.8 1961.6,354.5 C1962.7,355.2 1963.8,355.9 1964.9,356.6 C1966.0,357.3 1967.1,358.0 1968.2,358.7 C1969.3,359.4 1970.4,360.1 1971.5,360.8 C1972.6,361.5 1973.7,362.2 1974.8,362.9 C1975.9,363.6 1977.0,364.3 1978.1,365.0 C1979.2,365.7 1980.3,366.4 1981.4,367.1 C1982.5,367.8 1983.6,368.5 1984.7,369.2 C1985.8,369.9 1986.9,370.5 1988.0,371.3 C1989.1,372.0 1990.1,372.7 1991.1,373.5 C1992.2,374.2 1993.2,375.0 1994.3,375.7 C1995.3,376.5 1996.4,377.2 1997.4,378.0 C1998.5,378.7 1999.5,379.4 2000.6,380.2 C2001.6,380.9 2002.7,381.7 2003.7,382.4 C2004.8,383.2 2005.8,383.9 2006.9,384.7 C2007.9,385.4 2009.0,386.2 2010.0,386.9 C2011.1,387.7 2012.1,388.4 2013.1,389.2 C2014.2,389.9 2015.2,390.7 2016.3,391.4 C2017.3,392.2 2018.4,392.9 2019.4,393.6 C2020.5,394.4 2021.5,395.1 2022.6,395.9 C2023.6,396.6 2024.7,397.4 2025.7,398.1 C2026.8,398.9 2027.8,399.7 2028.9,400.4 C2030.0,401.0 2031.2,401.7 2032.3,402.3 C2033.5,403.0 2035.2,403.9 2035.7,404.3"/>
<path d="M2102.5,457.5 C2103.0,458.1 2104.4,459.7 2105.3,460.8 C2106.3,461.9 2107.2,463.1 2108.1,464.2 C2109.0,465.4 2109.9,466.5 2110.8,467.7 C2111.7,468.8 2112.6,469.9 2113.5,471.1 C2114.4,472.3 2115.2,473.5 2116.1,474.7 C2117.0,475.9 2117.8,477.1 2118.7,478.3 C2119.5,479.5 2120.4,480.6 2121.2,481.8 C2122.1,483.0 2123.0,484.2 2123.8,485.4 C2124.6,486.6 2125.4,487.9 2126.2,489.2 C2127.0,490.4 2127.8,491.7 2128.6,492.9 C2129.4,494.2 2130.3,495.4 2131.0,496.7 C2131.8,498.0 2132.5,499.3 2133.2,500.7 C2133.9,502.0 2134.6,503.3 2135.4,504.6 C2136.1,506.0 2136.8,507.3 2137.5,508.6 C2138.3,509.9 2139.0,511.3 2139.7,512.6 C2140.5,513.9 2141.3,515.1 2142.0,516.4 C2142.8,517.7 2143.6,519.0 2144.4,520.3 C2145.2,521.5 2146.0,522.7 2146.8,523.9 C2147.7,525.1 2148.5,526.3 2149.4,527.5 C2150.2,528.8 2151.1,530.0 2151.9,531.2 C2152.8,532.4 2153.6,533.6 2154.5,534.8 C2155.3,536.0 2156.1,537.2 2157.0,538.4 C2157.8,539.6 2158.7,540.8 2159.5,542.0 C2160.4,543.2 2161.2,544.4 2162.1,545.6 C2162.9,546.8 2163.8,548.0 2164.7,549.2 C2165.5,550.4 2166.3,551.6 2167.2,552.8 C2168.1,553.9 2169.1,555.0 2170.1,556.1 C2171.1,557.1 2172.2,558.1 2173.2,559.1 C2174.2,560.1 2175.3,561.1 2176.3,562.1 C2177.4,563.2 2178.5,564.1 2179.4,565.2 C2180.4,566.3 2181.2,567.5 2182.0,568.7 C2182.9,569.9 2183.7,571.1 2184.6,572.4 C2185.4,573.6 2186.2,574.8 2187.1,576.0 C2187.9,577.2 2188.8,578.4 2189.6,579.6 C2190.5,580.8 2191.3,582.0 2192.2,583.2 C2193.0,584.4 2193.9,585.6 2194.7,586.8 C2195.5,588.1 2196.3,589.3 2197.1,590.5 C2197.9,591.8 2198.7,593.1 2199.5,594.3 C2200.3,595.6 2191.7,582.9 2201.9,598.1 C2212.1,613.3 2246.0,662.6 2260.8,685.6 C2275.6,708.5 2282.5,722.3 2290.9,735.7 C2299.2,749.0 2305.9,758.4 2310.9,765.8 C2315.9,773.1 2317.6,776.0 2321.0,779.8 C2324.3,783.5 2327.0,786.5 2331.0,788.3 C2335.0,790.1 2336.8,789.4 2345.0,790.8 C2353.2,792.2 2368.4,796.8 2380.1,796.8 C2391.8,796.8 2405.2,792.7 2415.2,790.8 C2425.2,789.0 2429.4,786.2 2440.2,785.8 C2451.1,785.4 2465.3,787.3 2480.3,788.3 C2495.4,789.3 2520.4,789.7 2530.4,791.8 C2540.5,793.9 2538.1,795.2 2540.5,800.8 C2542.8,806.5 2544.5,817.5 2544.5,825.9 C2544.5,834.2 2543.6,843.9 2540.5,851.0 C2537.3,858.1 2527.9,865.6 2525.4,868.5"/>
<path d="M1918.8,339.9 C1919.3,340.1 1920.2,340.5 1921.7,341.3 C1923.2,342.1 1925.2,343.3 1927.8,344.8 C1930.3,346.2 1933.7,348.3 1936.7,350.0 C1939.7,351.8 1942.8,353.5 1945.7,355.3 C1948.7,357.1 1951.6,359.0 1954.5,360.8 C1957.4,362.6 1960.3,364.5 1963.2,366.3 C1966.1,368.2 1969.0,370.0 1971.9,371.9 C1974.8,373.7 1977.7,375.6 1980.7,377.4 C1983.6,379.2 1986.6,381.0 1989.6,382.8 C1992.5,384.6 1995.4,386.4 1998.4,388.2 C2001.3,390.0 2004.3,391.8 2007.2,393.6 C2010.2,395.4 2013.1,397.2 2016.1,399.0 C2019.0,400.8 2021.9,402.6 2025.0,404.4 C2028.0,406.1 2031.1,407.7 2034.2,409.4 C2037.2,411.2 2040.2,412.9 2043.1,414.7 C2046.1,416.5 2049.0,418.3 2051.9,420.2 C2054.7,422.1 2057.4,424.2 2060.2,426.2 C2063.0,428.1 2065.7,430.1 2068.4,432.2 C2071.1,434.3 2073.7,436.4 2076.3,438.6 C2078.9,440.7 2081.6,442.8 2084.1,445.0 C2086.6,447.3 2088.9,449.7 2091.2,452.2 C2093.5,454.6 2095.8,457.1 2098.0,459.7 C2100.2,462.2 2102.4,464.7 2104.5,467.4 C2106.6,470.0 2108.6,472.8 2110.6,475.5 C2112.6,478.3 2114.6,481.0 2116.6,483.9 C2118.5,486.7 2120.4,489.5 2122.2,492.4 C2124.0,495.4 2125.7,498.5 2127.4,501.6 C2129.0,504.7 2130.6,507.8 2132.3,510.9 C2133.9,514.0 2135.6,517.1 2137.4,520.0 C2139.2,523.0 2141.2,525.8 2143.1,528.6 C2145.0,531.5 2146.9,534.3 2148.8,537.1 C2150.8,539.9 2152.7,542.8 2154.6,545.6 C2156.6,548.4 2158.4,551.3 2160.4,554.0 C2162.4,556.8 2164.5,559.5 2166.6,562.1 C2168.7,564.8 2171.0,567.2 2173.1,569.8 C2175.2,572.5 2177.2,575.3 2179.2,578.1 C2181.2,580.8 2183.1,583.6 2185.1,586.4 C2187.1,589.1 2189.1,591.9 2191.1,594.7 C2193.0,597.5 2187.8,588.8 2196.9,603.1 C2206.0,617.4 2232.6,658.5 2245.8,680.6 C2258.9,702.6 2267.5,720.6 2275.8,735.7 C2284.2,750.7 2291.7,761.2 2295.9,770.8 C2300.1,780.4 2300.1,789.6 2300.9,793.3"/>
<path d="M1918.0,354.8 C1918.3,355.0 1918.6,355.2 1919.6,355.8 C1920.6,356.4 1922.0,357.4 1923.8,358.4 C1925.5,359.5 1927.7,360.8 1929.9,362.1 C1932.1,363.4 1934.7,364.9 1937.1,366.2 C1939.5,367.6 1941.9,369.0 1944.3,370.4 C1946.6,371.8 1949.0,373.2 1951.4,374.6 C1953.7,376.1 1956.0,377.6 1958.3,379.1 C1960.6,380.5 1962.9,382.0 1965.2,383.5 C1967.5,384.9 1969.8,386.4 1972.2,387.8 C1974.5,389.3 1976.9,390.7 1979.3,392.1 C1981.6,393.5 1984.0,394.9 1986.4,396.3 C1988.7,397.7 1991.1,399.1 1993.5,400.5 C1995.8,401.9 1998.2,403.4 2000.5,404.8 C2002.9,406.2 2005.2,407.7 2007.5,409.2 C2009.8,410.7 2012.1,412.1 2014.4,413.6 C2016.7,415.0 2019.1,416.5 2021.4,418.0 C2023.7,419.4 2025.9,420.9 2028.2,422.5 C2030.5,424.0 2032.7,425.5 2034.9,427.1 C2037.1,428.6 2039.2,430.3 2041.5,431.8 C2043.8,433.3 2046.4,434.5 2048.7,435.9 C2051.1,437.4 2053.3,438.9 2055.5,440.5 C2057.6,442.2 2059.6,443.9 2061.7,445.6 C2063.8,447.4 2065.8,449.1 2067.8,450.8 C2069.9,452.6 2072.0,454.2 2074.0,456.0 C2076.0,457.8 2077.9,459.7 2079.8,461.5 C2081.8,463.3 2083.7,465.2 2085.7,467.0 C2087.6,468.8 2089.6,470.6 2091.5,472.5 C2093.4,474.4 2095.2,476.4 2097.0,478.4 C2098.8,480.3 2100.6,482.3 2102.3,484.4 C2104.0,486.5 2105.5,488.7 2107.1,490.9 C2108.6,493.2 2110.2,495.4 2111.6,497.7 C2113.0,500.1 2114.3,502.6 2115.6,505.1 C2117.0,507.5 2118.3,509.9 2119.7,512.3 C2121.1,514.7 2122.5,517.1 2123.9,519.5 C2125.3,521.8 2126.7,524.2 2128.2,526.5 C2129.7,528.8 2131.3,531.0 2132.8,533.2 C2134.3,535.4 2135.9,537.7 2137.4,539.9 C2138.9,542.2 2140.5,544.4 2142.0,546.7 C2143.5,548.9 2145.8,552.3 2146.6,553.4"/>
</g>
<text x="2113.0" y="86.6" font-family="Liberation Sans, sans-serif" font-size="25.0" text-anchor="middle" fill="#ff0000" textLength="45.0" lengthAdjust="spacingAndGlyphs" transform="rotate(10.0 2113.0 78.0)">284</text>
<text x="2112.0" y="194.6" font-family="Liberation Sans, sans-serif" font-size="25.0" text-anchor="middle" fill="#ff0000" textLength="45.0" lengthAdjust="spacingAndGlyphs" transform="rotate(3.0 2112.0 186.0)">282</text>
<text x="2133.0" y="307.6" font-family="Liberation Sans, sans-serif" font-size="25.0" text-anchor="middle" fill="#ff0000" textLength="45.0" lengthAdjust="spacingAndGlyphs" transform="rotate(15.0 2133.0 299.0)">280</text>
<text x="2207.0" y="472.6" font-family="Liberation Sans, sans-serif" font-size="25.0" text-anchor="middle" fill="#ff0000" textLength="45.0" lengthAdjust="spacingAndGlyphs" transform="rotate(0.0 2207.0 464.0)">278</text>
<text x="2272.0" y="592.6" font-family="Liberation Sans, sans-serif" font-size="25.0" text-anchor="middle" fill="#ff0000" textLength="45.0" lengthAdjust="spacingAndGlyphs" transform="rotate(-20.0 2272.0 584.0)">276</text>
<text x="2549.5" y="589.6" font-family="Liberation Sans, sans-serif" font-size="25.0" text-anchor="middle" fill="#ff0000" textLength="45.0" lengthAdjust="spacingAndGlyphs" transform="rotate(12.0 2549.5 581.0)">274</text>
<text x="2375.0" y="751.6" font-family="Liberation Sans, sans-serif" font-size="25.0" text-anchor="middle" fill="#ff0000" textLength="45.0" lengthAdjust="spacingAndGlyphs" transform="rotate(-25.0 2375.0 743.0)">272</text>
<text x="2114.5" y="495.6" font-family="Liberation Sans, sans-serif" font-size="25.0" text-anchor="middle" fill="#ff0000" textLength="45.0" lengthAdjust="spacingAndGlyphs" transform="rotate(50.0 2114.5 487.0)">270</text>
</g>
<line x1="2032.2" y1="83.6" x2="2032.2" y2="869.9" stroke="#000" stroke-width="2.1" stroke-dasharray="7.7 3.3"/>
<line x1="2234.4" y1="83.6" x2="2234.4" y2="869.9" stroke="#000" stroke-width="2.1" stroke-dasharray="7.7 3.3"/>
</g>
<rect x="1920.4" y="83.6" width="844.6" height="786.3" fill="none" stroke="#000" stroke-width="2.4"/>
<text x="1996.7" y="923.7" font-family="Liberation Sans, sans-serif" font-size="42.6" text-anchor="middle" fill="#000" textLength="123.8" lengthAdjust="spacingAndGlyphs">−67.5</text>
<text x="2150.3" y="923.7" font-family="Liberation Sans, sans-serif" font-size="42.6" text-anchor="middle" fill="#000" textLength="123.8" lengthAdjust="spacingAndGlyphs">−67.0</text>
<text x="2303.9" y="923.7" font-family="Liberation Sans, sans-serif" font-size="42.6" text-anchor="middle" fill="#000" textLength="123.8" lengthAdjust="spacingAndGlyphs">−66.5</text>
<text x="2457.5" y="923.7" font-family="Liberation Sans, sans-serif" font-size="42.6" text-anchor="middle" fill="#000" textLength="123.8" lengthAdjust="spacingAndGlyphs">−66.0</text>
<text x="2611.1" y="923.7" font-family="Liberation Sans, sans-serif" font-size="42.6" text-anchor="middle" fill="#000" textLength="123.8" lengthAdjust="spacingAndGlyphs">−65.5</text>
<text x="2764.7" y="923.7" font-family="Liberation Sans, sans-serif" font-size="42.6" text-anchor="middle" fill="#000" textLength="123.8" lengthAdjust="spacingAndGlyphs">−65.0</text>
<path d="M1997.2,869.9v10.4M2150.8,869.9v10.4M2304.4,869.9v10.4M2458.0,869.9v10.4M2611.6,869.9v10.4M2765.2,869.9v10.4M1920.4,869.9h-10.8M1920.4,726.8h-10.8M1920.4,583.6h-10.8M1920.4,440.4h-10.8M1920.4,297.3h-10.8M1920.4,154.1h-10.8" stroke="#000" stroke-width="2.2" fill="none"/>
<text x="2342.7" y="975.4" font-family="Liberation Sans, sans-serif" font-size="42.6" text-anchor="middle" fill="#000" textLength="238.1" lengthAdjust="spacingAndGlyphs">Latitude (°)</text>
<text x="2342.7" y="66.0" font-family="Liberation Sans, sans-serif" font-size="62.5" text-anchor="middle" fill="#000" textLength="188.6" lengthAdjust="spacingAndGlyphs">40 km</text>
</g>
<rect x="2817.5" y="807.19" width="38.4" height="63.01" fill="#471063"/>
<rect x="2817.5" y="744.78" width="38.4" height="63.01" fill="#472d7b"/>
<rect x="2817.5" y="682.38" width="38.4" height="63.01" fill="#404688"/>
<rect x="2817.5" y="619.97" width="38.4" height="63.01" fill="#365d8d"/>
<rect x="2817.5" y="557.56" width="38.4" height="63.01" fill="#2c728e"/>
<rect x="2817.5" y="495.15" width="38.4" height="63.01" fill="#24868e"/>
<rect x="2817.5" y="432.74" width="38.4" height="63.01" fill="#1f9a8a"/>
<rect x="2817.5" y="370.33" width="38.4" height="63.01" fill="#28ae80"/>
<rect x="2817.5" y="307.93" width="38.4" height="63.01" fill="#48c16e"/>
<rect x="2817.5" y="245.52" width="38.4" height="63.01" fill="#75d054"/>
<rect x="2817.5" y="183.11" width="38.4" height="63.01" fill="#addc30"/>
<rect x="2817.5" y="120.70" width="38.4" height="63.01" fill="#e5e419"/>
<path d="M2817.5,121.3L2836.7,83.6L2855.9,121.3Z" fill="#fde725"/>
<path d="M2817.5,869.9L2817.5,121.0L2836.7,83.6L2855.9,121.0L2855.9,869.9Z" fill="none" stroke="#000" stroke-width="2.3" stroke-linejoin="miter"/>
<text x="2877.5" y="884.9" font-family="Liberation Sans, sans-serif" font-size="42.6" text-anchor="start" fill="#000" textLength="26.5" lengthAdjust="spacingAndGlyphs">0</text>
<text x="2877.5" y="760.1" font-family="Liberation Sans, sans-serif" font-size="42.6" text-anchor="start" fill="#000" textLength="26.5" lengthAdjust="spacingAndGlyphs">4</text>
<text x="2877.5" y="635.3" font-family="Liberation Sans, sans-serif" font-size="42.6" text-anchor="start" fill="#000" textLength="26.5" lengthAdjust="spacingAndGlyphs">8</text>
<text x="2877.5" y="510.4" font-family="Liberation Sans, sans-serif" font-size="42.6" text-anchor="start" fill="#000" textLength="53.0" lengthAdjust="spacingAndGlyphs">12</text>
<text x="2877.5" y="385.6" font-family="Liberation Sans, sans-serif" font-size="42.6" text-anchor="start" fill="#000" textLength="53.0" lengthAdjust="spacingAndGlyphs">16</text>
<text x="2877.5" y="260.8" font-family="Liberation Sans, sans-serif" font-size="42.6" text-anchor="start" fill="#000" textLength="53.0" lengthAdjust="spacingAndGlyphs">20</text>
<text x="2877.5" y="136.0" font-family="Liberation Sans, sans-serif" font-size="42.6" text-anchor="start" fill="#000" textLength="53.0" lengthAdjust="spacingAndGlyphs">24</text>
<path d="M2855.9,869.9h10.6M2855.9,745.1h10.6M2855.9,620.3h10.6M2855.9,495.4h10.6M2855.9,370.6h10.6M2855.9,245.8h10.6M2855.9,121.0h10.6" stroke="#000" stroke-width="2.2" fill="none"/>
<g transform="rotate(-90 2977.5 496.0)"><text x="2977.5" y="496.0" font-family="Liberation Sans, sans-serif" font-size="42.6" text-anchor="middle" textLength="112" lengthAdjust="spacingAndGlyphs">m s<tspan font-size="29.8" dy="-16">−1</tspan></text></g>
</svg></body></html>
